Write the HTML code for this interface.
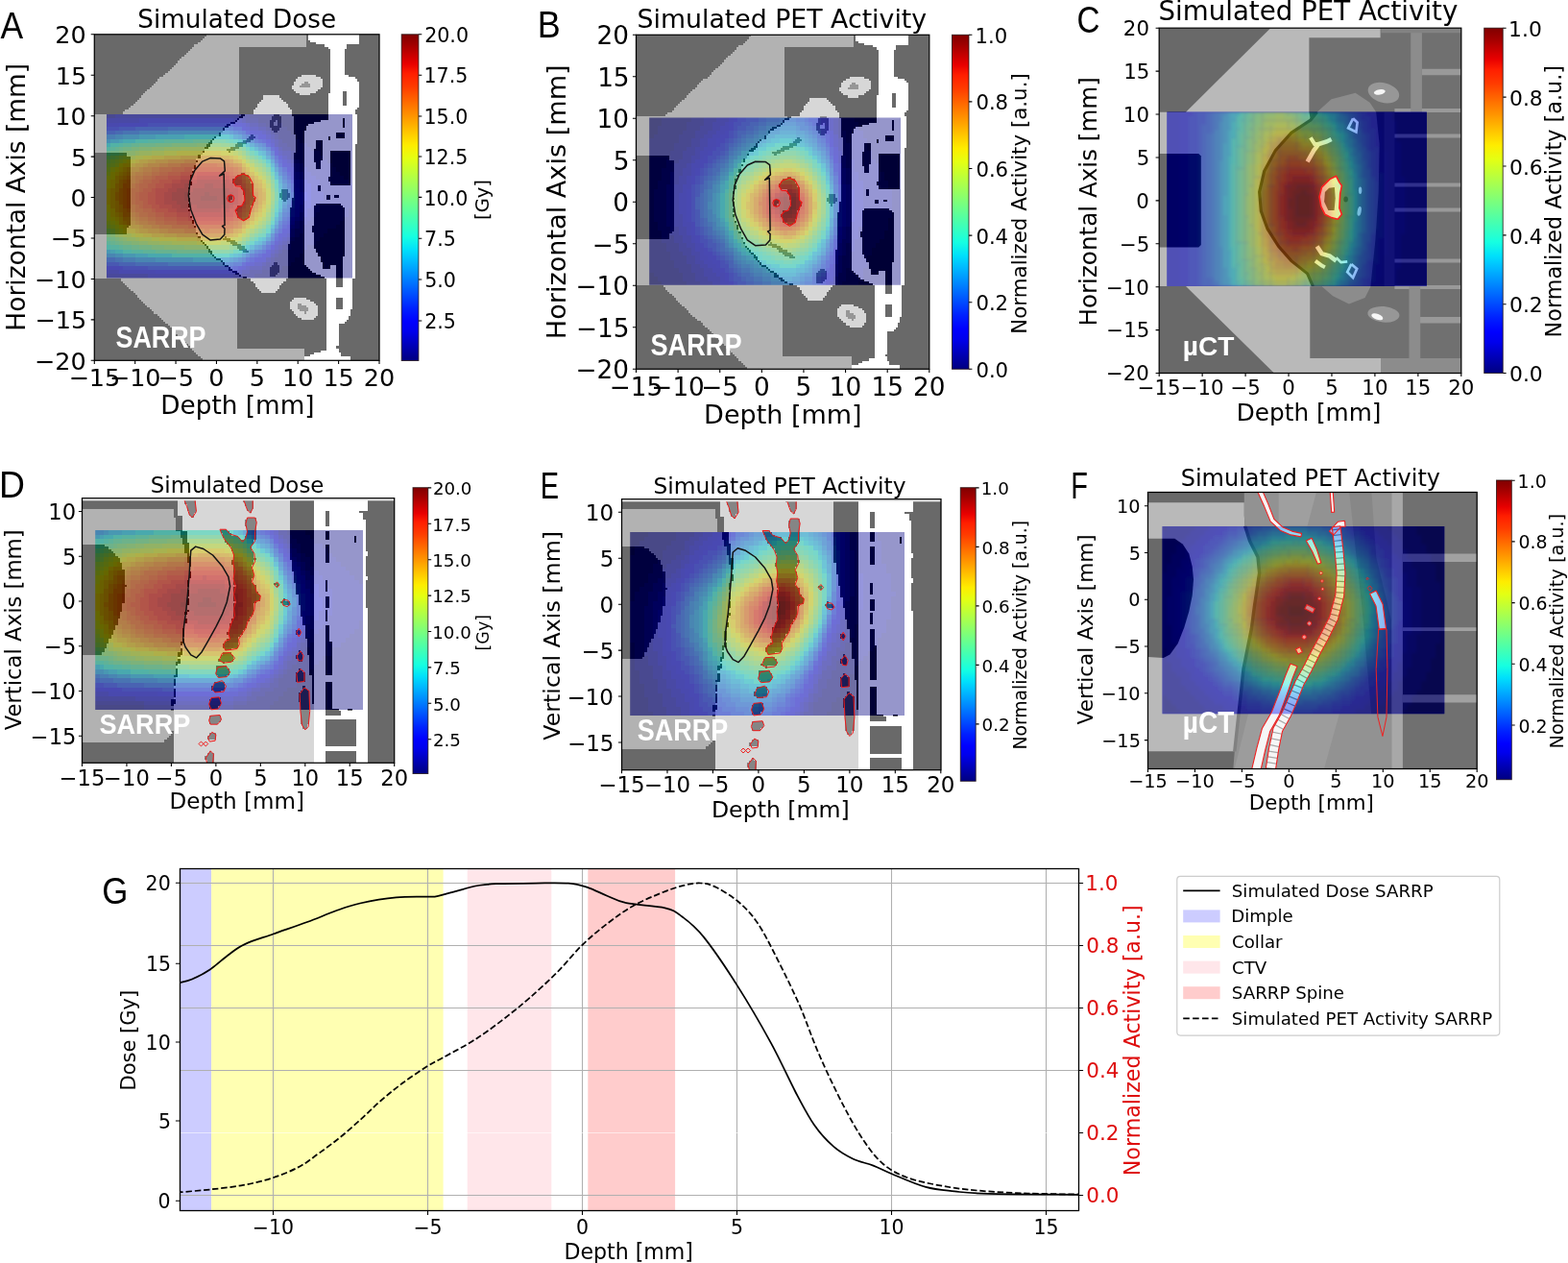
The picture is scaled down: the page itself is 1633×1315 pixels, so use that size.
<!DOCTYPE html>
<html lang="en"><head><meta charset="utf-8"><title>Simulated Dose and PET Activity</title>
<style>
html,body{margin:0;padding:0;background:#fff}
body{width:1633px;height:1315px;overflow:hidden}
svg{display:block}
.dv{font-family:"DejaVu Sans","Liberation Sans",sans-serif}
.lb{font-family:"Liberation Sans","DejaVu Sans",sans-serif}
.tg{font-family:"Liberation Sans","DejaVu Sans",sans-serif;font-weight:bold}
</style></head><body>
<svg width="1633" height="1315" viewBox="0 0 1633 1315">
<defs><filter id="bl" x="-5%" y="-5%" width="110%" height="110%"><feGaussianBlur stdDeviation="1.6"/></filter><linearGradient id="jet" x1="0" y1="1" x2="0" y2="0"><stop offset="0" stop-color="#000080"/><stop offset="0.03" stop-color="#0000a4"/><stop offset="0.06" stop-color="#0000c8"/><stop offset="0.09" stop-color="#0000ed"/><stop offset="0.12" stop-color="#0000ff"/><stop offset="0.16" stop-color="#0020ff"/><stop offset="0.19" stop-color="#0040ff"/><stop offset="0.22" stop-color="#0060ff"/><stop offset="0.25" stop-color="#0080ff"/><stop offset="0.28" stop-color="#00a0ff"/><stop offset="0.31" stop-color="#00c0ff"/><stop offset="0.34" stop-color="#00e0fb"/><stop offset="0.38" stop-color="#16ffe1"/><stop offset="0.41" stop-color="#30ffc7"/><stop offset="0.44" stop-color="#49ffad"/><stop offset="0.47" stop-color="#63ff94"/><stop offset="0.5" stop-color="#7dff7a"/><stop offset="0.53" stop-color="#97ff60"/><stop offset="0.56" stop-color="#b1ff46"/><stop offset="0.59" stop-color="#caff2c"/><stop offset="0.62" stop-color="#e4ff13"/><stop offset="0.66" stop-color="#feed00"/><stop offset="0.69" stop-color="#ffd000"/><stop offset="0.72" stop-color="#ffb200"/><stop offset="0.75" stop-color="#ff9400"/><stop offset="0.78" stop-color="#ff7700"/><stop offset="0.81" stop-color="#ff5900"/><stop offset="0.84" stop-color="#ff3b00"/><stop offset="0.88" stop-color="#ff1e00"/><stop offset="0.91" stop-color="#e80000"/><stop offset="0.94" stop-color="#c40000"/><stop offset="0.97" stop-color="#9f0000"/><stop offset="1" stop-color="#800000"/></linearGradient></defs>
<rect width="1633" height="1315" fill="#fff"/>
<g id="panelA">
<clipPath id="axA"><rect x="98.3" y="35.8" width="296.7" height="339.5"/></clipPath>
<clipPath id="htA"><rect x="111" y="119" width="256" height="170.6"/></clipPath>
<g clip-path="url(#axA)">
<g clip-path="url(#htA)">
<g shape-rendering="crispEdges">
<g transform="translate(111.02,118.98) scale(4.2668,4.2650)">
<path fill="#000080" d="m41 0h19v1h-19zm1 1h18v1h-18zm1 1h17v1h-17zm1 1h16v1h-16zm1 1h15v1h-15zm1 1h14v1h-14zm1 1h13v1h-13zm2 1h11v1h-11zm1 1h10v1h-10zm2 1h8v1h-8zm1 1h7v1h-7zm1 1h6v1h-6zm1 1h5v1h-5zm1 1h4v1h-4zm1 1h3v1h-3zm1 1h2v1h-2zm1 1h1v1h-1zm0 7h1v1h-1zm0 1h1v1h-1zm-1 1h2v1h-2zm-1 1h3v1h-3zm-1 1h4v1h-4zm-2 1h6v1h-6zm-1 1h7v1h-7zm-1 1h8v1h-8zm-1 1h9v1h-9zm-2 1h11v1h-11zm-1 1h12v1h-12zm-1 1h13v1h-13zm-1 1h14v1h-14zm-1 1h15v1h-15zm-2 1h17v1h-17zm-1 1h18v1h-18zm-1 1h19v1h-19z"/>
<path fill="#000096" d="m35 0h6v1h-6zm2 1h5v1h-5zm2 1h4v1h-4zm1 1h4v1h-4zm1 1h4v1h-4zm1 1h4v1h-4zm1 1h4v1h-4zm1 1h5v1h-5zm1 1h5v1h-5zm1 1h6v1h-6zm0 1h7v1h-7zm1 1h7v1h-7zm1 1h7v1h-7zm1 1h7v1h-7zm1 1h7v1h-7zm1 1h7v1h-7zm1 1h7v1h-7zm0 1h8v1h-8zm0 1h8v1h-8zm1 1h7v1h-7zm0 1h7v1h-7zm-1 1h8v1h-8zm0 1h8v1h-8zm0 1h7v1h-7zm-1 1h8v1h-8zm-1 1h8v1h-8zm-1 1h8v1h-8zm-1 1h8v1h-8zm0 1h6v1h-6zm-1 1h6v1h-6zm-1 1h6v1h-6zm-1 1h6v1h-6zm0 1h4v1h-4zm-2 1h5v1h-5zm-1 1h5v1h-5zm-1 1h5v1h-5zm0 1h4v1h-4zm-1 1h3v1h-3zm-2 1h4v1h-4zm-2 1h5v1h-5z"/>
<path fill="#0000ad" d="m0 0h2v1h-2zm32 0h3v1h-3zm2 1h3v1h-3zm3 1h2v1h-2zm2 1h1v1h-1zm1 1h1v1h-1zm1 1h1v1h-1zm1 1h1v1h-1zm0 1h2v1h-2zm1 1h2v1h-2zm2 1h1v1h-1zm0 1h1v1h-1zm1 1h1v1h-1zm1 1h1v1h-1zm0 1h2v1h-2zm1 1h2v1h-2zm0 1h3v1h-3zm1 1h3v1h-3zm1 1h2v1h-2zm0 1h2v1h-2zm0 1h3v1h-3zm0 1h3v1h-3zm0 1h2v1h-2zm0 1h2v1h-2zm-1 1h3v1h-3zm0 1h2v1h-2zm-1 1h2v1h-2zm-1 1h2v1h-2zm0 1h1v1h-1zm-1 1h2v1h-2zm0 1h1v1h-1zm-1 1h1v1h-1zm-1 1h1v1h-1zm-1 1h2v1h-2zm-1 1h1v1h-1zm-1 1h1v1h-1zm-1 1h1v1h-1zm-1 1h2v1h-2zm-1 1h2v1h-2zm-3 1h3v1h-3zm-2 1h3v1h-3z"/>
<path fill="#0000c8" d="m2 0h30v1h-30zm31 1h1v1h-1zm2 1h2v1h-2zm2 1h2v1h-2zm2 1h1v1h-1zm1 1h1v1h-1zm1 1h1v1h-1zm0 1h1v1h-1zm1 1h1v1h-1zm1 1h2v1h-2zm1 1h1v1h-1zm1 1h1v1h-1zm1 1h1v1h-1zm0 1h1v1h-1zm1 1h1v1h-1zm0 1h1v1h-1zm1 1h1v1h-1zm0 1h2v1h-2zm0 1h2v1h-2zm1 1h1v1h-1zm0 1h1v1h-1zm-1 1h2v1h-2zm0 1h2v1h-2zm0 1h1v1h-1zm-1 1h2v1h-2zm0 1h1v1h-1zm-1 1h1v1h-1zm0 1h1v1h-1zm-1 1h1v1h-1zm0 1h1v1h-1zm-1 1h1v1h-1zm-1 1h1v1h-1zm-1 1h1v1h-1zm-1 1h1v1h-1zm-1 1h1v1h-1zm-1 1h1v1h-1zm-1 1h1v1h-1zm-3 1h3v1h-3zm-2 1h2v1h-2zm-33 1h10v1h-10zm31 0h2v1h-2z"/>
<path fill="#0000df" d="m0 1h8v1h-8zm31 0h2v1h-2zm3 1h1v1h-1zm1 1h2v1h-2zm3 1h1v1h-1zm1 1h1v1h-1zm1 1h1v1h-1zm2 3h1v1h-1zm1 1h1v1h-1zm1 1h1v1h-1zm1 1h1v1h-1zm1 2h1v1h-1zm0 1h1v1h-1zm1 1h1v1h-1zm0 1h1v1h-1zm0 1h1v1h-1zm1 1h1v1h-1zm0 1h1v1h-1zm-1 2h1v1h-1zm0 1h1v1h-1zm-1 2h1v1h-1zm-1 2h1v1h-1zm-1 2h1v1h-1zm-1 1h1v1h-1zm-1 1h1v1h-1zm-1 1h1v1h-1zm-1 1h1v1h-1zm-4 3h2v1h-2zm-2 1h1v1h-1zm-34 1h3v1h-3zm32 0h1v1h-1zm-22 1h21v1h-21z"/>
<path fill="#0000f6" d="m8 1h23v1h-23zm-8 1h3v1h-3zm33 0h1v1h-1zm1 1h1v1h-1zm2 1h2v1h-2zm4 3h1v1h-1zm1 1h1v1h-1zm2 3h1v1h-1zm1 1h1v1h-1zm1 1h1v1h-1zm0 1h1v1h-1zm1 2h1v1h-1zm0 1h1v1h-1zm1 2h1v1h-1zm0 1h1v1h-1zm0 1h1v1h-1zm-1 2h1v1h-1zm0 1h1v1h-1zm-1 2h1v1h-1zm-1 2h1v1h-1zm-1 1h1v1h-1zm-1 1h1v1h-1zm-1 1h1v1h-1zm-2 3h1v1h-1zm-2 1h2v1h-2zm-2 1h1v1h-1zm-2 1h1v1h-1zm-30 1h9v1h-9zm27 0h2v1h-2z"/>
<path fill="#0000ff" d="m3 2h7v1h-7zm28 0h2v1h-2zm2 1h1v1h-1zm2 1h1v1h-1zm2 1h2v1h-2zm2 1h1v1h-1zm2 3h1v1h-1zm1 1h1v1h-1zm1 2h1v1h-1zm1 1h1v1h-1zm1 2h1v1h-1zm1 3h1v1h-1zm0 1h1v1h-1zm0 1h1v1h-1zm0 1h1v1h-1zm0 1h1v1h-1zm-1 3h1v1h-1zm-1 2h1v1h-1zm-1 1h1v1h-1zm-1 1h1v1h-1zm-2 3h1v1h-1zm-1 1h1v1h-1zm-1 1h1v1h-1zm-2 1h1v1h-1zm-2 1h1v1h-1zm-34 1h4v1h-4zm32 0h1v1h-1zm-20 1h18v1h-18z"/>
<path fill="#0014ff" d="m10 2h21v1h-21zm-10 1h3v1h-3zm34 1h1v1h-1zm2 1h1v1h-1zm2 1h1v1h-1zm1 1h1v1h-1zm1 1h1v1h-1zm2 3h1v1h-1zm2 3h1v1h-1zm1 2h1v1h-1zm0 7h1v1h-1zm0 1h1v1h-1zm-1 2h1v1h-1zm-1 1h1v1h-1zm-2 3h1v1h-1zm-4 4h1v1h-1zm-2 1h1v1h-1zm-2 1h1v1h-1zm-29 1h6v1h-6zm27 0h1v1h-1z"/>
<path fill="#0028ff" d="m3 3h4v1h-4zm28 0h2v1h-2zm4 2h1v1h-1zm2 1h1v1h-1zm4 4h1v1h-1zm1 2h1v1h-1zm1 1h1v1h-1zm1 2h1v1h-1zm1 2h1v1h-1zm0 1h1v1h-1zm0 3h1v1h-1zm0 1h1v1h-1zm-1 3h1v1h-1zm-1 1h1v1h-1zm-1 2h1v1h-1zm-1 1h1v1h-1zm-1 2h1v1h-1zm-1 1h1v1h-1zm-1 1h1v1h-1zm-2 1h1v1h-1zm-2 1h1v1h-1zm-34 1h3v1h-3zm10 1h21v1h-21z"/>
<path fill="#0040ff" d="m7 3h8v1h-8zm23 0h1v1h-1zm-30 1h2v1h-2zm33 0h1v1h-1zm3 2h1v1h-1zm4 3h1v1h-1zm1 2h1v1h-1zm2 3h1v1h-1zm1 2h1v1h-1zm1 3h1v1h-1zm0 1h1v1h-1zm-1 4h1v1h-1zm-1 1h1v1h-1zm-1 2h1v1h-1zm-5 6h1v1h-1zm-2 1h1v1h-1zm-32 2h4v1h-4zm28 0h2v1h-2z"/>
<path fill="#0054ff" d="m15 3h15v1h-15zm-13 1h2v1h-2zm30 0h1v1h-1zm2 1h1v1h-1zm4 2h1v1h-1zm1 1h1v1h-1zm3 5h1v1h-1zm1 2h1v1h-1zm1 2h1v1h-1zm0 5h1v1h-1zm0 1h1v1h-1zm-1 1h1v1h-1zm-1 2h1v1h-1zm-1 2h1v1h-1zm-1 2h1v1h-1zm-1 1h1v1h-1zm-1 1h1v1h-1zm-2 1h1v1h-1zm-36 2h2v1h-2zm33 0h1v1h-1zm-26 1h8v1h-8zm23 0h1v1h-1z"/>
<path fill="#0068ff" d="m4 4h4v1h-4zm27 0h1v1h-1zm2 1h1v1h-1zm2 1h1v1h-1zm2 1h1v1h-1zm3 3h1v1h-1zm1 2h1v1h-1zm1 2h1v1h-1zm1 2h1v1h-1zm1 2h1v1h-1zm0 1h1v1h-1zm0 1h1v1h-1zm0 1h1v1h-1zm-1 2h1v1h-1zm-3 6h1v1h-1zm-6 5h1v1h-1zm-32 1h2v1h-2zm30 0h1v1h-1zm-17 1h15v1h-15z"/>
<path fill="#0080ff" d="m8 4h7v1h-7zm22 0h1v1h-1zm-30 1h2v1h-2zm34 1h1v1h-1zm2 1h1v1h-1zm2 1h1v1h-1zm1 1h1v1h-1zm4 8h1v1h-1zm0 5h1v1h-1zm-1 3h1v1h-1zm-1 2h1v1h-1zm-4 5h1v1h-1zm-2 1h1v1h-1zm-31 2h3v1h-3zm27 0h1v1h-1z"/>
<path fill="#0094ff" d="m15 4h15v1h-15zm-13 1h2v1h-2zm30 0h1v1h-1zm5 3h1v1h-1zm3 3h1v1h-1zm1 2h1v1h-1zm1 2h1v1h-1zm1 3h1v1h-1zm0 1h1v1h-1zm0 1h1v1h-1zm0 1h1v1h-1zm-1 3h1v1h-1zm-3 6h1v1h-1zm-1 1h1v1h-1zm-2 1h1v1h-1zm-36 2h2v1h-2zm33 0h1v1h-1zm-26 1h5v1h-5zm23 0h1v1h-1z"/>
<path fill="#00a8ff" d="m4 5h4v1h-4zm27 0h1v1h-1zm-31 1h1v1h-1zm35 1h1v1h-1zm4 3h1v1h-1zm3 6h1v1h-1zm-1 10h1v1h-1zm-1 2h1v1h-1zm-6 5h1v1h-1zm-32 1h2v1h-2zm10 1h9v1h-9zm16 0h2v1h-2z"/>
<path fill="#00c0ff" d="m8 5h4v1h-4zm-7 1h2v1h-2zm32 0h1v1h-1zm3 2h1v1h-1zm2 1h1v1h-1zm2 3h1v1h-1zm1 2h1v1h-1zm1 3h1v1h-1zm0 6h1v1h-1zm-1 2h1v1h-1zm-2 4h1v1h-1zm-2 2h1v1h-1zm-2 1h1v1h-1zm-35 1h1v1h-1zm4 1h3v1h-3zm28 0h1v1h-1zm-11 1h7v1h-7z"/>
<path fill="#00d4ff" d="m12 5h7v1h-7zm18 0h1v1h-1zm-27 1h1v1h-1zm31 1h1v1h-1zm3 2h1v1h-1zm4 6h1v1h-1zm1 3h1v1h-1zm0 3h1v1h-1zm0 1h1v1h-1zm-2 5h1v1h-1zm-2 3h1v1h-1zm-2 1h1v1h-1zm-35 2h1v1h-1zm32 0h1v1h-1zm-26 1h3v1h-3zm24 0h1v1h-1z"/>
<path fill="#02e8f4" d="m19 5h11v1h-11zm-15 1h3v1h-3zm28 0h1v1h-1zm-32 1h1v1h-1zm35 1h1v1h-1zm3 2h1v1h-1zm1 1h1v1h-1zm1 2h1v1h-1zm2 6h1v1h-1zm0 1h1v1h-1zm-1 4h1v1h-1zm-4 6h1v1h-1zm-3 2h1v1h-1zm-32 1h2v1h-2zm8 1h6v1h-6zm20 0h1v1h-1z"/>
<path fill="#16ffe1" d="m7 6h3v1h-3zm24 0h1v1h-1zm-30 1h2v1h-2zm32 0h1v1h-1zm3 2h1v1h-1zm5 7h1v1h-1zm0 7h1v1h-1zm-1 3h1v1h-1zm-1 2h1v1h-1zm-4 3h1v1h-1zm-35 1h1v1h-1zm4 1h2v1h-2zm28 0h1v1h-1zm-16 1h14v1h-14z"/>
<path fill="#26ffd1" d="m10 6h4v1h-4zm20 0h1v1h-1zm-27 1h1v1h-1zm-3 1h1v1h-1zm34 0h1v1h-1zm3 2h1v1h-1zm2 2h1v1h-1zm1 2h1v1h-1zm1 3h1v1h-1zm0 5h1v1h-1zm-3 7h1v1h-1zm-2 1h1v1h-1zm-35 2h2v1h-2zm32 0h1v1h-1zm-27 1h3v1h-3zm25 0h1v1h-1z"/>
<path fill="#36ffc1" d="m14 6h7v1h-7zm15 0h1v1h-1zm-25 1h2v1h-2zm28 0h1v1h-1zm-31 1h1v1h-1zm34 1h1v1h-1zm3 2h1v1h-1zm3 7h1v1h-1zm0 3h1v1h-1zm-1 4h1v1h-1zm-1 2h1v1h-1zm-2 2h1v1h-1zm-37 2h1v1h-1zm34 0h1v1h-1zm-31 1h1v1h-1zm6 1h3v1h-3z"/>
<path fill="#49ffad" d="m21 6h8v1h-8zm-15 1h2v1h-2zm-4 1h1v1h-1zm34 2h1v1h-1zm4 5h1v1h-1zm1 4h1v1h-1zm0 1h1v1h-1zm-3 8h1v1h-1zm-3 2h1v1h-1zm-34 1h1v1h-1zm3 1h2v1h-2zm8 1h5v1h-5zm18 0h1v1h-1z"/>
<path fill="#5aff9d" d="m8 7h4v1h-4zm23 0h1v1h-1zm-28 1h1v1h-1zm30 0h1v1h-1zm-33 1h1v1h-1zm34 0h1v1h-1zm3 2h1v1h-1zm2 2h1v1h-1zm1 11h1v1h-1zm-4 5h1v1h-1zm-36 1h1v1h-1zm2 1h1v1h-1zm4 1h2v1h-2zm26 0h1v1h-1zm-15 1h13v1h-13z"/>
<path fill="#6aff8d" d="m12 7h4v1h-4zm18 0h1v1h-1zm-26 1h2v1h-2zm-3 1h2v1h-2zm34 1h1v1h-1zm3 2h1v1h-1zm2 4h1v1h-1zm0 7h1v1h-1zm-1 3h1v1h-1zm-2 2h1v1h-1zm-36 2h1v1h-1zm2 1h1v1h-1zm30 0h1v1h-1zm-25 1h3v1h-3zm23 0h1v1h-1z"/>
<path fill="#7dff7a" d="m16 7h6v1h-6zm12 0h2v1h-2zm-22 1h2v1h-2zm26 0h1v1h-1zm-29 1h1v1h-1zm-3 1h1v1h-1zm36 1h1v1h-1zm3 3h1v1h-1zm1 3h1v1h-1zm0 5h1v1h-1zm-2 5h1v1h-1zm-38 2h1v1h-1zm35 0h1v1h-1zm-33 1h1v1h-1zm32 0h1v1h-1zm-30 1h2v1h-2zm7 1h3v1h-3zm19 0h1v1h-1z"/>
<path fill="#8dff6a" d="m22 7h6v1h-6zm-14 1h3v1h-3zm23 0h1v1h-1zm-27 1h1v1h-1zm29 0h1v1h-1zm-32 1h1v1h-1zm33 0h1v1h-1zm3 2h1v1h-1zm1 1h1v1h-1zm2 5h1v1h-1zm0 3h1v1h-1zm-1 4h1v1h-1zm-3 3h1v1h-1zm-35 1h1v1h-1zm2 1h1v1h-1zm3 1h2v1h-2zm26 0h1v1h-1zm-18 1h5v1h-5z"/>
<path fill="#9dff5a" d="m11 8h3v1h-3zm-6 1h2v1h-2zm-3 1h1v1h-1zm-2 1h1v1h-1zm35 0h1v1h-1zm1 1h1v1h-1zm3 3h1v1h-1zm1 4h1v1h-1zm0 1h1v1h-1zm-1 4h1v1h-1zm-1 2h1v1h-1zm-1 1h1v1h-1zm-37 1h1v1h-1zm4 2h1v1h-1zm29 0h1v1h-1zm-25 1h2v1h-2zm11 1h11v1h-11z"/>
<path fill="#b1ff46" d="m14 8h4v1h-4zm16 0h1v1h-1zm-23 1h1v1h-1zm25 0h1v1h-1zm-29 1h1v1h-1zm-2 1h1v1h-1zm-1 1h1v1h-1zm37 1h1v1h-1zm1 1h1v1h-1zm1 2h1v1h-1zm-38 12h1v1h-1zm34 0h1v1h-1zm-33 1h1v1h-1zm32 0h1v1h-1zm-29 1h2v1h-2zm5 1h3v1h-3zm21 0h1v1h-1z"/>
<path fill="#c1ff36" d="m18 8h12v1h-12zm-10 1h3v1h-3zm-4 1h2v1h-2zm29 0h1v1h-1zm-31 1h1v1h-1zm32 0h1v1h-1zm-33 1h1v1h-1zm-1 1h1v1h-1zm39 10h1v1h-1zm-1 2h1v1h-1zm-1 1h1v1h-1zm-37 1h1v1h-1zm36 0h1v1h-1zm-33 2h1v1h-1zm4 1h1v1h-1zm6 1h3v1h-3zm17 0h1v1h-1z"/>
<path fill="#d1ff26" d="m11 9h3v1h-3zm20 0h1v1h-1zm-25 1h1v1h-1zm-3 1h1v1h-1zm-1 1h1v1h-1zm33 0h1v1h-1zm1 1h1v1h-1zm-36 1h1v1h-1zm37 0h1v1h-1zm1 1h1v1h-1zm1 2h1v1h-1zm0 5h1v1h-1zm-39 4h1v1h-1zm1 1h1v1h-1zm1 1h1v1h-1zm32 0h1v1h-1zm-30 1h2v1h-2zm29 0h1v1h-1zm-25 1h3v1h-3zm24 0h1v1h-1zm-16 1h6v1h-6zm12 0h2v1h-2z"/>
<path fill="#e4ff13" d="m14 9h3v1h-3zm16 0h1v1h-1zm-23 1h2v1h-2zm25 0h1v1h-1zm-28 1h1v1h-1zm-3 2h1v1h-1zm-1 2h1v1h-1zm39 3h1v1h-1zm0 1h1v1h-1zm0 1h1v1h-1zm0 1h1v1h-1zm-39 3h1v1h-1zm38 0h1v1h-1zm-38 1h1v1h-1zm37 0h1v1h-1zm-36 1h1v1h-1zm35 0h1v1h-1zm-34 1h1v1h-1zm33 0h1v1h-1zm-32 1h1v1h-1zm3 1h1v1h-1zm5 1h2v1h-2zm20 0h1v1h-1zm-9 1h6v1h-6z"/>
<path fill="#f4f802" d="m17 9h6v1h-6zm11 0h2v1h-2zm-19 1h2v1h-2zm-4 1h2v1h-2zm28 0h1v1h-1zm-30 1h1v1h-1zm31 0h1v1h-1zm-32 1h1v1h-1zm33 0h1v1h-1zm-34 1h1v1h-1zm35 0h1v1h-1zm-35 1h1v1h-1zm36 0h1v1h-1zm-37 1h1v1h-1zm38 0h1v1h-1zm-38 1h1v1h-1zm0 5h1v1h-1zm0 1h1v1h-1zm38 0h1v1h-1zm-37 2h1v1h-1zm1 1h1v1h-1zm1 1h1v1h-1zm1 1h1v1h-1zm3 1h2v1h-2zm25 0h1v1h-1zm-19 1h4v1h-4zm17 0h1v1h-1z"/>
<path fill="#ffe600" d="m23 9h5v1h-5zm-12 1h3v1h-3zm20 0h1v1h-1zm-24 1h1v1h-1zm-3 1h2v1h-2zm-1 1h1v1h-1zm-1 1h1v1h-1zm-1 2h1v1h-1zm0 1h1v1h-1zm37 0h1v1h-1zm-38 1h1v1h-1zm0 1h1v1h-1zm0 1h1v1h-1zm0 1h1v1h-1zm38 1h1v1h-1zm-37 1h1v1h-1zm0 1h1v1h-1zm36 0h1v1h-1zm-35 1h1v1h-1zm34 0h1v1h-1zm-1 1h1v1h-1zm-31 1h1v1h-1zm30 0h1v1h-1zm-29 1h2v1h-2zm28 0h1v1h-1zm-24 1h2v1h-2zm8 1h5v1h-5zm11 0h2v1h-2z"/>
<path fill="#ffd000" d="m14 10h4v1h-4zm16 0h1v1h-1zm-22 1h2v1h-2zm24 0h1v1h-1zm-26 1h1v1h-1zm27 0h1v1h-1zm-29 1h1v1h-1zm30 0h1v1h-1zm-31 1h1v1h-1zm32 0h1v1h-1zm-33 1h1v1h-1zm34 0h1v1h-1zm-34 1h1v1h-1zm35 0h1v1h-1zm-36 2h1v1h-1zm37 0h1v1h-1zm-37 1h1v1h-1zm0 1h1v1h-1zm0 1h1v1h-1zm37 0h1v1h-1zm-37 1h1v1h-1zm36 1h1v1h-1zm-35 1h1v1h-1zm34 0h1v1h-1zm-33 1h1v1h-1zm0 1h1v1h-1zm2 1h1v1h-1zm2 1h1v1h-1zm4 1h3v1h-3zm20 0h1v1h-1zm-9 1h6v1h-6z"/>
<path fill="#ffbd00" d="m18 10h5v1h-5zm10 0h2v1h-2zm-18 1h2v1h-2zm21 0h1v1h-1zm-24 1h2v1h-2zm-2 1h1v1h-1zm-1 1h1v1h-1zm-1 1h1v1h-1zm33 1h1v1h-1zm-34 1h1v1h-1zm35 0h1v1h-1zm-35 1h1v1h-1zm36 1h1v1h-1zm0 1h1v1h-1zm-36 1h1v1h-1zm0 1h1v1h-1zm35 0h1v1h-1zm-35 1h1v1h-1zm1 1h1v1h-1zm32 1h1v1h-1zm-31 1h1v1h-1zm30 0h1v1h-1zm-28 1h2v1h-2zm27 0h1v1h-1zm-25 1h2v1h-2zm24 0h1v1h-1zm-18 1h3v1h-3zm16 0h1v1h-1z"/>
<path fill="#ffab00" d="m23 10h5v1h-5zm-11 1h3v1h-3zm-3 1h1v1h-1zm-3 1h2v1h-2zm27 0h1v1h-1zm-28 1h1v1h-1zm29 0h1v1h-1zm-30 1h1v1h-1zm31 0h1v1h-1zm-32 1h1v1h-1zm0 1h1v1h-1zm33 0h1v1h-1zm1 1h1v1h-1zm-35 1h1v1h-1zm35 0h1v1h-1zm-35 1h1v1h-1zm35 0h1v1h-1zm0 1h1v1h-1zm-34 1h1v1h-1zm0 1h1v1h-1zm33 0h1v1h-1zm-1 1h1v1h-1zm-31 1h2v1h-2zm1 1h2v1h-2zm3 1h1v1h-1zm2 1h3v1h-3zm21 0h1v1h-1zm-14 1h5v1h-5zm11 0h2v1h-2z"/>
<path fill="#ff9400" d="m15 11h4v1h-4zm15 0h1v1h-1zm-20 1h3v1h-3zm22 0h1v1h-1zm-24 1h1v1h-1zm-2 1h1v1h-1zm-1 1h1v1h-1zm-1 1h1v1h-1zm31 0h1v1h-1zm-32 2h1v1h-1zm33 0h1v1h-1zm-33 1h1v1h-1zm0 1h1v1h-1zm0 1h1v1h-1zm33 1h1v1h-1zm-32 1h1v1h-1zm0 1h2v1h-2zm2 1h1v1h-1zm28 0h1v1h-1zm-27 1h1v1h-1zm26 0h1v1h-1zm-24 1h2v1h-2zm4 1h2v1h-2zm9 1h6v1h-6z"/>
<path fill="#ff8200" d="m19 11h11v1h-11zm-6 1h2v1h-2zm18 0h1v1h-1zm-22 1h2v1h-2zm-2 1h2v1h-2zm-1 1h1v1h-1zm28 0h1v1h-1zm-29 1h2v1h-2zm-1 1h2v1h-2zm0 1h1v1h-1zm0 1h1v1h-1zm32 0h1v1h-1zm-32 1h1v1h-1zm32 0h1v1h-1zm-32 1h1v1h-1zm32 0h1v1h-1zm-32 1h1v1h-1zm1 1h1v1h-1zm30 0h1v1h-1zm-29 1h1v1h-1zm1 1h1v1h-1zm1 1h2v1h-2zm3 1h2v1h-2zm21 0h1v1h-1zm-17 1h4v1h-4zm15 0h1v1h-1z"/>
<path fill="#ff6f00" d="m15 12h3v1h-3zm15 0h1v1h-1zm-19 1h2v1h-2zm21 0h1v1h-1zm-23 1h2v1h-2zm24 0h1v1h-1zm-26 1h2v1h-2zm0 1h1v1h-1zm27 0h1v1h-1zm-28 1h1v1h-1zm29 0h1v1h-1zm-30 1h1v1h-1zm30 0h1v1h-1zm-30 1h1v1h-1zm0 1h1v1h-1zm0 1h1v1h-1zm30 0h1v1h-1zm-30 1h2v1h-2zm30 0h1v1h-1zm-29 1h1v1h-1zm1 1h1v1h-1zm27 0h1v1h-1zm-26 1h2v1h-2zm25 0h1v1h-1zm-23 1h2v1h-2zm22 0h1v1h-1zm-19 1h3v1h-3zm18 0h1v1h-1zm-12 1h5v1h-5zm6 0h5v1h-5z"/>
<path fill="#ff5900" d="m18 12h5v1h-5zm9 0h3v1h-3zm-14 1h3v1h-3zm18 0h1v1h-1zm-20 1h2v1h-2zm21 0h1v1h-1zm-23 1h2v1h-2zm24 0h1v1h-1zm-25 1h1v1h-1zm-1 1h1v1h-1zm27 0h1v1h-1zm-28 1h2v1h-2zm0 1h1v1h-1zm29 0h1v1h-1zm-29 1h1v1h-1zm29 0h1v1h-1zm-29 1h1v1h-1zm1 1h1v1h-1zm27 0h1v1h-1zm-27 1h2v1h-2zm27 0h1v1h-1zm-26 1h2v1h-2zm25 0h1v1h-1zm-23 1h2v1h-2zm2 1h2v1h-2zm19 0h1v1h-1zm-15 1h4v1h-4zm13 0h2v1h-2zm-5 1h1v1h-1z"/>
<path fill="#ff4700" d="m23 12h4v1h-4zm-7 1h3v1h-3zm13 0h2v1h-2zm-16 1h2v1h-2zm18 0h1v1h-1zm-20 1h1v1h-1zm-2 1h2v1h-2zm24 0h1v1h-1zm-25 1h2v1h-2zm0 1h1v1h-1zm26 0h1v1h-1zm-27 1h1v1h-1zm27 0h1v1h-1zm-27 1h1v1h-1zm27 0h1v1h-1zm-27 1h2v1h-2zm27 0h1v1h-1zm-26 1h1v1h-1zm1 1h2v1h-2zm24 0h1v1h-1zm-23 1h2v1h-2zm2 1h2v1h-2zm20 0h1v1h-1zm-18 1h3v1h-3zm16 0h1v1h-1zm-10 1h9v1h-9z"/>
<path fill="#ff3400" d="m19 13h10v1h-10zm-4 1h3v1h-3zm15 0h1v1h-1zm-18 1h3v1h-3zm20 0h1v1h-1zm-21 1h2v1h-2zm-1 1h2v1h-2zm23 0h1v1h-1zm-24 1h2v1h-2zm-1 1h2v1h-2zm0 1h2v1h-2zm1 1h1v1h-1zm0 1h2v1h-2zm24 0h1v1h-1zm-22 1h1v1h-1zm1 1h2v1h-2zm20 0h1v1h-1zm-18 1h3v1h-3zm17 0h1v1h-1zm-14 1h4v1h-4zm12 0h1v1h-1z"/>
<path fill="#ff1e00" d="m18 14h4v1h-4zm10 0h2v1h-2zm-13 1h3v1h-3zm15 0h2v1h-2zm-17 1h3v1h-3zm18 0h2v1h-2zm-19 1h2v1h-2zm20 0h1v1h-1zm-21 1h1v1h-1zm22 0h1v1h-1zm-23 1h2v1h-2zm23 0h1v1h-1zm-23 1h2v1h-2zm23 0h1v1h-1zm-23 1h2v1h-2zm23 0h1v1h-1zm-22 1h2v1h-2zm1 1h3v1h-3zm20 0h1v1h-1zm-18 1h3v1h-3zm17 0h1v1h-1zm-14 1h3v1h-3zm12 0h2v1h-2zm-8 1h8v1h-8z"/>
<path fill="#f60b00" d="m22 14h6v1h-6zm-4 1h4v1h-4zm10 0h2v1h-2zm-12 1h2v1h-2zm14 0h1v1h-1zm-16 1h2v1h-2zm17 0h1v1h-1zm-19 1h3v1h-3zm20 0h1v1h-1zm-20 1h2v1h-2zm20 0h1v1h-1zm-20 1h2v1h-2zm20 0h1v1h-1zm-20 1h2v1h-2zm20 0h1v1h-1zm-19 1h3v1h-3zm18 0h2v1h-2zm-16 1h2v1h-2zm15 0h2v1h-2zm-13 1h3v1h-3zm12 0h2v1h-2zm-9 1h9v1h-9z"/>
<path fill="#df0000" d="m22 15h6v1h-6zm-4 1h4v1h-4zm10 0h2v1h-2zm-12 1h3v1h-3zm13 0h2v1h-2zm-14 1h2v1h-2zm15 0h2v1h-2zm-16 1h2v1h-2zm17 0h1v1h-1zm-17 1h2v1h-2zm17 0h1v1h-1zm-17 1h3v1h-3zm17 0h1v1h-1zm-15 1h2v1h-2zm14 0h1v1h-1zm-13 1h4v1h-4zm11 0h2v1h-2zm-8 1h9v1h-9z"/>
<path fill="#c40000" d="m22 16h6v1h-6zm-3 1h5v1h-5zm7 0h3v1h-3zm-9 1h4v1h-4zm12 0h1v1h-1zm-13 1h3v1h-3zm13 0h2v1h-2zm-13 1h3v1h-3zm14 0h1v1h-1zm-13 1h3v1h-3zm12 0h2v1h-2zm-11 1h4v1h-4zm10 0h2v1h-2zm-7 1h7v1h-7z"/>
<path fill="#ad0000" d="m24 17h2v1h-2zm-3 1h8v1h-8zm-2 1h5v1h-5zm6 0h4v1h-4zm-6 1h4v1h-4zm8 0h3v1h-3zm-7 1h9v1h-9zm2 1h6v1h-6z"/>
<path fill="#960000" d="m24 19h1v1h-1zm-1 1h4v1h-4z"/>
</g>
</g></g>
<g opacity="0.59">
<rect x="98.3" y="35.8" width="296.7" height="339.5" fill="#000"/>
<g transform="translate(98.3,35.8) scale(2.1193,2.1219)" shape-rendering="crispEdges">
<path fill="#4d4d4d" d="m103 23h2v1h-2zm-1 1h4v1h-4zm-1 1h5v1h-5zm-13 14h3v1h-3zm-1 1h5v2h-5zm-1 2h3v1h-3zm4 0h2v3h-2zm-4 1h2v2h-2zm0 2h6v1h-6zm1 1h4v1h-4zm1 1h2v1h-2zm-11 2h1v1h-1zm-1 1h3v1h-3zm-1 1h3v1h-3zm-2 1h4v1h-4zm-3 1h5v1h-5zm-1 1h4v1h-4zm-2 1h4v1h-4zm-2 1h4v1h-4zm1 1h1v1h-1zm6 11h2v1h-2zm-2 1h6v1h-6zm-1 1h7v1h-7zm-1 1h9v2h-9zm1 2h9v1h-9zm3 1h6v2h-6zm1 2h5v3h-5zm19 0h3v2h-3zm-1 2h5v2h-5zm-25 1h2v2h-2zm8 0h4v1h-4zm0 1h5v2h-5zm18 0h3v1h-3zm-26 1h1v1h-1zm27 0h1v1h-1zm-20 1h5v2h-5zm-3 2h7v2h-7zm-1 2h8v1h-8zm1 1h7v1h-7zm0 1h6v2h-6zm2 2h3v1h-3zm-8 9h1v1h-1zm-1 1h4v1h-4zm2 1h4v1h-4zm2 1h3v1h-3zm1 1h4v1h-4zm2 1h4v1h-4zm1 1h4v1h-4zm2 1h3v1h-3zm15 6h2v1h-2zm-1 1h4v1h-4zm-1 1h5v3h-5zm0 3h4v1h-4zm0 1h3v1h-3zm14 14h2v1h-2zm0 1h4v1h-4zm0 1h5v1h-5zm1 1h4v1h-4zm2 1h1v1h-1z"/>
<path fill="#7d7d7d" d="m55 0h49v1h-49zm-1 1h50v1h-50zm-1 1h51v1h-51zm-1 1h52v1h-52zm-1 1h53v1h-53zm-2 1h55v1h-55zm-1 1h23v1h-23zm-1 1h24v1h-24zm-1 1h25v1h-25zm-1 1h26v1h-26zm-1 1h27v1h-27zm-1 1h28v1h-28zm-1 1h29v1h-29zm-1 1h30v1h-30zm-1 1h31v1h-31zm-1 1h32v1h-32zm-1 1h33v1h-33zm-1 1h34v1h-34zm-1 1h35v1h-35zm-1 1h36v1h-36zm-1 1h37v1h-37zm-2 1h39v1h-39zm-1 1h40v1h-40zm-1 1h41v1h-41zm-1 1h42v1h-42zm-1 1h43v1h-43zm-1 1h44v1h-44zm-1 1h45v1h-45zm-1 1h46v1h-46zm-1 1h47v1h-47zm-1 1h48v1h-48zm-1 1h49v1h-49zm-1 1h50v1h-50zm-1 1h51v1h-51zm-1 1h52v1h-52zm-1 1h53v1h-53zm-1 1h54v1h-54zm-2 1h56v1h-56zm-1 1h57v1h-57zm-14 1h72v1h-72zm0 1h71v1h-71zm0 1h70v1h-70zm0 1h69v1h-69zm0 1h67v1h-67zm0 1h65v1h-65zm0 1h64v1h-64zm0 1h63v2h-63zm0 2h61v2h-61zm0 2h59v1h-59zm0 1h58v1h-58zm0 1h57v1h-57zm0 1h56v1h-56zm0 1h55v1h-55zm0 1h54v2h-54zm0 2h53v1h-53zm16 1h37v1h-37zm0 1h35v1h-35zm2 1h33v1h-33zm0 1h32v3h-32zm0 3h31v2h-31zm0 2h30v3h-30zm0 3h29v5h-29zm0 5h28v13h-28zm0 13h29v3h-29zm0 3h30v3h-30zm0 3h31v1h-31zm-1 1h32v1h-32zm-1 1h34v3h-34zm-16 3h51v2h-51zm0 2h52v2h-52zm0 2h53v1h-53zm0 1h54v1h-54zm0 1h55v1h-55zm0 1h56v2h-56zm0 2h57v1h-57zm0 1h58v1h-58zm0 1h59v1h-59zm0 1h60v1h-60zm0 1h62v1h-62zm0 1h63v1h-63zm0 1h64v1h-64zm0 1h66v2h-66zm0 2h68v1h-68zm0 1h69v1h-69zm0 1h71v1h-71zm0 1h73v1h-73zm13 1h57v1h-57zm1 1h56v1h-56zm1 1h55v1h-55zm1 1h54v1h-54zm1 1h53v1h-53zm1 1h52v1h-52zm1 1h51v1h-51zm1 1h50v1h-50zm1 1h49v1h-49zm1 1h48v1h-48zm1 1h47v1h-47zm1 1h46v1h-46zm1 1h45v1h-45zm1 1h44v1h-44zm1 1h43v1h-43zm1 1h42v1h-42zm1 1h41v1h-41zm2 1h39v1h-39zm1 1h38v1h-38zm1 1h37v1h-37zm1 1h36v1h-36zm1 1h35v1h-35zm1 1h34v1h-34zm1 1h33v1h-33zm1 1h32v1h-32zm1 1h31v1h-31zm1 1h30v1h-30zm1 1h29v1h-29zm1 1h28v1h-28zm1 1h27v1h-27zm1 1h26v1h-26zm1 1h25v1h-25zm1 1h24v1h-24zm1 1h23v1h-23zm1 1h55v1h-55zm1 1h54v1h-54zm1 1h53v1h-53zm1 1h52v1h-52zm1 1h51v1h-51zm1 1h50v1h-50z"/>
<path fill="#bbbbbb" d="m102 20h7v1h-7zm-2 1h11v1h-11zm-1 1h13v1h-13zm-1 1h5v1h-5zm7 0h7v1h-7zm-7 1h4v1h-4zm8 0h6v2h-6zm-9 1h4v1h-4zm0 1h14v1h-14zm1 1h12v1h-12zm1 1h10v1h-10zm2 1h5v1h-5zm-18 1h8v1h-8zm0 1h9v1h-9zm-1 1h11v1h-11zm-1 1h13v1h-13zm-1 1h15v2h-15zm-1 2h17v1h-17zm-1 1h19v2h-19zm-4 2h14v1h-14zm17 0h6v1h-6zm-18 1h14v1h-14zm19 0h6v6h-6zm-21 1h16v1h-16zm-1 1h16v1h-16zm19 0h1v1h-1zm-20 1h17v1h-17zm19 0h2v2h-2zm-21 1h19v1h-19zm-1 1h20v1h-20zm-2 1h23v1h-23zm27 0h7v1h-7zm-28 1h25v1h-25zm27 0h8v1h-8zm-28 1h36v1h-36zm0 1h15v1h-15zm16 0h21v1h-21zm-18 1h16v1h-16zm19 0h20v1h-20zm-20 1h16v1h-16zm19 0h21v1h-21zm-20 1h15v1h-15zm19 0h22v1h-22zm-19 1h12v1h-12zm17 0h24v1h-24zm-18 1h12v1h-12zm16 0h26v1h-26zm-17 1h11v1h-11zm15 0h28v1h-28zm-17 1h11v1h-11zm15 0h30v1h-30zm-15 1h12v1h-12zm13 0h32v1h-32zm-14 1h45v1h-45zm-1 1h46v2h-46zm-2 2h48v1h-48zm1 1h47v1h-47zm-1 1h48v3h-48zm-2 3h50v1h-50zm1 1h49v1h-49zm-1 1h24v1h-24zm26 0h24v1h-24zm-26 1h22v1h-22zm28 0h22v2h-22zm-28 1h21v1h-21zm-1 1h21v1h-21zm30 0h21v2h-21zm-29 1h20v1h-20zm0 1h21v1h-21zm30 0h20v3h-20zm-32 1h26v1h-26zm1 1h25v1h-25zm-1 1h27v2h-27zm32 0h14v2h-14zm17 0h3v2h-3zm-48 2h26v1h-26zm31 0h13v2h-13zm18 0h2v2h-2zm-50 1h20v1h-20zm22 0h6v2h-6zm-21 1h19v2h-19zm32 0h13v1h-13zm16 0h2v1h-2zm-28 1h7v1h-7zm12 0h14v1h-14zm15 0h3v1h-3zm-48 1h27v1h-27zm32 0h19v2h-19zm-31 1h26v1h-26zm0 1h23v1h-23zm30 0h20v1h-20zm-31 1h24v1h-24zm31 0h19v3h-19zm-30 1h22v1h-22zm0 1h23v2h-23zm29 1h20v2h-20zm-28 1h22v1h-22zm0 1h24v1h-24zm27 0h21v1h-21zm-26 1h47v3h-47zm1 3h46v3h-46zm1 3h45v2h-45zm1 2h12v1h-12zm13 0h31v1h-31zm-13 1h11v1h-11zm15 0h29v1h-29zm-14 1h12v1h-12zm16 0h27v1h-27zm-15 1h13v1h-13zm16 0h26v1h-26zm-15 1h13v1h-13zm17 0h23v1h-23zm-16 1h14v1h-14zm18 0h21v1h-21zm-17 1h14v1h-14zm18 0h20v1h-20zm-17 1h15v1h-15zm18 0h19v1h-19zm-18 1h37v1h-37zm1 1h36v1h-36zm1 1h35v1h-35zm2 1h33v1h-33zm1 1h32v1h-32zm1 1h24v1h-24zm26 0h5v1h-5zm-24 1h21v1h-21zm25 0h4v4h-4zm-24 1h19v1h-19zm1 1h18v1h-18zm2 1h16v1h-16zm1 1h15v1h-15zm19 0h5v1h-5zm-18 1h14v1h-14zm17 0h6v1h-6zm-14 1h20v1h-20zm2 1h17v1h-17zm1 1h15v1h-15zm1 1h13v1h-13zm0 1h12v1h-12zm1 1h11v1h-11zm1 1h9v1h-9zm1 1h7v1h-7zm16 3h6v1h-6zm-1 1h9v1h-9zm-1 1h12v1h-12zm0 1h4v3h-4zm6 0h7v1h-7zm2 1h6v1h-6zm1 1h5v2h-5zm-8 1h4v1h-4zm1 1h5v1h-5zm6 0h6v1h-6zm-5 1h11v1h-11zm1 1h9v1h-9zm2 1h6v1h-6z"/>
<path fill="#ffffff" d="m105 0h25v3h-25zm1 3h24v1h-24zm3 1h21v1h-21zm4 1h11v1h-11zm2 1h9v1h-9zm1 1h7v13h-7zm0 13h9v1h-9zm0 1h12v1h-12zm0 1h13v1h-13zm0 1h14v5h-14zm0 5h6v1h-6zm8 0h6v7h-6zm-9 1h7v6h-7zm0 6h15v1h-15zm0 1h14v1h-14zm0 1h13v2h-13zm0 2h14v2h-14zm0 2h7v1h-7zm8 0h6v5h-6zm-12 1h11v1h-11zm-3 1h14v1h-14zm-3 1h17v1h-17zm-1 1h18v1h-18zm0 1h25v1h-25zm-1 1h26v1h-26zm0 1h16v2h-16zm20 0h6v3h-6zm-20 2h12v2h-12zm13 0h3v1h-3zm0 1h13v1h-13zm-13 1h6v4h-6zm9 0h17v2h-17zm0 2h16v3h-16zm-9 2h5v7h-5zm9 1h4v5h-4zm14 0h2v17h-2zm-15 5h5v4h-5zm-8 1h6v3h-6zm0 3h13v4h-13zm0 4h12v2h-12zm0 2h13v2h-13zm0 2h7v3h-7zm8 0h17v3h-17zm-8 3h25v2h-25zm0 2h11v2h-11zm13 0h2v1h-2zm4 0h8v1h-8zm-4 1h12v1h-12zm-13 1h25v2h-25zm0 2h6v1h-6zm18 0h7v1h-7zm-18 1h5v10h-5zm19 0h6v1h-6zm1 1h5v24h-5zm-20 9h4v3h-4zm0 3h5v8h-5zm0 8h6v2h-6zm0 2h7v2h-7zm0 2h8v3h-8zm19 0h6v11h-6zm-19 3h9v1h-9zm1 1h8v1h-8zm12 0h3v2h-3zm-11 1h7v1h-7zm1 1h13v1h-13zm1 1h12v1h-12zm2 1h10v1h-10zm2 1h8v1h-8zm2 1h6v1h-6zm1 1h5v4h-5zm8 0h5v4h-5zm-8 4h13v5h-13zm0 5h5v6h-5zm8 0h5v6h-5zm-8 6h12v3h-12zm0 3h11v2h-11zm0 2h10v1h-10zm0 1h9v1h-9zm0 1h6v11h-6zm0 11h5v1h-5zm0 1h6v1h-6zm-3 1h9v1h-9zm-3 1h13v1h-13zm-2 1h15v1h-15zm-3 1h23v2h-23z"/>
</g>
</g>
<path fill="none" stroke="#f01010" stroke-width="1.1" stroke-linejoin="round" d="M253.7 181.1L259.4 184.1L262.9 190.6L263.6 203.6L266.2 206L264.2 210.1L261.3 218.2L259.4 226.3L253.7 229.9L248.1 226.3L245.1 219L248.1 215.3L252.1 214.1L254.9 208.4L254.2 199.5L250.5 194.1L245.6 193.8L242.9 189.3L246.4 183.7Z"/>
<path fill="none" stroke="#f01010" stroke-width="1.1" stroke-linejoin="round" d="M240.3 202.8L242.9 203.9L243.8 206.5L242.9 209.4L240.3 210.4L237.7 209.4L236.7 206.5L237.7 203.9Z"/>
<path fill="none" stroke="#141414" stroke-width="1.5" stroke-linejoin="round" d="M218.9 164.6L229.4 164.9L233.5 167.8L234.3 177.9L228.6 183.1L233.2 181.1L234 234.4L231.5 235.4L234 238L233.8 244.2L229.4 249.1L218.9 249.9L210.8 244.2L204.3 232.8L198.7 218.2L196.3 203.6L197.9 188.9L202.7 177.6L210.8 168.1Z"/>
</g>
<text class="tg" transform="scale(0.8357,1)" x="144.19" y="361.8" font-size="32.14" fill="#fff">SARRP</text>
<rect x="98.3" y="35.8" width="296.7" height="339.5" fill="none" stroke="#000" stroke-width="1.25"/>
<path d="M98.3 375.3v3.6M140.69 375.3v3.6M183.07 375.3v3.6M225.46 375.3v3.6M267.84 375.3v3.6M310.23 375.3v3.6M352.61 375.3v3.6M395 375.3v3.6M98.3 35.8h-3.6M98.3 78.24h-3.6M98.3 120.68h-3.6M98.3 163.11h-3.6M98.3 205.55h-3.6M98.3 247.99h-3.6M98.3 290.43h-3.6M98.3 332.86h-3.6M98.3 375.3h-3.6M435.9 35.8h3.4M435.9 78.2h3.4M435.9 121h3.4M435.9 163h3.4M435.9 205.4h3.4M435.9 248.2h3.4M435.9 291h3.4M435.9 334h3.4" stroke="#000" stroke-width="1.1" fill="none"/>
<text class="dv" x="71.39" y="401.8" font-size="25.5">−15</text>
<text class="dv" x="113.78" y="401.8" font-size="25.5">−10</text>
<text class="dv" x="164.28" y="401.8" font-size="25.5">−5</text>
<text class="dv" x="217.34" y="401.8" font-size="25.5">0</text>
<text class="dv" x="259.73" y="401.8" font-size="25.5">5</text>
<text class="dv" x="294" y="401.8" font-size="25.5">10</text>
<text class="dv" x="336.39" y="401.8" font-size="25.5">15</text>
<text class="dv" x="378.78" y="401.8" font-size="25.5">20</text>
<text class="dv" x="57.27" y="45.24" font-size="25.5">20</text>
<text class="dv" x="57.78" y="87.67" font-size="25.5">15</text>
<text class="dv" x="57.27" y="130.11" font-size="25.5">10</text>
<text class="dv" x="73.97" y="172.55" font-size="25.5">5</text>
<text class="dv" x="73.47" y="214.99" font-size="25.5">0</text>
<text class="dv" x="52.55" y="257.42" font-size="25.5">−5</text>
<text class="dv" x="35.85" y="299.86" font-size="25.5">−10</text>
<text class="dv" x="36.36" y="342.3" font-size="25.5">−15</text>
<text class="dv" x="35.85" y="384.74" font-size="25.5">−20</text>
<text class="dv" x="143.3" y="28.7" font-size="26.22">Simulated Dose</text>
<text class="dv" x="167.37" y="431" font-size="26.3">Depth [mm]</text>
<text class="dv" transform="translate(25.8,344.64) rotate(-90)" font-size="26.45">Horizontal Axis [mm]</text>
<rect x="418.2" y="35.8" width="17.7" height="339.7" fill="url(#jet)" stroke="#1a0a0a" stroke-opacity=".75" stroke-width="1"/>
<text class="dv" x="442.15" y="44.02" font-size="20.6">20.0</text>
<text class="dv" x="441.43" y="86.42" font-size="20.6">17.5</text>
<text class="dv" x="441.43" y="129.22" font-size="20.6">15.0</text>
<text class="dv" x="441.43" y="171.22" font-size="20.6">12.5</text>
<text class="dv" x="441.43" y="213.62" font-size="20.6">10.0</text>
<text class="dv" x="442.05" y="256.42" font-size="20.6">7.5</text>
<text class="dv" x="442.15" y="299.22" font-size="20.6">5.0</text>
<text class="dv" x="442.15" y="342.22" font-size="20.6">2.5</text>
<text class="dv" transform="translate(509,228.91) rotate(-90)" font-size="19.5">[Gy]</text>
<text class="lb" transform="scale(0.9233,1)" x="0.67" y="40" font-size="38.4">A</text>
</g>
<g id="panelB">
<clipPath id="axB"><rect x="662.5" y="36.3" width="305.3" height="348"/></clipPath>
<clipPath id="htB"><rect x="676.2" y="122.4" width="261.9" height="174.4"/></clipPath>
<g clip-path="url(#axB)">
<g clip-path="url(#htB)">
<g shape-rendering="crispEdges">
<g transform="translate(676.19,122.43) scale(4.3658,4.3609)">
<path fill="#000080" d="m0 0h3v1h-3zm49 0h11v1h-11zm-49 1h3v1h-3zm50 0h10v1h-10zm-50 1h2v1h-2zm50 0h10v1h-10zm-50 1h2v1h-2zm51 0h9v1h-9zm-51 1h1v1h-1zm51 0h9v1h-9zm1 1h8v1h-8zm0 1h8v1h-8zm0 1h8v1h-8zm1 1h7v1h-7zm0 1h7v1h-7zm1 1h6v1h-6zm1 1h5v1h-5zm0 1h5v1h-5zm1 1h4v1h-4zm0 1h4v1h-4zm1 1h3v1h-3zm0 1h3v1h-3zm1 1h2v1h-2zm0 1h2v1h-2zm0 1h2v1h-2zm0 1h2v1h-2zm0 1h2v1h-2zm0 1h2v1h-2zm0 1h2v1h-2zm-1 1h3v1h-3zm0 1h3v1h-3zm0 1h3v1h-3zm-1 1h4v1h-4zm0 1h4v1h-4zm-1 1h5v1h-5zm-1 1h6v1h-6zm-1 1h7v1h-7zm0 1h7v1h-7zm-1 1h8v1h-8zm0 1h8v1h-8zm0 1h8v1h-8zm-1 1h9v1h-9zm-51 1h1v1h-1zm51 0h9v1h-9zm-51 1h2v1h-2zm51 0h9v1h-9zm-51 1h3v1h-3zm50 0h10v1h-10z"/>
<path fill="#000096" d="m3 0h7v1h-7zm43 0h3v1h-3zm-43 1h6v1h-6zm43 0h4v1h-4zm-44 1h7v1h-7zm44 0h4v1h-4zm-44 1h6v1h-6zm45 0h4v1h-4zm-46 1h6v1h-6zm46 0h4v1h-4zm-47 1h7v1h-7zm47 0h5v1h-5zm-47 1h6v1h-6zm48 0h4v1h-4zm-48 1h6v1h-6zm48 0h4v1h-4zm-48 1h5v1h-5zm48 0h5v1h-5zm-48 1h5v1h-5zm48 0h5v1h-5zm-48 1h4v1h-4zm49 0h5v1h-5zm-49 1h4v1h-4zm49 0h6v1h-6zm-49 1h3v1h-3zm49 0h6v1h-6zm-49 1h3v1h-3zm50 0h6v1h-6zm-50 1h3v1h-3zm50 0h6v1h-6zm-50 1h2v1h-2zm51 0h6v1h-6zm-51 1h2v1h-2zm51 0h6v1h-6zm-51 1h1v1h-1zm51 0h7v1h-7zm-51 1h1v1h-1zm51 0h7v1h-7zm-51 1h1v1h-1zm51 0h7v1h-7zm-51 1h1v1h-1zm51 0h7v1h-7zm-51 1h1v1h-1zm51 0h7v1h-7zm-51 1h1v1h-1zm51 0h7v1h-7zm-51 1h1v1h-1zm51 0h7v1h-7zm-51 1h1v1h-1zm51 0h6v1h-6zm-51 1h2v1h-2zm51 0h6v1h-6zm-51 1h2v1h-2zm50 0h7v1h-7zm-50 1h3v1h-3zm50 0h6v1h-6zm-50 1h3v1h-3zm50 0h6v1h-6zm-50 1h3v1h-3zm49 0h6v1h-6zm-49 1h4v1h-4zm49 0h5v1h-5zm-49 1h4v1h-4zm49 0h4v1h-4zm-49 1h5v1h-5zm48 0h5v1h-5zm-48 1h5v1h-5zm48 0h4v1h-4zm-48 1h6v1h-6zm48 0h4v1h-4zm-48 1h6v1h-6zm48 0h4v1h-4zm-48 1h7v1h-7zm47 0h4v1h-4zm-46 1h7v1h-7zm46 0h4v1h-4zm-45 1h6v1h-6zm45 0h4v1h-4zm-44 1h6v1h-6zm43 0h4v1h-4z"/>
<path fill="#0000ad" d="m10 0h3v1h-3zm35 0h1v1h-1zm-36 1h4v1h-4zm36 0h1v1h-1zm-36 1h3v1h-3zm36 0h1v1h-1zm-37 1h3v1h-3zm37 0h2v1h-2zm-38 1h4v1h-4zm38 0h2v1h-2zm-38 1h3v1h-3zm39 0h1v1h-1zm-40 1h4v1h-4zm40 0h2v1h-2zm-40 1h3v1h-3zm40 0h2v1h-2zm-41 1h3v1h-3zm41 0h2v1h-2zm-41 1h3v1h-3zm42 0h1v1h-1zm-43 1h3v1h-3zm43 0h2v1h-2zm-43 1h2v1h-2zm43 0h2v1h-2zm-44 1h3v1h-3zm45 0h1v1h-1zm-45 1h2v1h-2zm45 0h2v1h-2zm-45 1h2v1h-2zm45 0h2v1h-2zm-46 1h3v1h-3zm46 0h3v1h-3zm-46 1h2v1h-2zm46 0h3v1h-3zm-47 1h3v1h-3zm48 0h2v1h-2zm-48 1h3v1h-3zm48 0h2v1h-2zm-48 1h3v1h-3zm48 0h2v1h-2zm-48 1h3v1h-3zm48 0h2v1h-2zm-48 1h3v1h-3zm48 0h2v1h-2zm-48 1h3v1h-3zm48 0h2v1h-2zm-48 1h3v1h-3zm48 0h2v1h-2zm-48 1h3v1h-3zm48 0h2v1h-2zm-47 1h2v1h-2zm46 0h3v1h-3zm-46 1h3v1h-3zm46 0h2v1h-2zm-45 1h2v1h-2zm45 0h2v1h-2zm-45 1h3v1h-3zm45 0h2v1h-2zm-45 1h3v1h-3zm45 0h1v1h-1zm-44 1h3v1h-3zm43 0h2v1h-2zm-43 1h3v1h-3zm43 0h2v1h-2zm-42 1h3v1h-3zm42 0h1v1h-1zm-42 1h4v1h-4zm41 0h2v1h-2zm-40 1h3v1h-3zm40 0h2v1h-2zm-40 1h4v1h-4zm40 0h2v1h-2zm-39 1h3v1h-3zm39 0h1v1h-1zm-38 1h3v1h-3zm37 0h2v1h-2zm-37 1h3v1h-3zm37 0h2v1h-2zm-36 1h3v1h-3zm36 0h1v1h-1z"/>
<path fill="#0000c8" d="m13 0h3v1h-3zm31 0h1v1h-1zm-31 1h2v1h-2zm31 0h1v1h-1zm-32 1h3v1h-3zm32 0h1v1h-1zm-33 1h3v1h-3zm33 0h1v1h-1zm-33 1h2v1h-2zm-1 1h2v1h-2zm35 0h1v1h-1zm-35 1h2v1h-2zm35 0h1v1h-1zm-36 1h2v1h-2zm36 0h1v1h-1zm-37 1h3v1h-3zm0 1h2v1h-2zm38 0h1v1h-1zm-39 1h3v1h-3zm39 0h1v1h-1zm-40 1h3v1h-3zm40 0h1v1h-1zm-40 1h2v1h-2zm41 0h1v1h-1zm-42 1h3v1h-3zm42 0h1v1h-1zm-42 1h2v1h-2zm42 0h1v1h-1zm-42 1h2v1h-2zm42 0h1v1h-1zm-43 1h2v1h-2zm0 1h2v1h-2zm44 0h1v1h-1zm-44 1h2v1h-2zm44 0h1v1h-1zm-44 1h2v1h-2zm44 0h1v1h-1zm-44 1h2v1h-2zm44 0h1v1h-1zm-44 1h2v1h-2zm44 0h1v1h-1zm-44 1h2v1h-2zm44 0h1v1h-1zm-44 1h2v1h-2zm44 0h1v1h-1zm-44 1h2v1h-2zm44 0h1v1h-1zm-44 1h2v1h-2zm1 1h2v1h-2zm42 0h1v1h-1zm-42 1h2v1h-2zm42 0h1v1h-1zm-41 1h2v1h-2zm41 0h1v1h-1zm-41 1h2v1h-2zm40 0h2v1h-2zm-39 1h2v1h-2zm39 0h1v1h-1zm-39 1h3v1h-3zm39 0h1v1h-1zm-38 1h2v1h-2zm38 0h1v1h-1zm-37 1h2v1h-2zm36 0h1v1h-1zm-36 1h2v1h-2zm36 0h1v1h-1zm-35 1h2v1h-2zm35 0h1v1h-1zm-35 1h3v1h-3zm35 0h1v1h-1zm-34 1h2v1h-2zm0 1h3v1h-3zm33 0h1v1h-1zm-32 1h3v1h-3zm32 0h1v1h-1z"/>
<path fill="#0000df" d="m16 0h3v1h-3zm27 0h1v1h-1zm-28 1h3v1h-3zm28 0h1v1h-1zm-28 1h2v1h-2zm28 0h1v1h-1zm-29 1h2v1h-2zm-1 1h2v1h-2zm31 0h1v1h-1zm-32 1h2v1h-2zm32 0h1v1h-1zm-32 1h2v1h-2zm32 0h1v1h-1zm-33 1h2v1h-2zm0 1h1v1h-1zm34 0h1v1h-1zm-35 1h2v1h-2zm35 0h1v1h-1zm-35 1h1v1h-1zm35 0h1v1h-1zm-36 1h1v1h-1zm-1 1h2v1h-2zm38 0h1v1h-1zm-38 1h2v1h-2zm38 0h1v1h-1zm-39 1h2v1h-2zm39 0h1v1h-1zm-39 1h2v1h-2zm39 0h1v1h-1zm-40 1h2v1h-2zm41 0h1v1h-1zm-41 1h2v1h-2zm41 0h1v1h-1zm-41 1h1v1h-1zm41 0h1v1h-1zm-41 1h1v1h-1zm41 0h1v1h-1zm-41 1h1v1h-1zm41 0h1v1h-1zm-41 1h1v1h-1zm41 0h1v1h-1zm-41 1h1v1h-1zm41 0h1v1h-1zm-41 1h2v1h-2zm41 0h1v1h-1zm-41 1h2v1h-2zm41 0h1v1h-1zm-41 1h2v1h-2zm41 0h1v1h-1zm-40 1h2v1h-2zm39 0h1v1h-1zm-39 1h2v1h-2zm39 0h1v1h-1zm-38 1h2v1h-2zm38 0h1v1h-1zm-38 1h2v1h-2zm1 1h2v1h-2zm36 0h1v1h-1zm-35 1h1v1h-1zm35 0h1v1h-1zm-35 1h2v1h-2zm35 0h1v1h-1zm-34 1h1v1h-1zm0 1h2v1h-2zm1 1h2v1h-2zm32 0h1v1h-1zm-31 1h2v1h-2zm31 0h1v1h-1zm-31 1h3v1h-3zm31 0h1v1h-1zm-30 1h3v1h-3zm1 1h2v1h-2zm28 0h1v1h-1z"/>
<path fill="#0000f6" d="m19 0h1v1h-1zm23 0h1v1h-1zm-24 1h1v1h-1zm24 0h1v1h-1zm-25 1h2v1h-2zm-1 1h2v1h-2zm27 0h1v1h-1zm-28 1h2v1h-2zm28 0h1v1h-1zm-29 1h2v1h-2zm0 1h2v1h-2zm-1 1h2v1h-2zm31 0h1v1h-1zm-32 1h2v1h-2zm32 0h1v1h-1zm-32 1h1v1h-1zm-1 1h1v1h-1zm-1 1h2v1h-2zm35 0h1v1h-1zm-35 1h1v1h-1zm35 0h1v1h-1zm-35 1h1v1h-1zm35 0h1v1h-1zm-36 1h1v1h-1zm0 1h1v1h-1zm-1 1h2v1h-2zm38 0h1v1h-1zm-38 1h1v1h-1zm38 0h1v1h-1zm-39 1h2v1h-2zm39 0h1v1h-1zm-39 1h2v1h-2zm39 0h1v1h-1zm-39 1h2v1h-2zm39 0h1v1h-1zm-39 1h2v1h-2zm39 0h1v1h-1zm-39 1h2v1h-2zm39 0h1v1h-1zm-38 1h1v1h-1zm38 0h1v1h-1zm-38 1h1v1h-1zm38 0h1v1h-1zm-38 1h2v1h-2zm38 0h1v1h-1zm-37 1h1v1h-1zm0 1h1v1h-1zm1 1h1v1h-1zm35 0h1v1h-1zm-35 1h1v1h-1zm35 0h1v1h-1zm-34 1h1v1h-1zm0 1h2v1h-2zm1 1h1v1h-1zm0 1h2v1h-2zm32 0h1v1h-1zm-31 1h2v1h-2zm31 0h1v1h-1zm-30 1h2v1h-2zm1 1h2v1h-2zm28 0h1v1h-1zm-27 1h2v1h-2zm27 0h1v1h-1zm-26 1h1v1h-1zm26 0h1v1h-1zm-26 1h2v1h-2zm25 0h1v1h-1z"/>
<path fill="#0000ff" d="m20 0h1v1h-1zm21 0h1v1h-1zm-22 1h1v1h-1zm22 0h1v1h-1zm-22 1h1v1h-1zm23 0h1v1h-1zm-24 1h1v1h-1zm24 0h1v1h-1zm-25 1h2v1h-2zm-1 1h2v1h-2zm27 0h1v1h-1zm-27 1h1v1h-1zm27 0h1v1h-1zm-28 1h1v1h-1zm-1 1h1v1h-1zm-1 1h1v1h-1zm31 0h1v1h-1zm-32 1h2v1h-2zm32 0h1v1h-1zm-32 1h1v1h-1zm-1 1h1v1h-1zm0 1h1v1h-1zm-1 1h1v1h-1zm35 0h1v1h-1zm-35 1h1v1h-1zm35 0h1v1h-1zm-36 2h1v1h-1zm0 1h1v1h-1zm0 1h1v1h-1zm0 1h1v1h-1zm0 1h1v1h-1zm0 1h1v1h-1zm0 1h1v1h-1zm0 1h1v1h-1zm1 1h1v1h-1zm0 1h1v1h-1zm35 0h1v1h-1zm-35 1h1v1h-1zm35 0h1v1h-1zm-34 1h1v1h-1zm0 1h1v1h-1zm1 1h1v1h-1zm1 1h1v1h-1zm31 0h1v1h-1zm-31 1h2v1h-2zm31 0h1v1h-1zm-30 1h2v1h-2zm1 1h2v1h-2zm1 1h1v1h-1zm27 0h1v1h-1zm-26 1h1v1h-1zm1 1h1v1h-1zm24 0h1v1h-1zm-24 1h1v1h-1zm24 0h1v1h-1zm-23 1h1v1h-1z"/>
<path fill="#0014ff" d="m21 0h2v1h-2zm19 0h1v1h-1zm-20 1h2v1h-2zm20 0h1v1h-1zm-20 1h1v1h-1zm21 0h1v1h-1zm-22 1h1v1h-1zm22 0h1v1h-1zm-22 1h1v1h-1zm23 0h1v1h-1zm-24 1h1v1h-1zm24 0h1v1h-1zm-25 1h1v1h-1zm-1 1h2v1h-2zm27 0h1v1h-1zm-28 1h2v1h-2zm28 0h1v1h-1zm-29 1h2v1h-2zm0 1h1v1h-1zm-1 1h1v1h-1zm31 0h1v1h-1zm-32 1h1v1h-1zm32 0h1v1h-1zm-32 1h1v1h-1zm-1 1h1v1h-1zm0 1h1v1h-1zm-1 1h1v1h-1zm35 0h1v1h-1zm-35 1h1v1h-1zm35 0h1v1h-1zm-35 1h1v1h-1zm35 0h1v1h-1zm-35 1h1v1h-1zm35 0h1v1h-1zm-35 1h1v1h-1zm35 0h1v1h-1zm-35 1h1v1h-1zm35 0h1v1h-1zm-35 1h1v1h-1zm35 0h1v1h-1zm-35 1h1v1h-1zm35 0h1v1h-1zm-35 1h1v1h-1zm35 0h1v1h-1zm0 1h1v1h-1zm-34 1h1v1h-1zm0 1h1v1h-1zm1 1h1v1h-1zm0 1h2v1h-2zm32 0h1v1h-1zm-31 1h1v1h-1zm31 0h1v1h-1zm-30 1h1v1h-1zm1 1h1v1h-1zm1 1h1v1h-1zm27 0h1v1h-1zm-26 1h1v1h-1zm26 0h1v1h-1zm-26 1h2v1h-2zm1 1h1v1h-1zm24 0h1v1h-1zm-23 1h1v1h-1zm0 1h1v1h-1zm22 0h1v1h-1zm-21 1h1v1h-1zm21 0h1v1h-1z"/>
<path fill="#0028ff" d="m23 0h3v1h-3zm15 0h2v1h-2zm-16 1h2v1h-2zm17 0h1v1h-1zm-18 1h2v1h-2zm19 0h1v1h-1zm-20 1h1v1h-1zm0 1h1v1h-1zm21 0h1v1h-1zm-22 1h1v1h-1zm-1 1h1v1h-1zm24 0h1v1h-1zm-24 1h1v1h-1zm-1 1h1v1h-1zm-1 1h1v1h-1zm27 0h1v1h-1zm-28 1h1v1h-1zm-1 1h1v1h-1zm-1 1h1v1h-1zm0 1h1v1h-1zm31 0h1v1h-1zm-32 1h1v1h-1zm0 1h1v1h-1zm-1 1h1v1h-1zm0 1h1v1h-1zm0 1h1v1h-1zm0 4h1v1h-1zm0 1h1v1h-1zm0 1h1v1h-1zm0 1h1v1h-1zm1 1h1v1h-1zm0 1h1v1h-1zm1 1h1v1h-1zm31 0h1v1h-1zm-30 1h1v1h-1zm0 1h2v1h-2zm1 1h1v1h-1zm1 1h1v1h-1zm27 0h1v1h-1zm-26 1h1v1h-1zm1 1h1v1h-1zm24 0h1v1h-1zm0 1h1v1h-1zm-23 1h1v1h-1zm1 1h1v1h-1zm21 0h1v1h-1zm-21 1h2v1h-2zm20 0h1v1h-1zm-19 1h2v1h-2zm19 0h1v1h-1z"/>
<path fill="#0040ff" d="m26 0h2v1h-2zm11 0h1v1h-1zm-13 1h2v1h-2zm14 0h1v1h-1zm-15 1h2v1h-2zm16 0h1v1h-1zm-18 1h2v1h-2zm19 0h1v1h-1zm-19 1h1v1h-1zm19 0h1v1h-1zm-20 1h1v1h-1zm21 0h1v1h-1zm-22 1h1v1h-1zm23 1h1v1h-1zm-24 1h1v1h-1zm-1 1h1v1h-1zm-1 1h1v1h-1zm27 0h1v1h-1zm-28 1h1v1h-1zm-1 1h1v1h-1zm0 1h1v1h-1zm-1 1h1v1h-1zm31 0h1v1h-1zm0 1h1v1h-1zm-32 1h1v1h-1zm0 1h1v1h-1zm-1 2h1v1h-1zm0 1h1v1h-1zm0 1h1v1h-1zm1 3h1v1h-1zm0 1h1v1h-1zm1 1h1v1h-1zm31 0h1v1h-1zm-31 1h1v1h-1zm31 0h1v1h-1zm-30 1h1v1h-1zm1 1h1v1h-1zm1 1h1v1h-1zm27 0h1v1h-1zm-27 1h1v1h-1zm27 0h1v1h-1zm-26 1h1v1h-1zm1 1h1v1h-1zm24 0h1v1h-1zm-23 1h1v1h-1zm0 1h1v1h-1zm22 0h1v1h-1zm-21 1h1v1h-1zm21 0h1v1h-1zm-20 1h1v1h-1zm19 0h1v1h-1zm-18 1h1v1h-1zm17 0h1v1h-1zm-16 1h2v1h-2zm16 0h1v1h-1z"/>
<path fill="#0054ff" d="m28 0h3v1h-3zm7 0h2v1h-2zm-9 1h2v1h-2zm11 0h1v1h-1zm-12 1h1v1h-1zm13 0h1v1h-1zm-15 1h2v1h-2zm16 0h1v1h-1zm-17 1h1v1h-1zm-1 1h1v1h-1zm19 0h1v1h-1zm-20 1h1v1h-1zm21 0h1v1h-1zm-22 1h1v1h-1zm23 1h1v1h-1zm-24 1h1v1h-1zm-1 1h1v1h-1zm-1 1h1v1h-1zm27 0h1v1h-1zm-28 1h2v1h-2zm0 1h1v1h-1zm-1 1h1v1h-1zm-1 1h1v1h-1zm0 1h1v1h-1zm31 0h1v1h-1zm0 1h1v1h-1zm-32 1h1v1h-1zm0 1h1v1h-1zm0 1h1v1h-1zm0 1h1v1h-1zm0 1h1v1h-1zm0 1h1v1h-1zm1 1h1v1h-1zm31 0h1v1h-1zm-31 1h1v1h-1zm31 0h1v1h-1zm-30 1h1v1h-1zm0 1h1v1h-1zm1 1h1v1h-1zm1 1h1v1h-1zm27 0h1v1h-1zm-26 1h1v1h-1zm0 1h1v1h-1zm1 1h1v1h-1zm24 0h1v1h-1zm-23 1h1v1h-1zm22 1h1v1h-1zm-21 1h1v1h-1zm1 1h1v1h-1zm19 0h1v1h-1zm-18 1h2v1h-2zm17 0h1v1h-1zm-16 1h2v1h-2zm2 1h2v1h-2zm12 0h2v1h-2z"/>
<path fill="#0068ff" d="m31 0h4v1h-4zm-3 1h3v1h-3zm7 0h2v1h-2zm-9 1h2v1h-2zm10 0h2v1h-2zm-11 1h1v1h-1zm13 0h1v1h-1zm-15 1h2v1h-2zm16 0h1v1h-1zm-17 1h1v1h-1zm-1 1h1v1h-1zm19 0h1v1h-1zm-20 1h1v1h-1zm21 0h1v1h-1zm-22 1h1v1h-1zm23 1h1v1h-1zm-24 1h1v1h-1zm-1 1h1v1h-1zm26 1h1v1h-1zm-27 1h1v1h-1zm27 0h1v1h-1zm-28 1h1v1h-1zm-1 1h1v1h-1zm0 1h1v1h-1zm-1 1h1v1h-1zm0 1h1v1h-1zm31 0h1v1h-1zm-31 1h1v1h-1zm31 0h1v1h-1zm-31 1h1v1h-1zm31 0h1v1h-1zm-31 1h1v1h-1zm31 0h1v1h-1zm-31 1h1v1h-1zm31 0h1v1h-1zm-31 1h1v1h-1zm31 0h1v1h-1zm-30 2h1v1h-1zm1 2h1v1h-1zm1 1h1v1h-1zm27 0h1v1h-1zm-26 1h1v1h-1zm1 2h1v1h-1zm24 0h1v1h-1zm-23 1h1v1h-1zm22 1h1v1h-1zm-21 1h1v1h-1zm1 1h1v1h-1zm19 0h1v1h-1zm-18 1h2v1h-2zm17 0h1v1h-1zm-15 1h1v1h-1zm1 1h2v1h-2zm12 0h2v1h-2zm-10 1h2v1h-2zm9 0h1v1h-1z"/>
<path fill="#0080ff" d="m31 1h4v1h-4zm-3 1h3v1h-3zm7 0h1v1h-1zm-9 1h2v1h-2zm11 0h1v1h-1zm-12 1h1v1h-1zm13 0h1v1h-1zm-15 1h2v1h-2zm16 0h1v1h-1zm-17 1h1v1h-1zm-1 1h1v1h-1zm19 0h1v1h-1zm-20 1h1v1h-1zm21 0h1v1h-1zm-22 1h1v1h-1zm23 1h1v1h-1zm-24 1h1v1h-1zm-1 1h1v1h-1zm-1 2h1v1h-1zm27 0h1v1h-1zm-28 1h1v1h-1zm-1 2h1v1h-1zm0 1h1v1h-1zm0 1h1v1h-1zm0 3h1v1h-1zm0 1h1v1h-1zm0 1h1v1h-1zm1 1h1v1h-1zm0 1h1v1h-1zm1 1h1v1h-1zm27 0h1v1h-1zm-26 1h1v1h-1zm1 2h1v1h-1zm24 0h1v1h-1zm-23 1h1v1h-1zm1 2h1v1h-1zm1 1h1v1h-1zm19 0h1v1h-1zm-18 1h2v1h-2zm17 0h1v1h-1zm-15 1h1v1h-1zm1 1h2v1h-2zm12 0h2v1h-2zm-10 1h2v1h-2zm9 0h1v1h-1zm-7 1h3v1h-3zm4 0h3v1h-3z"/>
<path fill="#0094ff" d="m31 2h4v1h-4zm-3 1h3v1h-3zm7 0h2v1h-2zm-9 1h2v1h-2zm11 0h1v1h-1zm-12 1h1v1h-1zm13 0h1v1h-1zm-15 1h1v1h-1zm16 0h1v1h-1zm-17 1h1v1h-1zm-1 1h1v1h-1zm-1 1h1v1h-1zm21 0h1v1h-1zm-22 1h1v1h-1zm23 1h1v1h-1zm-24 1h1v1h-1zm-1 1h1v1h-1zm-1 2h1v1h-1zm27 0h1v1h-1zm-28 1h1v1h-1zm0 1h1v1h-1zm-1 3h1v1h-1zm0 1h1v1h-1zm1 2h1v1h-1zm0 1h1v1h-1zm1 2h1v1h-1zm27 0h1v1h-1zm-26 1h1v1h-1zm1 2h1v1h-1zm24 0h1v1h-1zm-22 3h1v1h-1zm21 0h1v1h-1zm-20 1h1v1h-1zm19 0h1v1h-1zm-18 1h1v1h-1zm2 1h1v1h-1zm1 1h2v1h-2zm13 0h1v1h-1zm-11 1h2v1h-2zm9 0h1v1h-1zm-7 1h3v1h-3zm5 0h2v1h-2zm-2 1h1v1h-1z"/>
<path fill="#00a8ff" d="m31 3h4v1h-4zm-3 1h2v1h-2zm7 0h2v1h-2zm-9 1h2v1h-2zm11 0h1v1h-1zm-13 1h2v1h-2zm14 0h1v1h-1zm-15 1h1v1h-1zm16 0h1v1h-1zm1 1h1v1h-1zm1 2h1v1h-1zm-22 1h1v1h-1zm23 1h1v1h-1zm-24 1h1v1h-1zm-1 1h1v1h-1zm-1 2h1v1h-1zm27 0h1v1h-1zm-27 1h1v1h-1zm-1 1h1v1h-1zm0 1h1v1h-1zm0 1h1v1h-1zm0 1h1v1h-1zm0 1h1v1h-1zm1 2h1v1h-1zm27 0h1v1h-1zm-27 1h1v1h-1zm27 0h1v1h-1zm-26 1h1v1h-1zm1 2h1v1h-1zm1 2h1v1h-1zm1 1h1v1h-1zm21 0h1v1h-1zm-20 1h1v1h-1zm1 1h1v1h-1zm1 1h2v1h-2zm16 0h1v1h-1zm-14 1h1v1h-1zm13 0h1v1h-1zm-11 1h1v1h-1zm10 0h1v1h-1zm-8 1h2v1h-2zm6 0h1v1h-1zm-3 1h2v1h-2z"/>
<path fill="#00c0ff" d="m30 4h5v1h-5zm-2 1h1v1h-1zm8 0h1v1h-1zm-10 1h1v1h-1zm11 0h1v1h-1zm-13 1h1v1h-1zm-2 1h1v1h-1zm17 0h1v1h-1zm-18 1h1v1h-1zm19 0h1v1h-1zm-20 1h1v1h-1zm-1 2h1v1h-1zm23 1h1v1h-1zm-24 1h1v1h-1zm-1 1h1v1h-1zm26 2h1v1h-1zm-27 1h1v1h-1zm27 0h1v1h-1zm-27 1h1v1h-1zm27 0h1v1h-1zm-27 1h1v1h-1zm0 1h1v1h-1zm27 0h1v1h-1zm-27 1h1v1h-1zm27 0h1v1h-1zm-27 1h1v1h-1zm27 0h1v1h-1zm-26 2h1v1h-1zm1 2h1v1h-1zm24 1h1v1h-1zm-23 1h1v1h-1zm22 1h1v1h-1zm-1 2h1v1h-1zm-17 1h1v1h-1zm16 0h1v1h-1zm-14 1h1v1h-1zm13 0h1v1h-1zm-12 1h2v1h-2zm11 0h1v1h-1zm-9 1h2v1h-2zm7 0h2v1h-2zm-4 1h4v1h-4z"/>
<path fill="#00d4ff" d="m29 5h2v1h-2zm5 0h2v1h-2zm-7 1h1v1h-1zm9 0h1v1h-1zm-11 1h1v1h-1zm13 0h1v1h-1zm-15 1h2v1h-2zm-1 1h1v1h-1zm-1 1h1v1h-1zm19 0h1v1h-1zm-20 1h1v1h-1zm21 0h1v1h-1zm1 3h1v1h-1zm-25 2h1v1h-1zm0 1h1v1h-1zm26 3h1v1h-1zm-26 4h1v1h-1zm1 2h1v1h-1zm24 1h1v1h-1zm-23 1h1v1h-1zm22 1h1v1h-1zm-21 1h1v1h-1zm1 1h1v1h-1zm19 0h1v1h-1zm-18 1h1v1h-1zm17 0h1v1h-1zm-15 1h1v1h-1zm2 1h1v1h-1zm11 0h1v1h-1zm-9 1h1v1h-1zm8 0h1v1h-1zm-6 1h5v1h-5z"/>
<path fill="#02e8f4" d="m31 5h3v1h-3zm-3 1h2v1h-2zm7 0h1v1h-1zm-9 1h2v1h-2zm11 0h1v1h-1zm-12 1h1v1h-1zm13 0h1v1h-1zm-15 1h1v1h-1zm16 0h1v1h-1zm2 3h1v1h-1zm-22 1h1v1h-1zm-1 2h1v1h-1zm24 0h1v1h-1zm-24 1h1v1h-1zm-1 2h1v1h-1zm0 1h1v1h-1zm0 1h1v1h-1zm0 1h1v1h-1zm0 1h1v1h-1zm0 1h1v1h-1zm1 2h1v1h-1zm24 1h1v1h-1zm-23 1h1v1h-1zm1 2h1v1h-1zm1 1h1v1h-1zm19 0h1v1h-1zm-18 1h1v1h-1zm1 1h2v1h-2zm2 1h1v1h-1zm13 0h1v1h-1zm-11 1h1v1h-1zm2 1h2v1h-2zm6 0h1v1h-1z"/>
<path fill="#16ffe1" d="m30 6h5v1h-5zm-2 1h1v1h-1zm8 0h1v1h-1zm-10 1h1v1h-1zm-2 1h1v1h-1zm-2 1h1v1h-1zm-1 1h1v1h-1zm19 0h1v1h-1zm-20 1h1v1h-1zm21 1h1v1h-1zm-22 1h1v1h-1zm23 2h1v1h-1zm-24 1h1v1h-1zm0 7h1v1h-1zm24 1h1v1h-1zm-1 3h1v1h-1zm-18 3h1v1h-1zm16 0h1v1h-1zm-14 1h1v1h-1zm13 0h1v1h-1zm-12 1h1v1h-1zm11 0h1v1h-1zm-9 1h2v1h-2zm8 0h1v1h-1zm-5 1h4v1h-4z"/>
<path fill="#26ffd1" d="m29 7h2v1h-2zm6 0h1v1h-1zm-8 1h1v1h-1zm10 0h1v1h-1zm-12 1h1v1h-1zm13 0h1v1h-1zm-15 1h1v1h-1zm16 0h1v1h-1zm-17 1h1v1h-1zm-1 1h1v1h-1zm-1 1h1v1h-1zm-1 2h1v1h-1zm23 2h1v1h-1zm-24 1h1v1h-1zm0 1h1v1h-1zm0 1h1v1h-1zm0 1h1v1h-1zm0 1h1v1h-1zm0 1h1v1h-1zm24 1h1v1h-1zm-23 2h1v1h-1zm22 1h1v1h-1zm-21 1h1v1h-1zm1 1h1v1h-1zm19 0h1v1h-1zm-18 1h1v1h-1zm2 1h1v1h-1zm2 1h1v1h-1zm1 1h2v1h-2zm9 0h1v1h-1zm-6 1h2v1h-2zm4 0h2v1h-2z"/>
<path fill="#36ffc1" d="m31 7h4v1h-4zm-3 1h1v1h-1zm8 0h1v1h-1zm-10 1h1v1h-1zm11 0h1v1h-1zm-13 1h1v1h-1zm-1 1h1v1h-1zm16 0h1v1h-1zm1 1h1v1h-1zm1 2h1v1h-1zm-22 2h1v1h-1zm23 2h1v1h-1zm0 1h1v1h-1zm0 1h1v1h-1zm0 1h1v1h-1zm0 1h1v1h-1zm0 1h1v1h-1zm-23 2h1v1h-1zm1 2h1v1h-1zm2 2h1v1h-1zm1 1h1v1h-1zm16 0h1v1h-1zm-14 1h1v1h-1zm13 0h1v1h-1zm-11 1h1v1h-1zm10 0h1v1h-1zm-8 1h1v1h-1zm6 0h1v1h-1zm-3 1h2v1h-2z"/>
<path fill="#49ffad" d="m29 8h2v1h-2zm6 0h1v1h-1zm-8 1h1v1h-1zm-2 1h1v1h-1zm13 0h1v1h-1zm-16 2h1v1h-1zm-1 1h1v1h-1zm19 0h1v1h-1zm-20 1h1v1h-1zm21 1h1v1h-1zm-22 2h1v1h-1zm0 7h1v1h-1zm22 2h1v1h-1zm-20 2h1v1h-1zm19 0h1v1h-1zm-16 2h1v1h-1zm2 1h1v1h-1zm2 1h1v1h-1zm8 0h1v1h-1zm-6 1h2v1h-2zm4 0h1v1h-1z"/>
<path fill="#5aff9d" d="m31 8h4v1h-4zm-3 1h1v1h-1zm8 0h1v1h-1zm-10 1h1v1h-1zm11 0h1v1h-1zm-13 1h1v1h-1zm-1 1h1v1h-1zm16 0h1v1h-1zm-19 3h1v1h-1zm21 1h1v1h-1zm-22 2h1v1h-1zm0 1h1v1h-1zm0 1h1v1h-1zm0 1h1v1h-1zm0 1h1v1h-1zm0 1h1v1h-1zm22 2h1v1h-1zm-21 1h1v1h-1zm1 1h1v1h-1zm19 0h1v1h-1zm-18 1h1v1h-1zm1 1h1v1h-1zm16 0h1v1h-1zm-14 1h1v1h-1zm13 0h1v1h-1zm-11 1h1v1h-1zm10 0h1v1h-1zm-8 1h1v1h-1zm6 0h1v1h-1zm-3 1h2v1h-2z"/>
<path fill="#6aff8d" d="m29 9h2v1h-2zm6 0h1v1h-1zm-8 1h1v1h-1zm-2 1h1v1h-1zm13 0h1v1h-1zm-14 1h1v1h-1zm-2 1h1v1h-1zm-1 1h1v1h-1zm19 0h1v1h-1zm-20 2h1v1h-1zm21 1h1v1h-1zm0 7h1v1h-1zm-21 1h1v1h-1zm19 3h1v1h-1zm-15 1h1v1h-1zm2 1h1v1h-1zm2 1h1v1h-1zm8 0h1v1h-1zm-6 1h2v1h-2zm4 0h1v1h-1z"/>
<path fill="#7dff7a" d="m31 9h4v1h-4zm-3 1h1v1h-1zm8 0h1v1h-1zm-10 1h1v1h-1zm-3 2h1v1h-1zm16 0h1v1h-1zm-18 2h1v1h-1zm19 0h1v1h-1zm-20 2h1v1h-1zm21 1h1v1h-1zm0 5h1v1h-1zm-21 1h1v1h-1zm1 2h1v1h-1zm19 0h1v1h-1zm-18 1h1v1h-1zm1 1h1v1h-1zm2 1h1v1h-1zm13 0h1v1h-1zm-11 1h1v1h-1zm10 0h1v1h-1zm-8 1h1v1h-1zm6 0h1v1h-1zm-3 1h2v1h-2z"/>
<path fill="#8dff6a" d="m29 10h1v1h-1zm6 0h1v1h-1zm-8 1h1v1h-1zm10 0h1v1h-1zm-12 1h1v1h-1zm13 0h1v1h-1zm-14 1h1v1h-1zm-2 1h1v1h-1zm-2 4h1v1h-1zm21 1h1v1h-1zm0 1h1v1h-1zm0 1h1v1h-1zm0 1h1v1h-1zm-21 1h1v1h-1zm1 2h1v1h-1zm19 0h1v1h-1zm-17 2h1v1h-1zm16 0h1v1h-1zm-15 1h1v1h-1zm12 2h1v1h-1zm-6 1h1v1h-1zm4 0h1v1h-1z"/>
<path fill="#9dff5a" d="m30 10h2v1h-2zm4 0h1v1h-1zm-6 1h1v1h-1zm8 0h1v1h-1zm-10 1h1v1h-1zm-3 2h1v1h-1zm16 0h1v1h-1zm-17 1h1v1h-1zm-1 1h1v1h-1zm19 0h1v1h-1zm-20 3h1v1h-1zm0 1h1v1h-1zm0 1h1v1h-1zm0 1h1v1h-1zm1 2h1v1h-1zm1 2h1v1h-1zm3 2h1v1h-1zm13 0h1v1h-1zm-12 1h1v1h-1zm11 0h1v1h-1zm-9 1h1v1h-1zm3 1h3v1h-3z"/>
<path fill="#b1ff46" d="m32 10h2v1h-2zm-3 1h1v1h-1zm-2 1h1v1h-1zm10 0h1v1h-1zm-12 1h1v1h-1zm13 0h1v1h-1zm-14 1h1v1h-1zm-3 3h1v1h-1zm19 0h1v1h-1zm-19 6h1v1h-1zm19 1h1v1h-1zm-18 1h1v1h-1zm1 1h1v1h-1zm16 0h1v1h-1zm-15 1h1v1h-1zm3 2h1v1h-1zm2 1h2v1h-2zm6 0h1v1h-1z"/>
<path fill="#c1ff36" d="m30 11h1v1h-1zm5 0h1v1h-1zm-9 2h1v1h-1zm-3 2h1v1h-1zm16 0h1v1h-1zm-17 1h1v1h-1zm-1 2h1v1h-1zm19 0h1v1h-1zm-19 1h1v1h-1zm19 0h1v1h-1zm-19 1h1v1h-1zm0 1h1v1h-1zm0 1h1v1h-1zm19 0h1v1h-1zm0 1h1v1h-1zm-15 4h1v1h-1zm13 0h1v1h-1zm-12 1h1v1h-1zm11 0h1v1h-1zm-9 1h1v1h-1zm8 0h1v1h-1zm-5 1h1v1h-1zm2 0h2v1h-2z"/>
<path fill="#d1ff26" d="m31 11h4v1h-4zm-3 1h1v1h-1zm8 0h1v1h-1zm1 1h1v1h-1zm-12 1h1v1h-1zm13 0h1v1h-1zm-14 1h1v1h-1zm-1 1h1v1h-1zm16 0h1v1h-1zm-17 1h1v1h-1zm18 3h1v1h-1zm0 1h1v1h-1zm-18 3h1v1h-1zm1 1h1v1h-1zm16 0h1v1h-1zm-15 1h1v1h-1zm3 2h1v1h-1zm2 1h1v1h-1zm6 0h1v1h-1zm-3 1h1v1h-1z"/>
<path fill="#e4ff13" d="m29 12h1v1h-1zm6 0h1v1h-1zm-8 1h1v1h-1zm-5 5h1v1h-1zm0 4h1v1h-1zm0 1h1v1h-1zm1 1h1v1h-1zm16 0h1v1h-1zm-14 2h1v1h-1zm13 0h1v1h-1zm-12 1h1v1h-1zm2 1h1v1h-1zm8 0h1v1h-1zm-6 1h1v1h-1zm4 0h1v1h-1z"/>
<path fill="#f4f802" d="m30 12h2v1h-2zm4 0h1v1h-1zm-6 1h1v1h-1zm8 0h1v1h-1zm-10 1h1v1h-1zm11 0h1v1h-1zm-12 1h1v1h-1zm13 0h1v1h-1zm-14 1h1v1h-1zm-1 1h1v1h-1zm16 0h1v1h-1zm-17 2h1v1h-1zm0 1h1v1h-1zm0 1h1v1h-1zm17 2h1v1h-1zm-15 2h1v1h-1zm3 2h1v1h-1zm10 0h1v1h-1zm-8 1h1v1h-1zm2 1h3v1h-3z"/>
<path fill="#ffe600" d="m32 12h2v1h-2zm-3 1h1v1h-1zm-2 1h1v1h-1zm-3 3h1v1h-1zm-1 1h1v1h-1zm16 0h1v1h-1zm-16 1h1v1h-1zm16 0h1v1h-1zm-16 3h1v1h-1zm16 0h1v1h-1zm-16 1h1v1h-1zm1 1h1v1h-1zm1 1h1v1h-1zm13 0h1v1h-1zm-12 1h1v1h-1zm4 2h1v1h-1zm5 0h1v1h-1z"/>
<path fill="#ffd000" d="m30 13h1v1h-1zm5 0h1v1h-1zm-7 1h1v1h-1zm8 0h1v1h-1zm-10 1h1v1h-1zm11 0h1v1h-1zm-12 1h1v1h-1zm13 0h1v1h-1zm-15 4h1v1h-1zm16 0h1v1h-1zm-16 1h1v1h-1zm16 0h1v1h-1zm-15 2h1v1h-1zm13 3h1v1h-1zm-9 1h1v1h-1zm8 0h1v1h-1zm-5 1h1v1h-1zm3 0h1v1h-1z"/>
<path fill="#ffbd00" d="m31 13h1v1h-1zm3 0h1v1h-1zm-7 2h1v1h-1zm-2 2h1v1h-1zm13 0h1v1h-1zm-14 1h1v1h-1zm0 1h1v1h-1zm0 1h1v1h-1zm0 1h1v1h-1zm0 1h1v1h-1zm1 2h1v1h-1zm13 0h1v1h-1zm-12 1h1v1h-1zm1 1h1v1h-1zm2 1h1v1h-1zm6 0h1v1h-1zm-3 1h2v1h-2z"/>
<path fill="#ffab00" d="m32 13h2v1h-2zm-3 1h1v1h-1zm6 0h1v1h-1zm-9 2h1v1h-1zm11 0h1v1h-1zm-12 2h1v1h-1zm13 0h1v1h-1zm-13 5h1v1h-1zm13 0h1v1h-1zm-1 2h1v1h-1zm-9 1h1v1h-1zm8 0h1v1h-1zm-6 1h1v1h-1z"/>
<path fill="#ff9400" d="m30 14h1v1h-1zm-2 1h1v1h-1zm8 0h1v1h-1zm-9 1h1v1h-1zm-1 1h1v1h-1zm-1 2h1v1h-1zm13 0h1v1h-1zm-13 1h1v1h-1zm13 0h1v1h-1zm-13 1h1v1h-1zm13 0h1v1h-1zm-13 1h1v1h-1zm13 0h1v1h-1zm-12 2h1v1h-1zm1 1h1v1h-1zm2 1h1v1h-1zm2 1h1v1h-1zm2 0h2v1h-2z"/>
<path fill="#ff8200" d="m31 14h4v1h-4zm-2 1h1v1h-1zm8 2h1v1h-1zm-11 1h1v1h-1zm0 5h1v1h-1zm1 1h1v1h-1zm10 0h1v1h-1zm-9 1h1v1h-1zm8 0h1v1h-1zm-1 1h1v1h-1zm-3 1h1v1h-1z"/>
<path fill="#ff6f00" d="m30 15h1v1h-1zm5 0h1v1h-1zm-7 1h1v1h-1zm8 0h1v1h-1zm-9 1h1v1h-1zm10 1h1v1h-1zm-11 1h1v1h-1zm0 2h1v1h-1zm0 1h1v1h-1zm11 1h1v1h-1zm-7 3h1v1h-1zm4 0h1v1h-1z"/>
<path fill="#ff5900" d="m31 15h1v1h-1zm3 0h1v1h-1zm-5 1h1v1h-1zm7 1h1v1h-1zm-9 1h1v1h-1zm10 1h1v1h-1zm-11 1h1v1h-1zm11 0h1v1h-1zm0 1h1v1h-1zm0 1h1v1h-1zm-10 1h1v1h-1zm1 1h1v1h-1zm8 0h1v1h-1zm-7 1h1v1h-1zm6 0h1v1h-1zm-4 1h3v1h-3z"/>
<path fill="#ff4700" d="m32 15h2v1h-2zm3 1h1v1h-1zm-7 1h1v1h-1zm-1 2h1v1h-1zm0 1h1v1h-1zm0 1h1v1h-1zm0 1h1v1h-1zm9 1h1v1h-1zm-6 2h1v1h-1z"/>
<path fill="#ff3400" d="m30 16h1v1h-1zm4 0h1v1h-1zm-5 1h1v1h-1zm-1 1h1v1h-1zm8 0h1v1h-1zm0 4h1v1h-1zm-8 1h1v1h-1zm1 1h1v1h-1zm6 0h1v1h-1zm-4 1h1v1h-1zm2 0h2v1h-2z"/>
<path fill="#ff1e00" d="m31 16h3v1h-3zm-1 1h1v1h-1zm5 0h1v1h-1zm-6 1h1v1h-1zm-1 1h1v1h-1zm8 0h1v1h-1zm-8 1h1v1h-1zm8 0h1v1h-1zm-8 1h1v1h-1zm8 0h1v1h-1zm-8 1h1v1h-1zm1 1h1v1h-1zm1 1h1v1h-1zm2 1h1v1h-1z"/>
<path fill="#f60b00" d="m34 17h1v1h-1zm1 1h1v1h-1zm-6 1h1v1h-1zm0 3h1v1h-1zm1 1h1v1h-1zm5 0h1v1h-1zm-4 1h1v1h-1zm2 0h2v1h-2z"/>
<path fill="#df0000" d="m31 17h3v1h-3zm-1 1h1v1h-1zm5 1h1v1h-1zm-6 1h1v1h-1zm6 0h1v1h-1zm-6 1h1v1h-1zm6 0h1v1h-1zm-5 1h1v1h-1zm5 0h1v1h-1zm-1 1h1v1h-1zm-2 1h1v1h-1z"/>
<path fill="#c40000" d="m31 18h1v1h-1zm2 0h2v1h-2zm-3 1h1v1h-1zm0 1h1v1h-1zm0 1h1v1h-1zm4 1h1v1h-1zm-3 1h3v1h-3z"/>
<path fill="#ad0000" d="m32 18h1v1h-1zm-1 1h1v1h-1zm2 0h2v1h-2zm-2 1h1v1h-1zm3 0h1v1h-1zm-3 1h1v1h-1zm3 0h1v1h-1zm-3 1h3v1h-3z"/>
<path fill="#960000" d="m32 19h1v1h-1zm0 1h2v1h-2zm0 1h2v1h-2z"/>
</g>
</g></g>
<g opacity="0.59">
<rect x="662.5" y="36.3" width="305.3" height="348" fill="#000"/>
<g transform="translate(662.5,36.3) scale(2.1807,2.1750)" shape-rendering="crispEdges">
<path fill="#4d4d4d" d="m103 23h2v1h-2zm-1 1h4v1h-4zm-1 1h5v1h-5zm-13 14h3v1h-3zm-1 1h5v2h-5zm-1 2h3v1h-3zm4 0h2v3h-2zm-4 1h2v2h-2zm0 2h6v1h-6zm1 1h4v1h-4zm1 1h2v1h-2zm-11 2h1v1h-1zm-1 1h3v1h-3zm-1 1h3v1h-3zm-2 1h4v1h-4zm-3 1h5v1h-5zm-1 1h4v1h-4zm-2 1h4v1h-4zm-2 1h4v1h-4zm1 1h1v1h-1zm6 11h2v1h-2zm-2 1h6v1h-6zm-1 1h7v1h-7zm-1 1h9v2h-9zm1 2h9v1h-9zm3 1h6v2h-6zm1 2h5v3h-5zm19 0h3v2h-3zm-1 2h5v2h-5zm-25 1h2v2h-2zm8 0h4v1h-4zm0 1h5v2h-5zm18 0h3v1h-3zm-26 1h1v1h-1zm27 0h1v1h-1zm-20 1h5v2h-5zm-3 2h7v2h-7zm-1 2h8v1h-8zm1 1h7v1h-7zm0 1h6v2h-6zm2 2h3v1h-3zm-8 9h1v1h-1zm-1 1h4v1h-4zm2 1h4v1h-4zm2 1h3v1h-3zm1 1h4v1h-4zm2 1h4v1h-4zm1 1h4v1h-4zm2 1h3v1h-3zm15 6h2v1h-2zm-1 1h4v1h-4zm-1 1h5v3h-5zm0 3h4v1h-4zm0 1h3v1h-3zm14 14h2v1h-2zm0 1h4v1h-4zm0 1h5v1h-5zm1 1h4v1h-4zm2 1h1v1h-1z"/>
<path fill="#7d7d7d" d="m55 0h49v1h-49zm-1 1h50v1h-50zm-1 1h51v1h-51zm-1 1h52v1h-52zm-1 1h53v1h-53zm-2 1h55v1h-55zm-1 1h23v1h-23zm-1 1h24v1h-24zm-1 1h25v1h-25zm-1 1h26v1h-26zm-1 1h27v1h-27zm-1 1h28v1h-28zm-1 1h29v1h-29zm-1 1h30v1h-30zm-1 1h31v1h-31zm-1 1h32v1h-32zm-1 1h33v1h-33zm-1 1h34v1h-34zm-1 1h35v1h-35zm-1 1h36v1h-36zm-1 1h37v1h-37zm-2 1h39v1h-39zm-1 1h40v1h-40zm-1 1h41v1h-41zm-1 1h42v1h-42zm-1 1h43v1h-43zm-1 1h44v1h-44zm-1 1h45v1h-45zm-1 1h46v1h-46zm-1 1h47v1h-47zm-1 1h48v1h-48zm-1 1h49v1h-49zm-1 1h50v1h-50zm-1 1h51v1h-51zm-1 1h52v1h-52zm-1 1h53v1h-53zm-1 1h54v1h-54zm-2 1h56v1h-56zm-1 1h57v1h-57zm-14 1h72v1h-72zm0 1h71v1h-71zm0 1h70v1h-70zm0 1h69v1h-69zm0 1h67v1h-67zm0 1h65v1h-65zm0 1h64v1h-64zm0 1h63v2h-63zm0 2h61v2h-61zm0 2h59v1h-59zm0 1h58v1h-58zm0 1h57v1h-57zm0 1h56v1h-56zm0 1h55v1h-55zm0 1h54v2h-54zm0 2h53v1h-53zm16 1h37v1h-37zm0 1h35v1h-35zm2 1h33v1h-33zm0 1h32v3h-32zm0 3h31v2h-31zm0 2h30v3h-30zm0 3h29v5h-29zm0 5h28v13h-28zm0 13h29v3h-29zm0 3h30v3h-30zm0 3h31v1h-31zm-1 1h32v1h-32zm-1 1h34v3h-34zm-16 3h51v2h-51zm0 2h52v2h-52zm0 2h53v1h-53zm0 1h54v1h-54zm0 1h55v1h-55zm0 1h56v2h-56zm0 2h57v1h-57zm0 1h58v1h-58zm0 1h59v1h-59zm0 1h60v1h-60zm0 1h62v1h-62zm0 1h63v1h-63zm0 1h64v1h-64zm0 1h66v2h-66zm0 2h68v1h-68zm0 1h69v1h-69zm0 1h71v1h-71zm0 1h73v1h-73zm13 1h57v1h-57zm1 1h56v1h-56zm1 1h55v1h-55zm1 1h54v1h-54zm1 1h53v1h-53zm1 1h52v1h-52zm1 1h51v1h-51zm1 1h50v1h-50zm1 1h49v1h-49zm1 1h48v1h-48zm1 1h47v1h-47zm1 1h46v1h-46zm1 1h45v1h-45zm1 1h44v1h-44zm1 1h43v1h-43zm1 1h42v1h-42zm1 1h41v1h-41zm2 1h39v1h-39zm1 1h38v1h-38zm1 1h37v1h-37zm1 1h36v1h-36zm1 1h35v1h-35zm1 1h34v1h-34zm1 1h33v1h-33zm1 1h32v1h-32zm1 1h31v1h-31zm1 1h30v1h-30zm1 1h29v1h-29zm1 1h28v1h-28zm1 1h27v1h-27zm1 1h26v1h-26zm1 1h25v1h-25zm1 1h24v1h-24zm1 1h23v1h-23zm1 1h55v1h-55zm1 1h54v1h-54zm1 1h53v1h-53zm1 1h52v1h-52zm1 1h51v1h-51zm1 1h50v1h-50z"/>
<path fill="#bbbbbb" d="m102 20h7v1h-7zm-2 1h11v1h-11zm-1 1h13v1h-13zm-1 1h5v1h-5zm7 0h7v1h-7zm-7 1h4v1h-4zm8 0h6v2h-6zm-9 1h4v1h-4zm0 1h14v1h-14zm1 1h12v1h-12zm1 1h10v1h-10zm2 1h5v1h-5zm-18 1h8v1h-8zm0 1h9v1h-9zm-1 1h11v1h-11zm-1 1h13v1h-13zm-1 1h15v2h-15zm-1 2h17v1h-17zm-1 1h19v2h-19zm-4 2h14v1h-14zm17 0h6v1h-6zm-18 1h14v1h-14zm19 0h6v6h-6zm-21 1h16v1h-16zm-1 1h16v1h-16zm19 0h1v1h-1zm-20 1h17v1h-17zm19 0h2v2h-2zm-21 1h19v1h-19zm-1 1h20v1h-20zm-2 1h23v1h-23zm27 0h7v1h-7zm-28 1h25v1h-25zm27 0h8v1h-8zm-28 1h36v1h-36zm0 1h15v1h-15zm16 0h21v1h-21zm-18 1h16v1h-16zm19 0h20v1h-20zm-20 1h16v1h-16zm19 0h21v1h-21zm-20 1h15v1h-15zm19 0h22v1h-22zm-19 1h12v1h-12zm17 0h24v1h-24zm-18 1h12v1h-12zm16 0h26v1h-26zm-17 1h11v1h-11zm15 0h28v1h-28zm-17 1h11v1h-11zm15 0h30v1h-30zm-15 1h12v1h-12zm13 0h32v1h-32zm-14 1h45v1h-45zm-1 1h46v2h-46zm-2 2h48v1h-48zm1 1h47v1h-47zm-1 1h48v3h-48zm-2 3h50v1h-50zm1 1h49v1h-49zm-1 1h24v1h-24zm26 0h24v1h-24zm-26 1h22v1h-22zm28 0h22v2h-22zm-28 1h21v1h-21zm-1 1h21v1h-21zm30 0h21v2h-21zm-29 1h20v1h-20zm0 1h21v1h-21zm30 0h20v3h-20zm-32 1h26v1h-26zm1 1h25v1h-25zm-1 1h27v2h-27zm32 0h14v2h-14zm17 0h3v2h-3zm-48 2h26v1h-26zm31 0h13v2h-13zm18 0h2v2h-2zm-50 1h20v1h-20zm22 0h6v2h-6zm-21 1h19v2h-19zm32 0h13v1h-13zm16 0h2v1h-2zm-28 1h7v1h-7zm12 0h14v1h-14zm15 0h3v1h-3zm-48 1h27v1h-27zm32 0h19v2h-19zm-31 1h26v1h-26zm0 1h23v1h-23zm30 0h20v1h-20zm-31 1h24v1h-24zm31 0h19v3h-19zm-30 1h22v1h-22zm0 1h23v2h-23zm29 1h20v2h-20zm-28 1h22v1h-22zm0 1h24v1h-24zm27 0h21v1h-21zm-26 1h47v3h-47zm1 3h46v3h-46zm1 3h45v2h-45zm1 2h12v1h-12zm13 0h31v1h-31zm-13 1h11v1h-11zm15 0h29v1h-29zm-14 1h12v1h-12zm16 0h27v1h-27zm-15 1h13v1h-13zm16 0h26v1h-26zm-15 1h13v1h-13zm17 0h23v1h-23zm-16 1h14v1h-14zm18 0h21v1h-21zm-17 1h14v1h-14zm18 0h20v1h-20zm-17 1h15v1h-15zm18 0h19v1h-19zm-18 1h37v1h-37zm1 1h36v1h-36zm1 1h35v1h-35zm2 1h33v1h-33zm1 1h32v1h-32zm1 1h24v1h-24zm26 0h5v1h-5zm-24 1h21v1h-21zm25 0h4v4h-4zm-24 1h19v1h-19zm1 1h18v1h-18zm2 1h16v1h-16zm1 1h15v1h-15zm19 0h5v1h-5zm-18 1h14v1h-14zm17 0h6v1h-6zm-14 1h20v1h-20zm2 1h17v1h-17zm1 1h15v1h-15zm1 1h13v1h-13zm0 1h12v1h-12zm1 1h11v1h-11zm1 1h9v1h-9zm1 1h7v1h-7zm16 3h6v1h-6zm-1 1h9v1h-9zm-1 1h12v1h-12zm0 1h4v3h-4zm6 0h7v1h-7zm2 1h6v1h-6zm1 1h5v2h-5zm-8 1h4v1h-4zm1 1h5v1h-5zm6 0h6v1h-6zm-5 1h11v1h-11zm1 1h9v1h-9zm2 1h6v1h-6z"/>
<path fill="#ffffff" d="m105 0h25v3h-25zm1 3h24v1h-24zm3 1h21v1h-21zm4 1h11v1h-11zm2 1h9v1h-9zm1 1h7v13h-7zm0 13h9v1h-9zm0 1h12v1h-12zm0 1h13v1h-13zm0 1h14v5h-14zm0 5h6v1h-6zm8 0h6v7h-6zm-9 1h7v6h-7zm0 6h15v1h-15zm0 1h14v1h-14zm0 1h13v2h-13zm0 2h14v2h-14zm0 2h7v1h-7zm8 0h6v5h-6zm-12 1h11v1h-11zm-3 1h14v1h-14zm-3 1h17v1h-17zm-1 1h18v1h-18zm0 1h25v1h-25zm-1 1h26v1h-26zm0 1h16v2h-16zm20 0h6v3h-6zm-20 2h12v2h-12zm13 0h3v1h-3zm0 1h13v1h-13zm-13 1h6v4h-6zm9 0h17v2h-17zm0 2h16v3h-16zm-9 2h5v7h-5zm9 1h4v5h-4zm14 0h2v17h-2zm-15 5h5v4h-5zm-8 1h6v3h-6zm0 3h13v4h-13zm0 4h12v2h-12zm0 2h13v2h-13zm0 2h7v3h-7zm8 0h17v3h-17zm-8 3h25v2h-25zm0 2h11v2h-11zm13 0h2v1h-2zm4 0h8v1h-8zm-4 1h12v1h-12zm-13 1h25v2h-25zm0 2h6v1h-6zm18 0h7v1h-7zm-18 1h5v10h-5zm19 0h6v1h-6zm1 1h5v24h-5zm-20 9h4v3h-4zm0 3h5v8h-5zm0 8h6v2h-6zm0 2h7v2h-7zm0 2h8v3h-8zm19 0h6v11h-6zm-19 3h9v1h-9zm1 1h8v1h-8zm12 0h3v2h-3zm-11 1h7v1h-7zm1 1h13v1h-13zm1 1h12v1h-12zm2 1h10v1h-10zm2 1h8v1h-8zm2 1h6v1h-6zm1 1h5v4h-5zm8 0h5v4h-5zm-8 4h13v5h-13zm0 5h5v6h-5zm8 0h5v6h-5zm-8 6h12v3h-12zm0 3h11v2h-11zm0 2h10v1h-10zm0 1h9v1h-9zm0 1h6v11h-6zm0 11h5v1h-5zm0 1h6v1h-6zm-3 1h9v1h-9zm-3 1h13v1h-13zm-2 1h15v1h-15zm-3 1h23v2h-23z"/>
</g>
</g>
<path fill="none" stroke="#f01010" stroke-width="1.1" stroke-linejoin="round" d="M822.4 185.3L828.3 188.3L831.9 194.9L832.6 208.3L835.2 210.8L833.2 214.9L830.2 223.3L828.3 231.6L822.4 235.3L816.6 231.6L813.6 224.1L816.6 220.3L820.8 219.1L823.6 213.3L822.9 204.1L819.1 198.6L814.1 198.3L811.3 193.6L814.9 187.9Z"/>
<path fill="none" stroke="#f01010" stroke-width="1.1" stroke-linejoin="round" d="M808.6 207.4L811.3 208.6L812.3 211.3L811.3 214.3L808.6 215.3L805.9 214.3L804.9 211.3L805.9 208.6Z"/>
<path fill="none" stroke="#141414" stroke-width="1.5" stroke-linejoin="round" d="M786.6 168.3L797.4 168.6L801.6 171.6L802.4 181.9L796.6 187.3L801.3 185.3L802.1 239.9L799.6 240.9L802.1 243.6L801.9 249.9L797.4 254.9L786.6 255.7L778.3 249.9L771.6 238.2L765.8 223.3L763.3 208.3L765 193.3L770 181.6L778.3 172Z"/>
</g>
<text class="tg" transform="scale(0.8600,1)" x="787.78" y="370.3" font-size="31.57" fill="#fff">SARRP</text>
<rect x="662.5" y="36.3" width="305.3" height="348" fill="none" stroke="#000" stroke-width="1.25"/>
<path d="M662.5 384.3v3.6M706.11 384.3v3.6M749.73 384.3v3.6M793.34 384.3v3.6M836.96 384.3v3.6M880.57 384.3v3.6M924.19 384.3v3.6M967.8 384.3v3.6M662.5 36.3h-3.6M662.5 79.8h-3.6M662.5 123.3h-3.6M662.5 166.8h-3.6M662.5 210.3h-3.6M662.5 253.8h-3.6M662.5 297.3h-3.6M662.5 340.8h-3.6M662.5 384.3h-3.6M1009 36.3h3.4M1009 105.9h3.4M1009 175.5h3.4M1009 245.1h3.4M1009 314.7h3.4M1009 384.3h3.4" stroke="#000" stroke-width="1.1" fill="none"/>
<text class="dv" x="634.75" y="411.8" font-size="26.3">−15</text>
<text class="dv" x="678.36" y="411.8" font-size="26.3">−10</text>
<text class="dv" x="730.34" y="411.8" font-size="26.3">−5</text>
<text class="dv" x="784.98" y="411.8" font-size="26.3">0</text>
<text class="dv" x="828.59" y="411.8" font-size="26.3">5</text>
<text class="dv" x="863.84" y="411.8" font-size="26.3">10</text>
<text class="dv" x="907.45" y="411.8" font-size="26.3">15</text>
<text class="dv" x="951.07" y="411.8" font-size="26.3">20</text>
<text class="dv" x="621.61" y="46.03" font-size="26.3">20</text>
<text class="dv" x="622.13" y="89.53" font-size="26.3">15</text>
<text class="dv" x="621.61" y="133.03" font-size="26.3">10</text>
<text class="dv" x="638.83" y="176.53" font-size="26.3">5</text>
<text class="dv" x="638.31" y="220.03" font-size="26.3">0</text>
<text class="dv" x="616.74" y="263.53" font-size="26.3">−5</text>
<text class="dv" x="599.52" y="307.03" font-size="26.3">−10</text>
<text class="dv" x="600.04" y="350.53" font-size="26.3">−15</text>
<text class="dv" x="599.52" y="394.03" font-size="26.3">−20</text>
<text class="dv" x="663.56" y="29.2" font-size="26.76">Simulated PET Activity</text>
<text class="dv" x="733.1" y="441" font-size="27.01">Depth [mm]</text>
<text class="dv" transform="translate(589.2,353.21) rotate(-90)" font-size="27.12">Horizontal Axis [mm]</text>
<rect x="991.5" y="36.3" width="17.5" height="348" fill="url(#jet)" stroke="#1a0a0a" stroke-opacity=".75" stroke-width="1"/>
<text class="dv" x="1015.47" y="44.74" font-size="21.2">1.0</text>
<text class="dv" x="1016.42" y="114.34" font-size="21.2">0.8</text>
<text class="dv" x="1016.42" y="183.94" font-size="21.2">0.6</text>
<text class="dv" x="1016.42" y="253.54" font-size="21.2">0.4</text>
<text class="dv" x="1016.42" y="323.14" font-size="21.2">0.2</text>
<text class="dv" x="1016.42" y="392.74" font-size="21.2">0.0</text>
<text class="dv" transform="translate(1068.7,347.7) rotate(-90)" font-size="21.36">Normalized Activity [a.u.]</text>
<text class="lb" transform="scale(0.9346,1)" x="598.8" y="39.5" font-size="38.4">B</text>
</g>
<g id="panelC">
<clipPath id="axC"><rect x="1207.2" y="29.2" width="314.6" height="359.3"/></clipPath>
<clipPath id="htC"><rect x="1215.3" y="116.4" width="270.6" height="181.5"/></clipPath>
<g clip-path="url(#axC)">
<g clip-path="url(#htC)">
<rect x="1206.3" y="107.4" width="288.6" height="199.5" fill="#0000f1"/>
<g filter="url(#bl)">
<g transform="translate(1215.29,116.42) scale(4.5093,4.5384)">
<path fill="#0000df" d="m52 0h8v1h-8zm0 1h8v1h-8zm1 1h7v1h-7zm0 1h7v1h-7zm0 1h7v1h-7zm0 1h7v1h-7zm0 1h7v1h-7zm1 1h6v1h-6zm0 1h6v1h-6zm0 1h6v1h-6zm0 1h6v1h-6zm0 1h6v1h-6zm0 1h6v1h-6zm0 1h6v1h-6zm0 1h6v1h-6zm1 1h5v1h-5zm0 1h5v1h-5zm0 1h5v1h-5zm0 1h5v1h-5zm0 1h5v1h-5zm0 1h5v1h-5zm0 1h5v1h-5zm0 1h5v1h-5zm0 1h5v1h-5zm0 1h5v1h-5zm0 1h5v1h-5zm0 1h5v1h-5zm0 1h5v1h-5zm-1 1h6v1h-6zm0 1h6v1h-6zm0 1h6v1h-6zm0 1h6v1h-6zm0 1h6v1h-6zm0 1h6v1h-6zm0 1h6v1h-6zm0 1h6v1h-6zm-1 1h7v1h-7zm0 1h7v1h-7zm0 1h7v1h-7zm0 1h7v1h-7z"/>
<path fill="#0000f6" d="m0 0h3v1h-3zm48 0h4v1h-4zm-48 1h3v1h-3zm49 0h3v1h-3zm-49 1h3v1h-3zm49 0h4v1h-4zm-49 1h3v1h-3zm49 0h4v1h-4zm-49 1h3v1h-3zm50 0h3v1h-3zm-50 1h3v1h-3zm50 0h3v1h-3zm-50 1h3v1h-3zm50 0h3v1h-3zm-50 1h3v1h-3zm50 0h4v1h-4zm-50 1h3v1h-3zm50 0h4v1h-4zm-50 1h3v1h-3zm51 0h3v1h-3zm-51 1h3v1h-3zm51 0h3v1h-3zm-51 1h3v1h-3zm51 0h3v1h-3zm-51 1h3v1h-3zm51 0h3v1h-3zm-51 1h3v1h-3zm51 0h3v1h-3zm-51 1h3v1h-3zm51 0h3v1h-3zm-51 1h3v1h-3zm51 0h4v1h-4zm-51 1h3v1h-3zm51 0h4v1h-4zm-51 1h3v1h-3zm51 0h4v1h-4zm-51 1h3v1h-3zm51 0h4v1h-4zm-51 1h3v1h-3zm51 0h4v1h-4zm-51 1h3v1h-3zm51 0h4v1h-4zm-51 1h3v1h-3zm51 0h4v1h-4zm-51 1h3v1h-3zm51 0h4v1h-4zm-51 1h3v1h-3zm51 0h4v1h-4zm-51 1h3v1h-3zm51 0h4v1h-4zm-51 1h3v1h-3zm51 0h4v1h-4zm-51 1h3v1h-3zm51 0h4v1h-4zm-51 1h3v1h-3zm51 0h4v1h-4zm-51 1h3v1h-3zm51 0h3v1h-3zm-51 1h3v1h-3zm51 0h3v1h-3zm-51 1h3v1h-3zm51 0h3v1h-3zm-51 1h3v1h-3zm51 0h3v1h-3zm-51 1h3v1h-3zm51 0h3v1h-3zm-51 1h3v1h-3zm50 0h4v1h-4zm-50 1h3v1h-3zm50 0h4v1h-4zm-50 1h3v1h-3zm50 0h4v1h-4zm-50 1h3v1h-3zm50 0h3v1h-3zm-50 1h3v1h-3zm50 0h3v1h-3zm-50 1h3v1h-3zm49 0h4v1h-4zm-49 1h3v1h-3zm49 0h4v1h-4z"/>
<path fill="#0000ff" d="m3 0h3v1h-3zm43 0h2v1h-2zm-43 1h2v1h-2zm44 0h2v1h-2zm-44 1h2v1h-2zm44 0h2v1h-2zm-44 1h2v1h-2zm44 0h2v1h-2zm-44 1h2v1h-2zm45 0h2v1h-2zm-45 1h2v1h-2zm45 0h2v1h-2zm-45 1h2v1h-2zm45 0h2v1h-2zm-45 1h2v1h-2zm45 0h2v1h-2zm-45 1h2v1h-2zm46 0h1v1h-1zm-46 1h2v1h-2zm46 0h2v1h-2zm-46 1h2v1h-2zm46 0h2v1h-2zm-46 1h2v1h-2zm46 0h2v1h-2zm-46 1h2v1h-2zm46 0h2v1h-2zm-46 1h2v1h-2zm46 0h2v1h-2zm-46 1h2v1h-2zm47 0h1v1h-1zm-47 1h2v1h-2zm47 0h1v1h-1zm-47 1h2v1h-2zm47 0h1v1h-1zm-47 1h2v1h-2zm47 0h1v1h-1zm-47 1h2v1h-2zm47 0h1v1h-1zm-47 1h2v1h-2zm47 0h1v1h-1zm-47 1h2v1h-2zm47 0h1v1h-1zm-47 1h2v1h-2zm47 0h1v1h-1zm-47 1h2v1h-2zm47 0h1v1h-1zm-47 1h2v1h-2zm47 0h1v1h-1zm-47 1h2v1h-2zm47 0h1v1h-1zm-47 1h2v1h-2zm47 0h1v1h-1zm-47 1h2v1h-2zm47 0h1v1h-1zm-47 1h2v1h-2zm47 0h1v1h-1zm-47 1h2v1h-2zm47 0h1v1h-1zm-47 1h2v1h-2zm46 0h2v1h-2zm-46 1h2v1h-2zm46 0h2v1h-2zm-46 1h2v1h-2zm46 0h2v1h-2zm-46 1h2v1h-2zm46 0h2v1h-2zm-46 1h2v1h-2zm46 0h1v1h-1zm-46 1h2v1h-2zm46 0h1v1h-1zm-46 1h2v1h-2zm45 0h2v1h-2zm-45 1h2v1h-2zm45 0h2v1h-2zm-45 1h2v1h-2zm45 0h2v1h-2zm-45 1h2v1h-2zm45 0h1v1h-1zm-45 1h2v1h-2zm44 0h2v1h-2z"/>
<path fill="#0014ff" d="m6 0h1v1h-1zm39 0h1v1h-1zm-40 1h2v1h-2zm40 0h2v1h-2zm-40 1h2v1h-2zm41 0h1v1h-1zm-41 1h2v1h-2zm41 0h1v1h-1zm-41 1h2v1h-2zm41 0h2v1h-2zm-41 1h2v1h-2zm42 0h1v1h-1zm-42 1h2v1h-2zm42 0h1v1h-1zm-42 1h2v1h-2zm42 0h1v1h-1zm-42 1h2v1h-2zm42 0h2v1h-2zm-42 1h2v1h-2zm43 0h1v1h-1zm-43 1h2v1h-2zm43 0h1v1h-1zm-43 1h2v1h-2zm43 0h1v1h-1zm-43 1h2v1h-2zm43 0h1v1h-1zm-43 1h2v1h-2zm43 0h1v1h-1zm-43 1h2v1h-2zm43 0h2v1h-2zm-43 1h2v1h-2zm43 0h2v1h-2zm-43 1h2v1h-2zm44 0h1v1h-1zm-44 1h2v1h-2zm44 0h1v1h-1zm-44 1h2v1h-2zm44 0h1v1h-1zm-44 1h2v1h-2zm44 0h1v1h-1zm-44 1h2v1h-2zm44 0h1v1h-1zm-44 1h2v1h-2zm44 0h1v1h-1zm-44 1h2v1h-2zm44 0h1v1h-1zm-44 1h2v1h-2zm44 0h1v1h-1zm-44 1h2v1h-2zm44 0h1v1h-1zm-44 1h2v1h-2zm44 0h1v1h-1zm-44 1h2v1h-2zm44 0h1v1h-1zm-44 1h2v1h-2zm43 0h2v1h-2zm-43 1h2v1h-2zm43 0h2v1h-2zm-43 1h2v1h-2zm43 0h1v1h-1zm-43 1h2v1h-2zm43 0h1v1h-1zm-43 1h2v1h-2zm43 0h1v1h-1zm-43 1h2v1h-2zm43 0h1v1h-1zm-43 1h2v1h-2zm43 0h1v1h-1zm-43 1h2v1h-2zm42 0h2v1h-2zm-42 1h2v1h-2zm42 0h1v1h-1zm-42 1h2v1h-2zm42 0h1v1h-1zm-42 1h2v1h-2zm42 0h1v1h-1zm-42 1h2v1h-2zm41 0h2v1h-2zm-41 1h2v1h-2zm41 0h1v1h-1z"/>
<path fill="#0028ff" d="m7 0h2v1h-2zm37 0h1v1h-1zm-37 1h2v1h-2zm37 0h1v1h-1zm-37 1h2v1h-2zm38 0h1v1h-1zm-38 1h1v1h-1zm38 0h1v1h-1zm-38 1h1v1h-1zm38 0h1v1h-1zm-38 1h1v1h-1zm39 0h1v1h-1zm-39 1h1v1h-1zm39 0h1v1h-1zm-39 1h1v1h-1zm39 0h1v1h-1zm-39 1h1v1h-1zm39 0h1v1h-1zm-39 1h1v1h-1zm40 0h1v1h-1zm-40 1h1v1h-1zm40 0h1v1h-1zm-40 1h1v1h-1zm40 0h1v1h-1zm-40 1h1v1h-1zm40 0h1v1h-1zm-40 1h1v1h-1zm40 0h1v1h-1zm-40 1h1v1h-1zm40 0h1v1h-1zm-40 1h1v1h-1zm0 1h1v1h-1zm41 0h1v1h-1zm-41 1h1v1h-1zm41 0h1v1h-1zm-41 1h1v1h-1zm41 0h1v1h-1zm-41 1h1v1h-1zm41 0h1v1h-1zm-41 1h1v1h-1zm41 0h1v1h-1zm-41 1h1v1h-1zm41 0h1v1h-1zm-41 1h1v1h-1zm41 0h1v1h-1zm-41 1h1v1h-1zm41 0h1v1h-1zm-41 1h1v1h-1zm41 0h1v1h-1zm-41 1h1v1h-1zm41 0h1v1h-1zm-41 1h1v1h-1zm41 0h1v1h-1zm-41 1h1v1h-1zm0 1h1v1h-1zm40 0h1v1h-1zm-40 1h1v1h-1zm40 0h1v1h-1zm-40 1h1v1h-1zm40 0h1v1h-1zm-40 1h1v1h-1zm40 0h1v1h-1zm-40 1h1v1h-1zm40 0h1v1h-1zm-40 1h1v1h-1zm40 0h1v1h-1zm-40 1h1v1h-1zm39 0h1v1h-1zm-39 1h1v1h-1zm39 0h1v1h-1zm-39 1h1v1h-1zm39 0h1v1h-1zm-39 1h1v1h-1zm39 0h1v1h-1zm-39 1h1v1h-1zm38 0h1v1h-1zm-38 1h1v1h-1zm38 0h1v1h-1z"/>
<path fill="#0040ff" d="m9 0h1v1h-1zm34 0h1v1h-1zm-34 1h1v1h-1zm34 0h1v1h-1zm-34 1h1v1h-1zm35 0h1v1h-1zm-36 1h2v1h-2zm36 0h1v1h-1zm-36 1h2v1h-2zm0 1h1v1h-1zm37 0h1v1h-1zm-37 1h1v1h-1zm37 0h1v1h-1zm-37 1h1v1h-1zm37 0h1v1h-1zm-37 1h1v1h-1zm0 1h1v1h-1zm38 0h1v1h-1zm-38 1h1v1h-1zm38 0h1v1h-1zm-38 1h1v1h-1zm38 0h1v1h-1zm-38 1h1v1h-1zm38 0h1v1h-1zm-38 1h1v1h-1zm0 1h1v1h-1zm0 1h1v1h-1zm39 0h1v1h-1zm-39 1h1v1h-1zm39 0h1v1h-1zm-39 1h1v1h-1zm39 0h1v1h-1zm-39 1h1v1h-1zm39 0h1v1h-1zm-39 1h1v1h-1zm39 0h1v1h-1zm-39 1h1v1h-1zm39 0h1v1h-1zm-39 1h1v1h-1zm39 0h1v1h-1zm-39 1h1v1h-1zm39 0h1v1h-1zm-39 1h1v1h-1zm39 0h1v1h-1zm-39 1h1v1h-1zm39 0h1v1h-1zm-39 1h1v1h-1zm39 0h1v1h-1zm-39 1h1v1h-1zm39 0h1v1h-1zm-39 1h1v1h-1zm39 0h1v1h-1zm-39 1h1v1h-1zm0 1h1v1h-1zm0 1h1v1h-1zm38 0h1v1h-1zm-38 1h1v1h-1zm38 0h1v1h-1zm-38 1h1v1h-1zm38 0h1v1h-1zm-38 1h1v1h-1zm38 0h1v1h-1zm-38 1h1v1h-1zm0 1h1v1h-1zm37 0h1v1h-1zm-37 1h1v1h-1zm37 0h1v1h-1zm-37 1h1v1h-1zm37 0h1v1h-1zm-37 1h2v1h-2zm36 0h1v1h-1zm-36 1h2v1h-2zm36 0h1v1h-1z"/>
<path fill="#0054ff" d="m10 0h1v1h-1zm32 0h1v1h-1zm-32 1h1v1h-1zm32 0h1v1h-1zm-32 1h1v1h-1zm33 0h1v1h-1zm-33 1h1v1h-1zm33 0h1v1h-1zm-33 1h1v1h-1zm34 0h1v1h-1zm-35 1h1v1h-1zm35 0h1v1h-1zm-35 1h1v1h-1zm35 0h1v1h-1zm-35 1h1v1h-1zm0 1h1v1h-1zm36 0h1v1h-1zm-36 1h1v1h-1zm36 0h1v1h-1zm-36 1h1v1h-1zm36 0h1v1h-1zm-36 1h1v1h-1zm0 1h1v1h-1zm0 1h1v1h-1zm37 0h1v1h-1zm-37 1h1v1h-1zm37 0h1v1h-1zm-37 1h1v1h-1zm37 0h1v1h-1zm-37 1h1v1h-1zm37 0h1v1h-1zm-37 1h1v1h-1zm37 0h1v1h-1zm-37 1h1v1h-1zm37 0h1v1h-1zm-37 1h1v1h-1zm37 0h1v1h-1zm-37 1h1v1h-1zm37 0h1v1h-1zm-37 1h1v1h-1zm37 0h1v1h-1zm-37 1h1v1h-1zm37 0h1v1h-1zm-37 1h1v1h-1zm37 0h1v1h-1zm-37 1h1v1h-1zm37 0h1v1h-1zm-37 1h1v1h-1zm37 0h1v1h-1zm-37 1h1v1h-1zm37 0h1v1h-1zm-37 1h1v1h-1zm37 0h1v1h-1zm-37 1h1v1h-1zm37 0h1v1h-1zm-37 1h1v1h-1zm37 0h1v1h-1zm-37 1h1v1h-1zm0 1h1v1h-1zm0 1h1v1h-1zm36 0h1v1h-1zm-36 1h1v1h-1zm36 0h1v1h-1zm-36 1h1v1h-1zm36 0h1v1h-1zm-36 1h1v1h-1zm0 1h1v1h-1zm35 0h1v1h-1zm-35 1h1v1h-1zm35 0h1v1h-1zm-34 1h1v1h-1zm0 1h1v1h-1zm33 0h1v1h-1z"/>
<path fill="#0068ff" d="m11 0h1v1h-1zm30 0h1v1h-1zm-30 1h1v1h-1zm0 1h1v1h-1zm31 0h1v1h-1zm-31 1h1v1h-1zm32 1h1v1h-1zm-33 1h1v1h-1zm33 0h1v1h-1zm-33 1h1v1h-1zm0 1h1v1h-1zm34 0h1v1h-1zm-34 1h1v1h-1zm34 0h1v1h-1zm-34 1h1v1h-1zm0 1h1v1h-1zm0 1h1v1h-1zm35 0h1v1h-1zm-35 1h1v1h-1zm35 0h1v1h-1zm-35 1h1v1h-1zm35 0h1v1h-1zm-35 1h1v1h-1zm35 0h1v1h-1zm-35 1h1v1h-1zm0 1h1v1h-1zm0 1h1v1h-1zm0 1h1v1h-1zm0 1h1v1h-1zm0 1h1v1h-1zm0 1h1v1h-1zm0 1h1v1h-1zm0 1h1v1h-1zm0 1h1v1h-1zm0 1h1v1h-1zm0 1h1v1h-1zm0 1h1v1h-1zm0 1h1v1h-1zm35 0h1v1h-1zm-35 1h1v1h-1zm35 0h1v1h-1zm-35 1h1v1h-1zm35 0h1v1h-1zm-35 1h1v1h-1zm35 0h1v1h-1zm-35 1h1v1h-1zm0 1h1v1h-1zm34 0h1v1h-1zm-34 1h1v1h-1zm34 0h1v1h-1zm-34 1h1v1h-1zm34 0h1v1h-1zm-34 1h1v1h-1zm0 1h1v1h-1zm33 0h1v1h-1zm0 1h1v1h-1zm-32 1h1v1h-1zm31 0h1v1h-1z"/>
<path fill="#0080ff" d="m12 0h1v1h-1zm28 0h1v1h-1zm-28 1h1v1h-1zm29 0h1v1h-1zm0 1h1v1h-1zm1 1h1v1h-1zm-31 1h1v1h-1zm31 0h1v1h-1zm-31 1h1v1h-1zm0 1h1v1h-1zm32 0h1v1h-1zm-32 1h1v1h-1zm32 0h1v1h-1zm-32 1h1v1h-1zm0 1h1v1h-1zm33 0h1v1h-1zm-33 1h1v1h-1zm33 0h1v1h-1zm-33 1h1v1h-1zm33 0h1v1h-1zm-33 1h1v1h-1zm0 1h1v1h-1zm0 1h1v1h-1zm0 1h1v1h-1zm34 0h1v1h-1zm-34 1h1v1h-1zm34 0h1v1h-1zm-34 1h1v1h-1zm34 0h1v1h-1zm-34 1h1v1h-1zm34 0h1v1h-1zm-34 1h1v1h-1zm34 0h1v1h-1zm-34 1h1v1h-1zm34 0h1v1h-1zm-34 1h1v1h-1zm34 0h1v1h-1zm-34 1h1v1h-1zm34 0h1v1h-1zm-34 1h1v1h-1zm34 0h1v1h-1zm-34 1h1v1h-1zm34 0h1v1h-1zm-34 1h1v1h-1zm34 0h1v1h-1zm-34 1h1v1h-1zm34 0h1v1h-1zm-34 1h1v1h-1zm34 0h1v1h-1zm-34 1h1v1h-1zm0 1h1v1h-1zm0 1h1v1h-1zm0 1h1v1h-1zm33 0h1v1h-1zm-33 1h1v1h-1zm33 0h1v1h-1zm-33 1h1v1h-1zm0 1h1v1h-1zm0 1h1v1h-1zm32 0h1v1h-1zm-32 1h1v1h-1zm32 0h1v1h-1zm-32 1h1v1h-1zm0 1h1v1h-1zm31 0h1v1h-1z"/>
<path fill="#0094ff" d="m13 0h1v1h-1zm27 1h1v1h-1zm-28 1h1v1h-1zm0 1h1v1h-1zm29 0h1v1h-1zm-29 1h1v1h-1zm0 1h1v1h-1zm30 0h1v1h-1zm-30 1h1v1h-1zm0 1h1v1h-1zm0 1h1v1h-1zm31 0h1v1h-1zm-31 1h1v1h-1zm31 0h1v1h-1zm-31 1h1v1h-1zm32 2h1v1h-1zm0 1h1v1h-1zm0 1h1v1h-1zm0 14h1v1h-1zm0 1h1v1h-1zm0 1h1v1h-1zm-32 1h1v1h-1zm0 1h1v1h-1zm0 1h1v1h-1zm31 0h1v1h-1zm-31 1h1v1h-1zm31 0h1v1h-1zm-31 1h1v1h-1zm0 1h1v1h-1zm30 0h1v1h-1zm-30 1h1v1h-1zm30 0h1v1h-1zm-30 1h1v1h-1zm0 1h1v1h-1zm29 0h1v1h-1z"/>
<path fill="#00a8ff" d="m39 0h1v1h-1zm-26 1h1v1h-1zm26 0h1v1h-1zm-26 1h1v1h-1zm27 0h1v1h-1zm-27 1h1v1h-1zm0 1h1v1h-1zm28 0h1v1h-1zm-28 1h1v1h-1zm0 1h1v1h-1zm29 0h1v1h-1zm0 1h1v1h-1zm1 3h1v1h-1zm-31 1h1v1h-1zm31 0h1v1h-1zm-31 1h1v1h-1zm0 1h1v1h-1zm0 1h1v1h-1zm0 1h1v1h-1zm32 0h1v1h-1zm-32 1h1v1h-1zm32 0h1v1h-1zm-32 1h1v1h-1zm32 0h1v1h-1zm-32 1h1v1h-1zm32 0h1v1h-1zm-32 1h1v1h-1zm32 0h1v1h-1zm-32 1h1v1h-1zm32 0h1v1h-1zm-32 1h1v1h-1zm32 0h1v1h-1zm-32 1h1v1h-1zm32 0h1v1h-1zm-32 1h1v1h-1zm32 0h1v1h-1zm-32 1h1v1h-1zm32 0h1v1h-1zm-32 1h1v1h-1zm32 0h1v1h-1zm-32 1h1v1h-1zm32 0h1v1h-1zm-32 1h1v1h-1zm32 0h1v1h-1zm-32 1h1v1h-1zm0 1h1v1h-1zm0 1h1v1h-1zm31 1h1v1h-1zm0 1h1v1h-1zm-1 3h1v1h-1zm-29 1h1v1h-1zm0 1h1v1h-1zm28 0h1v1h-1zm-28 1h1v1h-1zm28 0h1v1h-1zm-28 1h1v1h-1zm27 0h1v1h-1z"/>
<path fill="#00c0ff" d="m14 0h1v1h-1zm24 0h1v1h-1zm-24 1h1v1h-1zm0 1h1v1h-1zm25 0h1v1h-1zm-25 1h1v1h-1zm26 0h1v1h-1zm1 2h1v1h-1zm0 1h1v1h-1zm-28 1h1v1h-1zm0 1h1v1h-1zm29 0h1v1h-1zm-29 1h1v1h-1zm29 0h1v1h-1zm-29 1h1v1h-1zm0 1h1v1h-1zm0 1h1v1h-1zm30 0h1v1h-1zm-30 1h1v1h-1zm30 0h1v1h-1zm-30 1h1v1h-1zm0 1h1v1h-1zm0 1h1v1h-1zm0 1h1v1h-1zm0 1h1v1h-1zm0 6h1v1h-1zm0 1h1v1h-1zm0 1h1v1h-1zm0 1h1v1h-1zm0 1h1v1h-1zm0 1h1v1h-1zm30 0h1v1h-1zm-30 1h1v1h-1zm30 0h1v1h-1zm-30 1h1v1h-1zm0 1h1v1h-1zm0 1h1v1h-1zm29 0h1v1h-1zm-29 1h1v1h-1zm29 0h1v1h-1zm-29 1h1v1h-1zm28 1h1v1h-1zm-27 2h1v1h-1zm26 0h1v1h-1zm-26 1h1v1h-1z"/>
<path fill="#00d4ff" d="m15 0h1v1h-1zm22 0h1v1h-1zm-22 1h1v1h-1zm23 0h1v1h-1zm1 2h1v1h-1zm-25 1h1v1h-1zm26 0h1v1h-1zm-26 1h1v1h-1zm0 1h1v1h-1zm0 1h1v1h-1zm27 0h1v1h-1zm-27 1h1v1h-1zm0 1h1v1h-1zm28 1h1v1h-1zm1 4h1v1h-1zm0 1h1v1h-1zm0 1h1v1h-1zm0 1h1v1h-1zm-30 2h1v1h-1zm0 1h1v1h-1zm0 1h1v1h-1zm0 1h1v1h-1zm0 1h1v1h-1zm30 2h1v1h-1zm0 1h1v1h-1zm0 1h1v1h-1zm0 1h1v1h-1zm-1 3h1v1h-1zm-28 1h1v1h-1zm28 0h1v1h-1zm-28 1h1v1h-1zm0 1h1v1h-1zm0 1h1v1h-1zm27 0h1v1h-1zm-27 1h1v1h-1zm0 1h1v1h-1zm26 0h1v1h-1zm-1 2h1v1h-1z"/>
<path fill="#02e8f4" d="m16 0h1v1h-1zm20 0h1v1h-1zm1 1h1v1h-1zm-22 1h1v1h-1zm23 0h1v1h-1zm-23 1h1v1h-1zm0 1h1v1h-1zm24 0h1v1h-1zm-24 1h1v1h-1zm25 0h1v1h-1zm0 1h1v1h-1zm1 2h1v1h-1zm-27 2h1v1h-1zm0 1h1v1h-1zm28 0h1v1h-1zm-28 1h1v1h-1zm28 0h1v1h-1zm-28 1h1v1h-1zm0 1h1v1h-1zm0 1h1v1h-1zm0 1h1v1h-1zm0 1h1v1h-1zm0 1h1v1h-1zm29 0h1v1h-1zm-29 1h1v1h-1zm29 0h1v1h-1zm-29 1h1v1h-1zm29 0h1v1h-1zm-29 1h1v1h-1zm29 0h1v1h-1zm-29 1h1v1h-1zm29 0h1v1h-1zm-29 1h1v1h-1zm29 0h1v1h-1zm-29 1h1v1h-1zm29 0h1v1h-1zm-29 1h1v1h-1zm0 1h1v1h-1zm0 1h1v1h-1zm0 1h1v1h-1zm0 1h1v1h-1zm0 1h1v1h-1zm28 0h1v1h-1zm-28 1h1v1h-1zm27 2h1v1h-1zm0 1h1v1h-1zm-26 2h1v1h-1zm25 0h1v1h-1zm-25 1h1v1h-1zm0 1h1v1h-1zm24 0h1v1h-1zm-24 1h1v1h-1z"/>
<path fill="#16ffe1" d="m35 0h1v1h-1zm-19 1h1v1h-1zm0 1h1v1h-1zm21 0h1v1h-1zm-21 1h1v1h-1zm22 0h1v1h-1zm1 2h1v1h-1zm-24 1h1v1h-1zm0 1h1v1h-1zm25 0h1v1h-1zm-25 1h1v1h-1zm0 1h1v1h-1zm26 0h1v1h-1zm-26 1h1v1h-1zm26 0h1v1h-1zm-26 1h1v1h-1zm27 2h1v1h-1zm0 1h1v1h-1zm0 13h1v1h-1zm0 1h1v1h-1zm0 1h1v1h-1zm-27 2h1v1h-1zm0 1h1v1h-1zm26 0h1v1h-1zm-26 1h1v1h-1zm0 1h1v1h-1zm0 1h1v1h-1zm25 0h1v1h-1zm-1 2h1v1h-1zm-23 2h1v1h-1zm22 0h1v1h-1z"/>
<path fill="#26ffd1" d="m17 0h1v1h-1zm17 0h1v1h-1zm-17 1h1v1h-1zm19 0h1v1h-1zm-20 3h1v1h-1zm22 0h1v1h-1zm-22 1h1v1h-1zm0 1h1v1h-1zm23 0h1v1h-1zm-23 1h1v1h-1zm24 1h1v1h-1zm1 3h1v1h-1zm-26 1h1v1h-1zm0 1h1v1h-1zm0 1h1v1h-1zm0 1h1v1h-1zm27 0h1v1h-1zm-27 1h1v1h-1zm27 0h1v1h-1zm-27 1h1v1h-1zm27 0h1v1h-1zm-27 1h1v1h-1zm27 0h1v1h-1zm-27 1h1v1h-1zm0 1h1v1h-1zm0 1h1v1h-1zm0 1h1v1h-1zm0 1h1v1h-1zm0 1h1v1h-1zm27 0h1v1h-1zm-27 1h1v1h-1zm27 0h1v1h-1zm-27 1h1v1h-1zm27 0h1v1h-1zm-27 1h1v1h-1zm0 1h1v1h-1zm0 1h1v1h-1zm0 1h1v1h-1zm26 1h1v1h-1zm-1 3h1v1h-1zm-24 1h1v1h-1zm0 1h1v1h-1zm23 0h1v1h-1zm-23 1h1v1h-1zm0 1h1v1h-1zm22 0h1v1h-1zm-1 1h1v1h-1z"/>
<path fill="#36ffc1" d="m18 0h1v1h-1zm14 0h2v1h-2zm3 1h1v1h-1zm-18 1h1v1h-1zm19 0h1v1h-1zm-19 1h1v1h-1zm20 0h1v1h-1zm-20 1h1v1h-1zm21 1h1v1h-1zm-22 3h1v1h-1zm0 1h1v1h-1zm24 0h1v1h-1zm-24 1h1v1h-1zm0 1h1v1h-1zm0 1h1v1h-1zm25 0h1v1h-1zm0 1h1v1h-1zm1 6h1v1h-1zm0 1h1v1h-1zm0 1h1v1h-1zm0 1h1v1h-1zm0 1h1v1h-1zm-1 6h1v1h-1zm-25 1h1v1h-1zm25 0h1v1h-1zm-25 1h1v1h-1zm0 1h1v1h-1zm0 1h1v1h-1zm24 0h1v1h-1zm-24 1h1v1h-1zm23 1h1v1h-1zm-1 2h1v1h-1zm-21 1h1v1h-1zm0 1h1v1h-1z"/>
<path fill="#49ffad" d="m31 0h1v1h-1zm-13 1h1v1h-1zm15 0h2v1h-2zm-15 1h1v1h-1zm17 0h1v1h-1zm1 1h1v1h-1zm1 1h1v1h-1zm-20 1h1v1h-1zm0 1h1v1h-1zm0 1h1v1h-1zm22 0h1v1h-1zm1 3h1v1h-1zm-24 3h1v1h-1zm0 1h1v1h-1zm25 0h1v1h-1zm-25 1h1v1h-1zm25 0h1v1h-1zm-25 1h1v1h-1zm0 1h1v1h-1zm0 1h1v1h-1zm0 1h1v1h-1zm0 1h1v1h-1zm0 1h1v1h-1zm0 1h1v1h-1zm0 1h1v1h-1zm0 1h1v1h-1zm0 1h1v1h-1zm0 1h1v1h-1zm0 1h1v1h-1zm25 0h1v1h-1zm-25 1h1v1h-1zm25 0h1v1h-1zm-25 1h1v1h-1zm24 2h1v1h-1zm0 1h1v1h-1zm-23 2h1v1h-1zm22 0h1v1h-1zm-22 1h1v1h-1zm0 1h1v1h-1zm21 0h1v1h-1zm-21 1h1v1h-1zm20 1h1v1h-1zm-19 1h1v1h-1zm18 0h1v1h-1z"/>
<path fill="#5aff9d" d="m19 0h1v1h-1zm0 1h1v1h-1zm12 0h2v1h-2zm3 1h1v1h-1zm-16 1h1v1h-1zm0 1h1v1h-1zm0 1h1v1h-1zm19 0h1v1h-1zm1 1h1v1h-1zm-21 2h1v1h-1zm22 0h1v1h-1zm-22 1h1v1h-1zm0 1h1v1h-1zm0 1h1v1h-1zm23 0h1v1h-1zm-23 1h1v1h-1zm23 0h1v1h-1zm1 4h1v1h-1zm0 1h1v1h-1zm0 1h1v1h-1zm0 6h1v1h-1zm0 1h1v1h-1zm0 1h1v1h-1zm-24 4h1v1h-1zm23 0h1v1h-1zm-23 1h1v1h-1zm0 1h1v1h-1zm0 1h1v1h-1zm22 0h1v1h-1zm-1 2h1v1h-1zm-20 2h1v1h-1zm19 0h1v1h-1zm-19 1h1v1h-1zm18 0h1v1h-1zm-1 1h1v1h-1z"/>
<path fill="#6aff8d" d="m20 0h1v1h-1zm10 0h1v1h-1zm-11 2h1v1h-1zm13 0h2v1h-2zm-13 1h1v1h-1zm16 0h1v1h-1zm1 1h1v1h-1zm-18 2h1v1h-1zm0 1h1v1h-1zm20 0h1v1h-1zm-20 1h1v1h-1zm21 1h1v1h-1zm-22 4h1v1h-1zm23 0h1v1h-1zm-23 1h1v1h-1zm0 1h1v1h-1zm0 1h1v1h-1zm0 1h1v1h-1zm0 1h1v1h-1zm0 1h1v1h-1zm24 0h1v1h-1zm-24 1h1v1h-1zm24 0h1v1h-1zm-24 1h1v1h-1zm24 0h1v1h-1zm-24 1h1v1h-1zm24 0h1v1h-1zm-24 1h1v1h-1zm24 0h1v1h-1zm-24 1h1v1h-1zm0 1h1v1h-1zm0 1h1v1h-1zm0 1h1v1h-1zm0 1h1v1h-1zm0 1h1v1h-1zm23 0h1v1h-1zm-1 3h1v1h-1zm-21 2h1v1h-1zm0 1h1v1h-1zm0 1h1v1h-1zm19 0h1v1h-1zm-18 3h1v1h-1zm15 0h1v1h-1z"/>
<path fill="#7dff7a" d="m21 0h1v1h-1zm8 0h1v1h-1zm-9 1h1v1h-1zm10 0h1v1h-1zm-10 1h1v1h-1zm11 0h1v1h-1zm2 1h2v1h-2zm-14 1h1v1h-1zm16 0h1v1h-1zm-16 1h1v1h-1zm17 0h1v1h-1zm1 1h1v1h-1zm1 2h1v1h-1zm-20 1h1v1h-1zm0 1h1v1h-1zm21 0h1v1h-1zm-21 1h1v1h-1zm21 0h1v1h-1zm1 3h1v1h-1zm0 1h1v1h-1zm0 12h1v1h-1zm0 1h1v1h-1zm-22 2h1v1h-1zm0 1h1v1h-1zm21 0h1v1h-1zm-21 1h1v1h-1zm0 1h1v1h-1zm20 1h1v1h-1zm-19 2h1v1h-1zm0 1h1v1h-1zm17 0h1v1h-1zm-17 1h1v1h-1zm16 0h1v1h-1zm-3 1h2v1h-2z"/>
<path fill="#8dff6a" d="m22 0h1v1h-1zm6 0h1v1h-1zm-7 1h1v1h-1zm0 1h1v1h-1zm-1 1h1v1h-1zm11 0h2v1h-2zm-11 1h1v1h-1zm14 0h1v1h-1zm-15 2h1v1h-1zm17 0h1v1h-1zm-17 1h1v1h-1zm18 0h1v1h-1zm-18 1h1v1h-1zm19 1h1v1h-1zm-20 3h1v1h-1zm21 0h1v1h-1zm-21 1h1v1h-1zm0 1h1v1h-1zm0 1h1v1h-1zm0 1h1v1h-1zm22 0h1v1h-1zm-22 1h1v1h-1zm22 0h1v1h-1zm-22 1h1v1h-1zm0 6h1v1h-1zm0 1h1v1h-1zm22 0h1v1h-1zm-22 1h1v1h-1zm22 0h1v1h-1zm-22 1h1v1h-1zm0 1h1v1h-1zm0 1h1v1h-1zm21 1h1v1h-1zm-1 3h1v1h-1zm-19 1h1v1h-1zm0 1h1v1h-1zm18 0h1v1h-1zm-1 1h1v1h-1zm-1 1h1v1h-1zm-15 1h1v1h-1zm14 0h1v1h-1zm-14 1h1v1h-1zm11 0h1v1h-1z"/>
<path fill="#9dff5a" d="m23 0h2v1h-2zm4 0h1v1h-1zm-5 1h1v1h-1zm7 0h1v1h-1zm1 1h1v1h-1zm-9 1h1v1h-1zm12 1h1v1h-1zm-13 1h1v1h-1zm15 0h1v1h-1zm-15 1h1v1h-1zm17 2h1v1h-1zm-18 1h1v1h-1zm0 1h1v1h-1zm19 0h1v1h-1zm-19 1h1v1h-1zm20 2h1v1h-1zm1 5h1v1h-1zm-22 1h1v1h-1zm22 0h1v1h-1zm-22 1h1v1h-1zm22 0h1v1h-1zm-22 1h1v1h-1zm22 0h1v1h-1zm-22 1h1v1h-1zm22 0h1v1h-1zm-22 1h1v1h-1zm22 0h1v1h-1zm0 1h1v1h-1zm-1 5h1v1h-1zm-20 2h1v1h-1zm0 1h1v1h-1zm19 0h1v1h-1zm-19 1h1v1h-1zm18 1h1v1h-1zm-17 2h1v1h-1zm0 1h1v1h-1zm14 0h1v1h-1zm-2 1h2v1h-2zm-11 1h1v1h-1z"/>
<path fill="#b1ff46" d="m25 0h2v1h-2zm-2 1h2v1h-2zm4 0h2v1h-2zm-5 1h1v1h-1zm7 0h1v1h-1zm-7 1h1v1h-1zm8 0h1v1h-1zm-9 1h1v1h-1zm10 0h2v1h-2zm-10 1h1v1h-1zm13 0h1v1h-1zm1 1h1v1h-1zm-15 1h1v1h-1zm16 0h1v1h-1zm-16 1h1v1h-1zm17 1h1v1h-1zm1 2h1v1h-1zm-19 1h1v1h-1zm0 1h1v1h-1zm0 1h1v1h-1zm20 0h1v1h-1zm-20 1h1v1h-1zm0 1h1v1h-1zm0 10h1v1h-1zm0 1h1v1h-1zm20 0h1v1h-1zm-20 1h1v1h-1zm20 0h1v1h-1zm-20 1h1v1h-1zm0 1h1v1h-1zm19 1h1v1h-1zm-18 2h1v1h-1zm17 0h1v1h-1zm-17 1h1v1h-1zm0 1h1v1h-1zm16 0h1v1h-1zm-1 1h1v1h-1zm-14 1h1v1h-1zm12 0h1v1h-1zm-12 1h1v1h-1zm10 0h1v1h-1zm-9 1h1v1h-1zm8 0h1v1h-1z"/>
<path fill="#c1ff36" d="m25 1h2v1h-2zm-2 1h2v1h-2zm5 0h1v1h-1zm-5 1h1v1h-1zm-1 1h1v1h-1zm10 1h2v1h-2zm-11 1h1v1h-1zm0 1h1v1h-1zm15 1h1v1h-1zm-16 1h1v1h-1zm0 1h1v1h-1zm0 1h1v1h-1zm18 1h1v1h-1zm1 3h1v1h-1zm0 1h1v1h-1zm-20 1h1v1h-1zm0 1h1v1h-1zm0 1h1v1h-1zm0 1h1v1h-1zm0 1h1v1h-1zm0 1h1v1h-1zm0 1h1v1h-1zm0 1h1v1h-1zm0 1h1v1h-1zm20 1h1v1h-1zm-1 4h1v1h-1zm-18 1h1v1h-1zm0 1h1v1h-1zm17 0h1v1h-1zm-1 2h1v1h-1zm-15 1h1v1h-1zm14 0h1v1h-1zm-14 1h1v1h-1zm13 0h1v1h-1zm-3 1h2v1h-2zm-9 1h1v1h-1zm8 0h1v1h-1zm-7 1h1v1h-1zm6 0h1v1h-1z"/>
<path fill="#d1ff26" d="m25 2h3v1h-3zm-1 1h1v1h-1zm4 0h2v1h-2zm-5 1h1v1h-1zm7 0h1v1h-1zm-8 1h1v1h-1zm9 0h1v1h-1zm-9 1h1v1h-1zm12 0h1v1h-1zm1 1h1v1h-1zm-14 1h1v1h-1zm16 2h1v1h-1zm-17 2h1v1h-1zm0 1h1v1h-1zm18 0h1v1h-1zm-18 1h1v1h-1zm19 3h1v1h-1zm0 1h1v1h-1zm0 1h1v1h-1zm0 1h1v1h-1zm0 1h1v1h-1zm0 1h1v1h-1zm0 1h1v1h-1zm0 1h1v1h-1zm0 1h1v1h-1zm-19 2h1v1h-1zm0 1h1v1h-1zm0 1h1v1h-1zm18 0h1v1h-1zm-18 1h1v1h-1zm1 3h1v1h-1zm15 0h1v1h-1zm-15 1h1v1h-1zm1 2h1v1h-1zm11 0h1v1h-1zm-11 1h1v1h-1zm1 1h1v1h-1zm1 1h1v1h-1zm4 0h1v1h-1z"/>
<path fill="#e4ff13" d="m25 3h3v1h-3zm-1 1h1v1h-1zm5 0h1v1h-1zm-6 1h1v1h-1zm7 0h1v1h-1zm2 1h2v1h-2zm-10 1h1v1h-1zm12 0h1v1h-1zm1 1h1v1h-1zm-14 1h1v1h-1zm15 0h1v1h-1zm-15 1h1v1h-1zm0 1h1v1h-1zm16 0h1v1h-1zm1 3h1v1h-1zm-18 1h1v1h-1zm0 1h1v1h-1zm0 1h1v1h-1zm0 1h1v1h-1zm0 1h1v1h-1zm0 1h1v1h-1zm0 1h1v1h-1zm0 1h1v1h-1zm0 1h1v1h-1zm0 1h1v1h-1zm0 1h1v1h-1zm0 1h1v1h-1zm18 2h1v1h-1zm-17 3h1v1h-1zm16 0h1v1h-1zm-16 1h1v1h-1zm14 2h1v1h-1zm-13 1h1v1h-1zm12 0h1v1h-1zm-3 1h2v1h-2zm-8 1h1v1h-1zm7 0h1v1h-1zm-6 1h1v1h-1zm4 0h2v1h-2zm-3 1h3v1h-3z"/>
<path fill="#f4f802" d="m25 4h4v1h-4zm-1 1h1v1h-1zm-1 1h1v1h-1zm8 0h1v1h-1zm2 1h1v1h-1zm-11 1h1v1h-1zm0 1h1v1h-1zm14 1h1v1h-1zm-15 2h1v1h-1zm16 0h1v1h-1zm-16 1h1v1h-1zm0 1h1v1h-1zm17 1h1v1h-1zm0 1h1v1h-1zm0 10h1v1h-1zm0 1h1v1h-1zm-17 1h1v1h-1zm0 1h1v1h-1zm0 1h1v1h-1zm16 0h1v1h-1zm-1 2h1v1h-1zm-14 1h1v1h-1zm13 0h1v1h-1zm-13 1h1v1h-1zm12 0h1v1h-1zm-11 1h1v1h-1zm9 0h2v1h-2zm-9 1h1v1h-1zm1 1h1v1h-1zm5 0h1v1h-1zm-4 1h3v1h-3z"/>
<path fill="#ffe600" d="m25 5h2v1h-2zm3 0h2v1h-2zm-4 1h1v1h-1zm6 0h1v1h-1zm-7 1h1v1h-1zm8 0h2v1h-2zm-8 1h1v1h-1zm11 0h1v1h-1zm1 1h1v1h-1zm-13 1h1v1h-1zm0 1h1v1h-1zm14 0h1v1h-1zm1 2h1v1h-1zm-16 2h1v1h-1zm0 1h1v1h-1zm0 1h1v1h-1zm17 0h1v1h-1zm-17 1h1v1h-1zm17 0h1v1h-1zm-17 1h1v1h-1zm0 4h1v1h-1zm0 1h1v1h-1zm17 0h1v1h-1zm-17 1h1v1h-1zm17 0h1v1h-1zm-17 1h1v1h-1zm0 1h1v1h-1zm16 2h1v1h-1zm-15 2h1v1h-1zm14 0h1v1h-1zm-14 1h1v1h-1zm1 2h1v1h-1zm10 0h1v1h-1zm-2 1h1v1h-1zm-7 1h1v1h-1zm6 0h1v1h-1zm-5 1h4v1h-4z"/>
<path fill="#ffd000" d="m27 5h1v1h-1zm-2 1h1v1h-1zm4 0h1v1h-1zm-5 1h1v1h-1zm9 1h1v1h-1zm-10 1h1v1h-1zm11 0h1v1h-1zm1 1h1v1h-1zm-13 2h1v1h-1zm0 1h1v1h-1zm15 1h1v1h-1zm1 5h1v1h-1zm-17 1h1v1h-1zm17 0h1v1h-1zm-17 1h1v1h-1zm17 0h1v1h-1zm-17 1h1v1h-1zm17 0h1v1h-1zm0 1h1v1h-1zm-1 5h1v1h-1zm-15 1h1v1h-1zm0 1h1v1h-1zm14 0h1v1h-1zm-13 2h1v1h-1zm12 0h1v1h-1zm-12 1h1v1h-1zm11 0h1v1h-1zm-10 1h1v1h-1zm8 0h1v1h-1zm-8 1h1v1h-1zm6 0h1v1h-1zm-5 1h5v1h-5z"/>
<path fill="#ffbd00" d="m26 6h3v1h-3zm-1 1h1v1h-1zm5 0h1v1h-1zm-6 1h1v1h-1zm7 0h2v1h-2zm-7 1h1v1h-1zm-1 1h1v1h-1zm0 1h1v1h-1zm13 1h1v1h-1zm-14 2h1v1h-1zm0 1h1v1h-1zm15 0h1v1h-1zm-15 1h1v1h-1zm0 1h1v1h-1zm0 8h1v1h-1zm0 1h1v1h-1zm15 0h1v1h-1zm-15 1h1v1h-1zm15 0h1v1h-1zm-15 1h1v1h-1zm14 1h1v1h-1zm-13 2h1v1h-1zm12 0h1v1h-1zm-11 2h1v1h-1zm9 0h1v1h-1zm-2 1h1v1h-1zm-6 1h2v1h-2zm4 0h1v1h-1z"/>
<path fill="#ffab00" d="m26 7h4v1h-4zm-1 1h1v1h-1zm5 0h1v1h-1zm2 1h2v1h-2zm-8 1h1v1h-1zm10 0h1v1h-1zm1 1h1v1h-1zm-12 1h1v1h-1zm0 1h1v1h-1zm13 0h1v1h-1zm1 3h1v1h-1zm0 1h1v1h-1zm-15 1h1v1h-1zm0 1h1v1h-1zm0 1h1v1h-1zm0 1h1v1h-1zm0 1h1v1h-1zm0 1h1v1h-1zm0 1h1v1h-1zm15 1h1v1h-1zm-14 4h1v1h-1zm0 1h1v1h-1zm1 2h1v1h-1zm10 0h1v1h-1zm-9 1h1v1h-1zm6 0h2v1h-2zm-6 1h2v1h-2zm5 0h1v1h-1zm-3 1h2v1h-2z"/>
<path fill="#ff9400" d="m26 8h4v1h-4zm-1 1h1v1h-1zm6 0h1v1h-1zm-6 1h1v1h-1zm8 0h1v1h-1zm-9 1h1v1h-1zm10 0h1v1h-1zm-10 1h1v1h-1zm11 0h1v1h-1zm-12 2h1v1h-1zm13 0h1v1h-1zm-13 1h1v1h-1zm0 1h1v1h-1zm14 2h1v1h-1zm0 1h1v1h-1zm0 1h1v1h-1zm0 1h1v1h-1zm0 1h1v1h-1zm0 1h1v1h-1zm0 1h1v1h-1zm-14 2h1v1h-1zm0 1h1v1h-1zm0 1h1v1h-1zm13 0h1v1h-1zm-12 2h1v1h-1zm11 0h1v1h-1zm-11 1h1v1h-1zm10 0h1v1h-1zm-9 1h1v1h-1zm7 0h2v1h-2zm-6 1h1v1h-1zm4 0h1v1h-1zm-3 1h3v1h-3z"/>
<path fill="#ff8200" d="m26 9h5v1h-5zm5 1h2v1h-2zm-6 1h1v1h-1zm-1 2h1v1h-1zm11 0h1v1h-1zm1 2h1v1h-1zm-13 2h1v1h-1zm0 1h1v1h-1zm0 1h1v1h-1zm0 1h1v1h-1zm0 1h1v1h-1zm0 1h1v1h-1zm0 1h1v1h-1zm0 1h1v1h-1zm0 1h1v1h-1zm13 1h1v1h-1zm0 1h1v1h-1zm-12 1h1v1h-1zm0 1h1v1h-1zm11 0h1v1h-1zm-1 1h1v1h-1zm-9 1h1v1h-1zm8 0h1v1h-1zm-7 1h1v1h-1zm5 0h1v1h-1zm-4 1h3v1h-3z"/>
<path fill="#ff6f00" d="m26 10h2v1h-2zm4 0h1v1h-1zm-4 1h1v1h-1zm7 0h1v1h-1zm-8 1h1v1h-1zm9 0h1v1h-1zm-10 2h1v1h-1zm11 0h1v1h-1zm-11 1h1v1h-1zm0 1h1v1h-1zm12 0h1v1h-1zm0 1h1v1h-1zm0 8h1v1h-1zm-12 1h1v1h-1zm0 1h1v1h-1zm11 1h1v1h-1zm-10 1h1v1h-1zm0 1h1v1h-1zm1 1h1v1h-1zm5 0h2v1h-2zm-4 1h4v1h-4z"/>
<path fill="#ff5900" d="m28 10h2v1h-2zm-1 1h1v1h-1zm4 0h2v1h-2zm-5 1h1v1h-1zm7 0h1v1h-1zm-8 1h1v1h-1zm9 0h1v1h-1zm-9 1h1v1h-1zm10 1h1v1h-1zm-11 2h1v1h-1zm0 1h1v1h-1zm12 0h1v1h-1zm-12 1h1v1h-1zm12 0h1v1h-1zm-12 1h1v1h-1zm12 0h1v1h-1zm-12 1h1v1h-1zm12 0h1v1h-1zm-12 1h1v1h-1zm12 0h1v1h-1zm-12 1h1v1h-1zm12 0h1v1h-1zm-12 1h1v1h-1zm12 0h1v1h-1zm-12 1h1v1h-1zm11 2h1v1h-1zm-10 1h1v1h-1zm9 1h1v1h-1zm-8 1h1v1h-1zm7 0h1v1h-1zm-6 1h2v1h-2zm3 0h1v1h-1z"/>
<path fill="#ff4700" d="m28 11h3v1h-3zm-1 1h1v1h-1zm4 0h2v1h-2zm-5 1h1v1h-1zm8 1h1v1h-1zm-9 1h1v1h-1zm0 1h1v1h-1zm10 0h1v1h-1zm-10 1h1v1h-1zm0 8h1v1h-1zm0 1h1v1h-1zm10 0h1v1h-1zm-10 1h1v1h-1zm1 1h1v1h-1zm8 0h1v1h-1zm-8 1h1v1h-1zm7 0h1v1h-1zm-6 1h1v1h-1zm4 0h2v1h-2zm-2 1h1v1h-1z"/>
<path fill="#ff3400" d="m28 12h3v1h-3zm-1 1h1v1h-1zm5 0h2v1h-2zm-6 1h1v1h-1zm0 1h1v1h-1zm8 0h1v1h-1zm1 2h1v1h-1zm-10 1h1v1h-1zm10 0h1v1h-1zm-10 1h1v1h-1zm0 1h1v1h-1zm0 1h1v1h-1zm0 1h1v1h-1zm0 1h1v1h-1zm0 1h1v1h-1zm10 0h1v1h-1zm0 1h1v1h-1zm-9 2h1v1h-1zm8 0h1v1h-1zm-1 1h1v1h-1zm-6 1h1v1h-1zm4 0h2v1h-2zm-3 1h3v1h-3z"/>
<path fill="#ff1e00" d="m28 13h4v1h-4zm-1 1h1v1h-1zm6 0h1v1h-1zm-6 1h1v1h-1zm-1 1h1v1h-1zm8 0h1v1h-1zm-8 1h1v1h-1zm0 1h1v1h-1zm9 1h1v1h-1zm0 1h1v1h-1zm0 1h1v1h-1zm0 1h1v1h-1zm0 1h1v1h-1zm-9 1h1v1h-1zm0 1h1v1h-1zm0 1h1v1h-1zm8 0h1v1h-1zm-7 1h1v1h-1zm0 1h2v1h-2zm5 0h1v1h-1zm-4 1h3v1h-3z"/>
<path fill="#f60b00" d="m28 14h5v1h-5zm0 1h1v1h-1zm5 0h1v1h-1zm-6 1h1v1h-1zm7 1h1v1h-1zm-8 2h1v1h-1zm0 1h1v1h-1zm0 1h1v1h-1zm0 1h1v1h-1zm0 1h1v1h-1zm1 2h1v1h-1zm7 0h1v1h-1zm-7 1h1v1h-1zm1 1h1v1h-1zm5 0h1v1h-1zm-4 1h3v1h-3z"/>
<path fill="#df0000" d="m29 15h4v1h-4zm-1 1h1v1h-1zm5 0h1v1h-1zm-6 1h1v1h-1zm0 1h1v1h-1zm7 0h1v1h-1zm-7 1h1v1h-1zm7 0h1v1h-1zm-7 1h1v1h-1zm7 0h1v1h-1zm-7 1h1v1h-1zm7 0h1v1h-1zm-7 1h1v1h-1zm7 0h1v1h-1zm-7 1h1v1h-1zm7 0h1v1h-1zm-7 1h1v1h-1zm7 0h1v1h-1zm-6 1h1v1h-1zm5 0h1v1h-1zm-5 1h1v1h-1zm5 0h1v1h-1zm-4 1h4v1h-4z"/>
<path fill="#c40000" d="m29 16h4v1h-4zm-1 1h2v1h-2zm5 0h1v1h-1zm-5 1h1v1h-1zm5 0h1v1h-1zm-5 1h1v1h-1zm0 3h1v1h-1zm0 1h1v1h-1zm0 1h1v1h-1zm5 0h1v1h-1zm-4 1h1v1h-1zm3 0h1v1h-1zm-3 1h4v1h-4z"/>
<path fill="#ad0000" d="m30 17h3v1h-3zm-1 1h2v1h-2zm3 0h1v1h-1zm-3 1h1v1h-1zm4 0h1v1h-1zm-5 1h2v1h-2zm5 0h1v1h-1zm-5 1h2v1h-2zm5 0h1v1h-1zm-4 1h1v1h-1zm4 0h1v1h-1zm-4 1h1v1h-1zm4 0h1v1h-1zm-4 1h4v1h-4zm1 1h2v1h-2z"/>
<path fill="#960000" d="m31 18h1v1h-1zm-1 1h3v1h-3zm0 1h3v1h-3zm0 1h3v1h-3zm0 1h3v1h-3zm0 1h3v1h-3z"/>
</g>
</g></g>
<g opacity="0.59">
<rect x="1207.2" y="29.2" width="314.6" height="359.3" fill="#000"/>
<path fill="#0d0d0d" d="M1363.4 25.1L1528.2 25.1L1528.2 393.2L1363.4 393.2Z"/>
<path fill="#888888" d="M1205 116.7L1235 116.7L1325 27.5L1437.6 27.5L1437.6 39.2L1363.4 39.2L1363.4 116.7L1364.9 125L1344.9 138.3L1328.3 156.6L1316.6 178.3L1311.6 199.9L1313.3 219.9L1320 238.2L1331.6 256.6L1344.9 271.6L1361.6 284.9L1367.4 298.2L1364.3 298.2L1364.3 373L1438.4 373L1438.4 389.8L1328.3 389.8L1235 298L1205 298Z"/>
<path fill="#000000" d="M1205 160L1248.3 160L1250.8 162.5L1250.8 254.9L1248.3 257.6L1205 257.6Z"/>
<path fill="#3c3c3c" d="M1371.6 116.7L1364.9 125L1344.9 138.3L1328.3 156.6L1316.6 178.3L1311.6 199.9L1313.3 219.9L1320 238.2L1331.6 256.6L1344.9 271.6L1361.6 284.9L1367.4 298.2L1376.6 298.2L1388.2 308.2L1404.9 316.5L1421.6 309.9L1427.4 298.2L1432.4 249.9L1435.7 199.9L1436.6 150L1433.2 116.7L1426.6 106.7L1411.6 96.7L1386.6 103.3Z"/>
<path fill="none" stroke="#080808" stroke-width="3.1" d="M1371.6 116.7L1364.9 125L1344.9 138.3L1328.3 156.6L1316.6 178.3L1311.6 199.9L1313.3 219.9L1320 238.2L1331.6 256.6L1344.9 271.6L1361.6 284.9L1367.4 298.2"/>
<path fill="#1e1e1e" d="M1441.6 116.7L1452.4 116.7L1452.4 298.2L1441.6 298.2Z"/>
<path fill="#525252" d="M1452.4 113L1528.2 113L1528.2 117L1452.4 117ZM1452.4 139.6L1528.2 139.6L1528.2 143.6L1452.4 143.6ZM1452.4 190.4L1528.2 190.4L1528.2 194.4L1452.4 194.4ZM1452.4 216.6L1528.2 216.6L1528.2 220.6L1452.4 220.6ZM1452.4 269.6L1528.2 269.6L1528.2 273.6L1452.4 273.6ZM1452.4 296.9L1528.2 296.9L1528.2 300.9L1452.4 300.9ZM1478.2 329.9L1528.2 329.9L1528.2 336.5L1478.2 336.5ZM1480.9 71.7L1528.2 71.7L1528.2 78.3L1480.9 78.3Z"/>
<path fill="#3c3c3c" d="M1469.2 25.1L1480.9 25.1L1480.9 116.7L1469.2 116.7ZM1467.5 298.2L1479.2 298.2L1479.2 393.2L1467.5 393.2Z"/>
<path fill="#2d2d2d" d="M1438.4 25.1L1528.2 25.1L1528.2 34.2L1438.4 34.2Z"/>
<path fill="#3c3c3c" d="M1438.4 373L1528.2 373L1528.2 393.2L1438.4 393.2Z"/>
<ellipse fill="#4e4e4e" cx="1440.9" cy="96.6" rx="16.6" ry="10.3" transform="rotate(15 1440.9 96.6)"/>
<ellipse fill="#f0f0f0" cx="1436.8" cy="95.8" rx="6" ry="2.7" transform="rotate(-10 1436.8 95.8)"/>
<ellipse fill="#4e4e4e" cx="1440.9" cy="327.3" rx="16.6" ry="8.3" transform="rotate(5 1440.9 327.3)"/>
<ellipse fill="#f0f0f0" cx="1434.3" cy="329.8" rx="6.3" ry="3" transform="rotate(20 1434.3 329.8)"/>
<path fill="#f0f0f0" d="M1384.9 186.6L1391.6 183.3L1394.9 189.9L1397.4 193.3L1395.7 201.6L1394.9 216.6L1397.4 223.3L1393.2 228.3L1386.6 226.6L1379.9 223.3L1375.8 214.9L1374.1 204.9L1376.6 194.9Z"/>
<path fill="#464646" d="M1384.1 195.8L1389.9 194.9L1390.7 206.6L1389.6 219.1L1383.3 219.1L1379.1 209.9L1379.9 199.9Z"/>
<path fill="none" stroke="#f0f0f0" stroke-width="4.5" d="M1361.6 168.3L1368.3 156.6L1373.3 150L1381.6 147.5L1386.6 145"/>
<path fill="none" stroke="#f0f0f0" stroke-width="4" d="M1364.9 143.3L1369.1 150L1373.3 150"/>
<path fill="none" stroke="#f0f0f0" stroke-width="4.5" d="M1371.6 256.6L1376.6 264.1L1384.9 266.6L1391.6 271.6"/>
<path fill="none" stroke="#f0f0f0" stroke-width="4" d="M1369.9 271.6L1376.6 276.6L1379.9 278.2"/>
<path fill="none" stroke="#f0f0f0" stroke-width="2.7" d="M1409.1 123.3L1404.1 133.3L1412.4 137.5L1413.6 127.5L1409.1 123.3"/>
<path fill="none" stroke="#f0f0f0" stroke-width="2.7" d="M1407.4 274.9L1403.2 283.2L1409.1 289.1L1413.2 279.9L1407.4 274.9"/>
<path fill="none" stroke="#f0f0f0" stroke-width="2.7" d="M1391.6 268.2L1396.6 273.2L1403.2 272.4"/>
<ellipse fill="#c8c8c8" cx="1416.6" cy="198.3" rx="1.7" ry="3.7" transform="rotate(0 1416.6 198.3)"/>
<ellipse fill="#c8c8c8" cx="1415.7" cy="219.9" rx="2" ry="5" transform="rotate(10 1415.7 219.9)"/>
<ellipse fill="#050505" cx="1401.6" cy="207.4" rx="2.3" ry="3" transform="rotate(0 1401.6 207.4)"/>
</g>
<path fill="none" stroke="#ff2020" stroke-width="1.6" stroke-linejoin="round" d="M1384.9 186.6L1391.6 183.3L1394.9 189.9L1397.4 193.3L1395.7 201.6L1394.9 216.6L1397.4 223.3L1393.2 228.3L1386.6 226.6L1379.9 223.3L1375.8 214.9L1374.1 204.9L1376.6 194.9Z"/>
</g>
<text class="tg" transform="scale(0.9842,1)" x="1251.65" y="369.8" font-size="28.57" fill="#fff">µCT</text>
<rect x="1207.2" y="29.2" width="314.6" height="359.3" fill="none" stroke="#000" stroke-width="1.25"/>
<path d="M1207.2 388.5v3.6M1252.14 388.5v3.6M1297.09 388.5v3.6M1342.03 388.5v3.6M1386.97 388.5v3.6M1431.91 388.5v3.6M1476.86 388.5v3.6M1521.8 388.5v3.6M1207.2 29.2h-3.6M1207.2 74.11h-3.6M1207.2 119.02h-3.6M1207.2 163.94h-3.6M1207.2 208.85h-3.6M1207.2 253.76h-3.6M1207.2 298.68h-3.6M1207.2 343.59h-3.6M1207.2 388.5h-3.6M1565.2 29.2h3.4M1565.2 101.1h3.4M1565.2 173h3.4M1565.2 244.9h3.4M1565.2 316.7h3.4M1565.2 388.5h3.4" stroke="#000" stroke-width="1.1" fill="none"/>
<text class="dv" x="1184.72" y="410.7" font-size="21.3">−15</text>
<text class="dv" x="1229.67" y="410.7" font-size="21.3">−10</text>
<text class="dv" x="1281.39" y="410.7" font-size="21.3">−5</text>
<text class="dv" x="1335.25" y="410.7" font-size="21.3">0</text>
<text class="dv" x="1380.2" y="410.7" font-size="21.3">5</text>
<text class="dv" x="1418.36" y="410.7" font-size="21.3">10</text>
<text class="dv" x="1463.31" y="410.7" font-size="21.3">15</text>
<text class="dv" x="1508.25" y="410.7" font-size="21.3">20</text>
<text class="dv" x="1169.83" y="37.08" font-size="21.3">20</text>
<text class="dv" x="1170.26" y="81.99" font-size="21.3">15</text>
<text class="dv" x="1169.83" y="126.91" font-size="21.3">10</text>
<text class="dv" x="1183.79" y="171.82" font-size="21.3">5</text>
<text class="dv" x="1183.36" y="216.73" font-size="21.3">0</text>
<text class="dv" x="1165.89" y="261.64" font-size="21.3">−5</text>
<text class="dv" x="1151.94" y="306.56" font-size="21.3">−10</text>
<text class="dv" x="1152.37" y="351.47" font-size="21.3">−15</text>
<text class="dv" x="1151.94" y="396.38" font-size="21.3">−20</text>
<text class="dv" x="1206.5" y="21.3" font-size="27.67">Simulated PET Activity</text>
<text class="dv" x="1287.73" y="438" font-size="24.74">Depth [mm]</text>
<text class="dv" transform="translate(1141.7,339.56) rotate(-90)" font-size="24.61">Horizontal Axis [mm]</text>
<rect x="1545.7" y="29.2" width="19.5" height="359.3" fill="url(#jet)" stroke="#1a0a0a" stroke-opacity=".75" stroke-width="1"/>
<text class="dv" x="1571.1" y="37.87" font-size="21.8">1.0</text>
<text class="dv" x="1572.08" y="109.77" font-size="21.8">0.8</text>
<text class="dv" x="1572.08" y="181.67" font-size="21.8">0.6</text>
<text class="dv" x="1572.08" y="253.57" font-size="21.8">0.4</text>
<text class="dv" x="1572.08" y="325.37" font-size="21.8">0.2</text>
<text class="dv" x="1572.08" y="397.17" font-size="21.8">0.0</text>
<text class="dv" transform="translate(1626,351.38) rotate(-90)" font-size="22.3">Normalized Activity [a.u.]</text>
<text class="lb" transform="scale(0.8639,1)" x="1298.31" y="34.2" font-size="38.4">C</text>
</g>
<g id="panelD">
<clipPath id="axD"><rect x="85.5" y="518.7" width="325.2" height="275.6"/></clipPath>
<clipPath id="htD"><rect x="99.2" y="552.1" width="279.2" height="187"/></clipPath>
<g clip-path="url(#axD)">
<g clip-path="url(#htD)">
<g shape-rendering="crispEdges">
<g transform="translate(99.16,552.13) scale(4.6535,4.6740)">
<path fill="#000080" d="m47 0h13v1h-13zm1 1h12v1h-12zm1 1h11v1h-11zm2 1h9v1h-9zm1 1h8v1h-8zm1 1h7v1h-7zm1 1h6v1h-6zm1 1h5v1h-5zm1 1h4v1h-4zm1 1h3v1h-3zm1 1h2v1h-2zm1 1h1v1h-1zm0 9h1v1h-1zm0 1h1v1h-1zm-1 1h2v1h-2zm-1 1h3v1h-3zm-1 1h4v1h-4zm-1 1h5v1h-5zm-2 1h7v1h-7zm0 1h7v1h-7zm-2 1h9v1h-9zm-1 1h10v1h-10zm-1 1h11v1h-11zm-1 1h12v1h-12zm-1 1h13v1h-13zm-1 1h14v1h-14zm-1 1h15v1h-15zm-2 1h17v1h-17zm-1 1h18v1h-18zm-1 1h19v1h-19zm-1 1h20v1h-20zm-1 1h21v1h-21z"/>
<path fill="#000096" d="m43 0h4v1h-4zm1 1h4v1h-4zm1 1h4v1h-4zm1 1h5v1h-5zm0 1h6v1h-6zm1 1h6v1h-6zm1 1h6v1h-6zm0 1h7v1h-7zm1 1h7v1h-7zm1 1h7v1h-7zm1 1h7v1h-7zm1 1h7v1h-7zm0 1h8v1h-8zm1 1h7v1h-7zm0 1h7v1h-7zm0 1h7v1h-7zm0 1h7v1h-7zm0 1h7v1h-7zm0 1h7v1h-7zm-1 1h8v1h-8zm0 1h7v1h-7zm-1 1h8v1h-8zm-1 1h8v1h-8zm-1 1h8v1h-8zm0 1h7v1h-7zm-1 1h7v1h-7zm-1 1h6v1h-6zm0 1h6v1h-6zm-1 1h5v1h-5zm-1 1h5v1h-5zm-1 1h5v1h-5zm-1 1h5v1h-5zm-1 1h5v1h-5zm-1 1h5v1h-5zm0 1h4v1h-4zm-1 1h3v1h-3zm-2 1h4v1h-4zm-2 1h5v1h-5zm-2 1h6v1h-6zm-34 1h11v1h-11zm31 0h8v1h-8z"/>
<path fill="#0000ad" d="m41 0h2v1h-2zm1 1h2v1h-2zm1 1h2v1h-2zm1 1h2v1h-2zm1 1h1v1h-1zm1 1h1v1h-1zm0 1h2v1h-2zm1 1h1v1h-1zm0 1h2v1h-2zm1 1h2v1h-2zm1 1h2v1h-2zm0 1h3v1h-3zm1 1h2v1h-2zm0 1h3v1h-3zm0 1h3v1h-3zm1 1h2v1h-2zm0 1h2v1h-2zm0 1h2v1h-2zm-1 1h3v1h-3zm0 1h2v1h-2zm-1 1h3v1h-3zm0 1h2v1h-2zm-1 1h2v1h-2zm0 1h1v1h-1zm-1 1h2v1h-2zm-1 1h2v1h-2zm0 1h1v1h-1zm-1 1h2v1h-2zm-1 1h2v1h-2zm-1 1h2v1h-2zm0 1h1v1h-1zm-1 1h1v1h-1zm-1 1h1v1h-1zm-1 1h1v1h-1zm-1 1h2v1h-2zm-2 1h3v1h-3zm-2 1h3v1h-3zm-1 1h2v1h-2zm-34 1h11v1h-11zm31 0h3v1h-3zm-20 1h20v1h-20z"/>
<path fill="#0000c8" d="m41 1h1v1h-1zm1 1h1v1h-1zm1 1h1v1h-1zm1 1h1v1h-1zm0 1h2v1h-2zm1 1h1v1h-1zm1 1h1v1h-1zm0 1h1v1h-1zm1 1h1v1h-1zm0 1h2v1h-2zm1 1h1v1h-1zm0 1h2v1h-2zm0 1h2v1h-2zm1 1h1v1h-1zm0 1h2v1h-2zm0 1h2v1h-2zm0 1h2v1h-2zm0 1h1v1h-1zm-1 1h2v1h-2zm0 1h1v1h-1zm-1 1h2v1h-2zm0 1h1v1h-1zm0 1h1v1h-1zm-1 1h1v1h-1zm-1 1h1v1h-1zm0 1h1v1h-1zm-1 1h1v1h-1zm-1 1h1v1h-1zm-1 1h1v1h-1zm0 1h1v1h-1zm-1 1h1v1h-1zm-1 1h1v1h-1zm-1 1h1v1h-1zm-2 1h2v1h-2zm-2 1h2v1h-2zm-1 1h1v1h-1zm-34 1h9v1h-9zm31 0h3v1h-3zm-20 1h20v1h-20z"/>
<path fill="#0000df" d="m40 0h1v1h-1zm1 2h1v1h-1zm1 1h1v1h-1zm1 1h1v1h-1zm1 2h1v1h-1zm1 1h1v1h-1zm1 2h1v1h-1zm1 2h1v1h-1zm0 1h1v1h-1zm1 2h1v1h-1zm0 1h1v1h-1zm0 1h1v1h-1zm0 1h1v1h-1zm0 1h1v1h-1zm-1 1h1v1h-1zm0 1h1v1h-1zm-1 2h1v1h-1zm0 1h1v1h-1zm-1 1h1v1h-1zm-1 2h1v1h-1zm-1 1h1v1h-1zm-1 1h1v1h-1zm-1 2h1v1h-1zm-1 1h1v1h-1zm-1 1h1v1h-1zm-1 1h1v1h-1zm-2 1h1v1h-1zm-2 1h1v1h-1zm-34 1h3v1h-3zm32 0h2v1h-2zm-23 1h22v1h-22z"/>
<path fill="#0000f6" d="m39 0h1v1h-1zm1 1h1v1h-1zm2 3h1v1h-1zm1 1h1v1h-1zm1 2h1v1h-1zm1 1h1v1h-1zm1 2h1v1h-1zm0 1h1v1h-1zm1 2h1v1h-1zm0 1h1v1h-1zm0 1h1v1h-1zm0 1h1v1h-1zm0 1h1v1h-1zm0 1h1v1h-1zm-1 3h1v1h-1zm-1 2h1v1h-1zm-1 2h1v1h-1zm-1 1h1v1h-1zm-1 1h1v1h-1zm-1 2h1v1h-1zm-4 4h1v1h-1zm-2 1h1v1h-1zm-35 1h1v1h-1zm33 0h1v1h-1zm-30 1h11v1h-11zm27 0h2v1h-2z"/>
<path fill="#0000ff" d="m40 2h1v1h-1zm1 1h1v1h-1zm1 2h1v1h-1zm1 1h1v1h-1zm1 2h1v1h-1zm1 1h1v1h-1zm0 1h1v1h-1zm1 2h1v1h-1zm0 1h1v1h-1zm0 5h1v1h-1zm0 1h1v1h-1zm0 1h1v1h-1zm-1 2h1v1h-1zm-1 2h1v1h-1zm-1 1h1v1h-1zm-2 3h1v1h-1zm-1 2h1v1h-1zm-1 1h1v1h-1zm-2 1h2v1h-2zm-1 1h1v1h-1zm-2 1h1v1h-1zm-33 1h5v1h-5zm31 0h1v1h-1zm-18 1h16v1h-16z"/>
<path fill="#0014ff" d="m38 0h1v1h-1zm1 1h1v1h-1zm2 3h1v1h-1zm1 2h1v1h-1zm1 1h1v1h-1zm1 2h1v1h-1zm1 2h1v1h-1zm1 3h1v1h-1zm0 1h1v1h-1zm0 1h1v1h-1zm0 1h1v1h-1zm-1 3h1v1h-1zm0 1h1v1h-1zm-1 2h1v1h-1zm-1 1h1v1h-1zm-1 2h1v1h-1zm-2 3h1v1h-1zm-2 2h1v1h-1zm-2 1h1v1h-1zm-1 1h1v1h-1zm-35 1h2v1h-2zm33 0h1v1h-1zm-27 1h9v1h-9zm24 0h2v1h-2z"/>
<path fill="#0028ff" d="m37 0h1v1h-1zm3 3h1v1h-1zm3 5h1v1h-1zm1 2h1v1h-1zm1 2h1v1h-1zm0 1h1v1h-1zm0 6h1v1h-1zm-1 3h1v1h-1zm-1 1h1v1h-1zm-1 2h1v1h-1zm-1 2h1v1h-1zm-2 3h1v1h-1zm-2 1h1v1h-1zm-3 2h1v1h-1zm-32 1h3v1h-3zm30 0h1v1h-1zm-17 1h15v1h-15z"/>
<path fill="#0040ff" d="m36 0h1v1h-1zm2 1h1v1h-1zm1 1h1v1h-1zm2 3h1v1h-1zm1 2h1v1h-1zm1 2h1v1h-1zm1 2h1v1h-1zm1 3h1v1h-1zm0 1h1v1h-1zm0 1h1v1h-1zm0 1h1v1h-1zm0 1h1v1h-1zm-1 3h1v1h-1zm-2 3h1v1h-1zm-1 2h1v1h-1zm-1 2h1v1h-1zm-1 1h1v1h-1zm-1 1h1v1h-1zm-2 1h1v1h-1zm-1 1h1v1h-1zm-35 1h1v1h-1zm33 0h1v1h-1zm-28 1h6v1h-6zm26 0h1v1h-1z"/>
<path fill="#0054ff" d="m35 0h1v1h-1zm2 1h1v1h-1zm3 3h1v1h-1zm1 2h1v1h-1zm1 2h1v1h-1zm1 2h1v1h-1zm1 2h1v1h-1zm0 7h1v1h-1zm0 1h1v1h-1zm-1 2h1v1h-1zm-3 5h1v1h-1zm-3 3h1v1h-1zm-3 2h1v1h-1zm-33 1h3v1h-3zm10 1h20v1h-20z"/>
<path fill="#0068ff" d="m34 0h1v1h-1zm2 1h1v1h-1zm2 1h1v1h-1zm1 1h1v1h-1zm1 2h1v1h-1zm2 4h1v1h-1zm1 2h1v1h-1zm1 2h1v1h-1zm0 1h1v1h-1zm0 3h1v1h-1zm0 1h1v1h-1zm-1 3h1v1h-1zm-1 2h1v1h-1zm-1 2h1v1h-1zm-2 3h1v1h-1zm-1 1h1v1h-1zm-3 2h1v1h-1zm-35 1h1v1h-1zm4 1h4v1h-4zm27 0h2v1h-2z"/>
<path fill="#0080ff" d="m35 1h1v1h-1zm2 1h1v1h-1zm4 5h1v1h-1zm2 5h1v1h-1zm1 3h1v1h-1zm0 1h1v1h-1zm-1 4h1v1h-1zm-1 2h1v1h-1zm-1 2h1v1h-1zm-1 2h1v1h-1zm-4 4h1v1h-1zm-2 1h1v1h-1zm-33 1h2v1h-2zm32 0h1v1h-1zm-25 1h6v1h-6zm22 0h1v1h-1z"/>
<path fill="#0094ff" d="m0 0h2v1h-2zm33 0h1v1h-1zm3 2h1v1h-1zm2 1h1v1h-1zm1 1h1v1h-1zm2 4h1v1h-1zm1 2h1v1h-1zm1 3h1v1h-1zm0 5h1v1h-1zm0 1h1v1h-1zm-1 2h1v1h-1zm-5 8h1v1h-1zm-34 3h2v1h-2zm29 0h1v1h-1zm-18 1h16v1h-16z"/>
<path fill="#00a8ff" d="m2 0h1v1h-1zm32 1h1v1h-1zm3 2h1v1h-1zm3 3h1v1h-1zm2 5h1v1h-1zm1 3h1v1h-1zm0 1h1v1h-1zm0 1h1v1h-1zm0 1h1v1h-1zm-2 6h1v1h-1zm-1 2h1v1h-1zm-1 2h1v1h-1zm-1 1h1v1h-1zm-2 1h1v1h-1zm-1 1h1v1h-1zm-35 1h2v1h-2zm5 1h3v1h-3z"/>
<path fill="#00c0ff" d="m3 0h3v1h-3zm29 0h1v1h-1zm-32 1h1v1h-1zm35 1h1v1h-1zm3 2h1v1h-1zm1 1h1v1h-1zm2 4h1v1h-1zm1 3h1v1h-1zm0 8h1v1h-1zm-5 8h1v1h-1zm-3 2h1v1h-1zm-32 1h1v1h-1zm31 0h1v1h-1zm-25 1h5v1h-5zm23 0h1v1h-1z"/>
<path fill="#00d4ff" d="m6 0h3v1h-3zm25 0h1v1h-1zm-30 1h1v1h-1zm35 2h1v1h-1zm4 4h1v1h-1zm2 6h1v1h-1zm0 6h1v1h-1zm-1 3h1v1h-1zm-2 4h1v1h-1zm-1 1h1v1h-1zm-3 2h1v1h-1zm-35 1h1v1h-1zm3 1h2v1h-2zm10 1h8v1h-8zm16 0h2v1h-2z"/>
<path fill="#02e8f4" d="m9 0h4v1h-4zm-7 1h2v1h-2zm31 0h1v1h-1zm1 1h1v1h-1zm3 2h1v1h-1zm4 6h1v1h-1zm1 4h1v1h-1zm0 1h1v1h-1zm0 2h1v1h-1zm0 1h1v1h-1zm-1 3h1v1h-1zm-1 3h1v1h-1zm-4 4h1v1h-1zm-35 2h1v1h-1zm4 1h3v1h-3zm27 0h1v1h-1zm-11 1h8v1h-8z"/>
<path fill="#16ffe1" d="m13 0h7v1h-7zm16 0h2v1h-2zm-25 1h2v1h-2zm-4 1h2v1h-2zm35 1h1v1h-1zm3 2h1v1h-1zm1 1h1v1h-1zm1 2h1v1h-1zm1 3h1v1h-1zm1 5h1v1h-1zm-3 9h1v1h-1zm-2 2h1v1h-1zm-3 2h1v1h-1zm-32 1h2v1h-2zm31 0h1v1h-1zm-25 1h4v1h-4zm23 0h1v1h-1z"/>
<path fill="#26ffd1" d="m20 0h9v1h-9zm-14 1h3v1h-3zm26 0h1v1h-1zm-30 1h1v1h-1zm34 2h1v1h-1zm5 16h1v1h-1zm-1 3h1v1h-1zm-2 3h1v1h-1zm-3 2h1v1h-1zm-35 1h2v1h-2zm4 1h2v1h-2zm8 1h5v1h-5zm18 0h1v1h-1z"/>
<path fill="#36ffc1" d="m9 1h3v1h-3zm22 0h1v1h-1zm-28 1h1v1h-1zm30 0h1v1h-1zm-33 1h1v1h-1zm34 0h1v1h-1zm3 2h1v1h-1zm1 1h1v1h-1zm1 1h1v1h-1zm1 2h1v1h-1zm1 3h1v1h-1zm0 7h1v1h-1zm-1 3h1v1h-1zm-4 5h1v1h-1zm-34 2h1v1h-1zm4 1h2v1h-2zm26 0h1v1h-1zm-15 1h13v1h-13z"/>
<path fill="#49ffad" d="m12 1h5v1h-5zm18 0h1v1h-1zm-26 1h2v1h-2zm-3 1h1v1h-1zm34 1h1v1h-1zm1 1h1v1h-1zm4 5h1v1h-1zm1 3h1v1h-1zm0 1h1v1h-1zm0 4h1v1h-1zm-2 6h1v1h-1zm-1 1h1v1h-1zm-1 1h1v1h-1zm-37 2h1v1h-1zm34 0h1v1h-1zm-31 1h1v1h-1zm30 0h1v1h-1zm-25 1h3v1h-3zm23 0h1v1h-1z"/>
<path fill="#5aff9d" d="m17 1h13v1h-13zm-11 1h3v1h-3zm26 0h1v1h-1zm-30 1h2v1h-2zm-2 1h1v1h-1zm37 2h1v1h-1zm2 2h1v1h-1zm2 7h1v1h-1zm0 1h1v1h-1zm0 1h1v1h-1zm-1 4h1v1h-1zm-5 6h1v1h-1zm-34 1h2v1h-2zm3 1h2v1h-2zm7 1h4v1h-4zm19 0h1v1h-1z"/>
<path fill="#6aff8d" d="m9 2h3v1h-3zm22 0h1v1h-1zm-27 1h1v1h-1zm29 0h1v1h-1zm-32 1h1v1h-1zm33 0h1v1h-1zm4 3h1v1h-1zm2 4h1v1h-1zm-1 12h1v1h-1zm-2 2h1v1h-1zm-1 1h1v1h-1zm-36 1h1v1h-1zm3 1h1v1h-1zm3 1h2v1h-2zm26 0h1v1h-1zm-17 1h6v1h-6zm14 0h1v1h-1z"/>
<path fill="#7dff7a" d="m12 2h4v1h-4zm18 0h1v1h-1zm-25 1h2v1h-2zm-3 1h1v1h-1zm-2 1h1v1h-1zm35 0h1v1h-1zm1 1h1v1h-1zm3 3h1v1h-1zm1 3h1v1h-1zm0 8h1v1h-1zm-2 4h1v1h-1zm-38 2h1v1h-1zm1 1h1v1h-1zm33 0h1v1h-1zm-30 1h1v1h-1zm29 0h1v1h-1zm-25 1h3v1h-3zm23 0h1v1h-1zm-10 1h8v1h-8z"/>
<path fill="#8dff6a" d="m16 2h5v1h-5zm13 0h1v1h-1zm-22 1h2v1h-2zm25 0h1v1h-1zm-29 1h1v1h-1zm-2 1h1v1h-1zm-1 1h1v1h-1zm37 1h1v1h-1zm1 1h1v1h-1zm2 5h1v1h-1zm0 6h1v1h-1zm-1 3h1v1h-1zm-3 3h1v1h-1zm-35 1h1v1h-1zm34 0h1v1h-1zm-33 1h2v1h-2zm3 1h2v1h-2zm6 1h4v1h-4z"/>
<path fill="#9dff5a" d="m21 2h8v1h-8zm-12 1h2v1h-2zm22 0h1v1h-1zm-27 1h2v1h-2zm29 0h1v1h-1zm-31 1h1v1h-1zm32 0h1v1h-1zm-33 1h1v1h-1zm34 0h1v1h-1zm4 4h1v1h-1zm1 4h1v1h-1zm0 4h1v1h-1zm-2 5h1v1h-1zm-1 1h1v1h-1zm-37 1h1v1h-1zm2 1h1v1h-1zm2 1h1v1h-1zm3 1h2v1h-2zm25 0h1v1h-1zm-17 1h4v1h-4zm15 0h1v1h-1z"/>
<path fill="#b1ff46" d="m11 3h4v1h-4zm-5 1h2v1h-2zm-3 1h1v1h-1zm-3 2h1v1h-1zm36 0h1v1h-1zm1 1h1v1h-1zm1 1h1v1h-1zm1 2h1v1h-1zm1 4h1v1h-1zm0 1h1v1h-1zm0 1h1v1h-1zm-1 4h1v1h-1zm-39 3h1v1h-1zm36 0h1v1h-1zm-35 1h1v1h-1zm34 0h1v1h-1zm-1 1h1v1h-1zm-29 1h1v1h-1zm28 0h1v1h-1zm-24 1h2v1h-2zm10 1h11v1h-11z"/>
<path fill="#c1ff36" d="m15 3h4v1h-4zm15 0h1v1h-1zm-22 1h2v1h-2zm24 0h1v1h-1zm-28 1h2v1h-2zm-2 1h1v1h-1zm-1 1h1v1h-1zm-1 1h1v1h-1zm39 12h1v1h-1zm-1 2h1v1h-1zm-38 1h1v1h-1zm37 0h1v1h-1zm-36 1h1v1h-1zm1 1h1v1h-1zm1 1h1v1h-1zm3 1h2v1h-2zm5 1h4v1h-4zm20 0h1v1h-1z"/>
<path fill="#d1ff26" d="m19 3h11v1h-11zm-9 1h3v1h-3zm21 0h1v1h-1zm-25 1h1v1h-1zm27 0h1v1h-1zm-30 1h1v1h-1zm31 0h1v1h-1zm-32 1h1v1h-1zm33 0h1v1h-1zm-34 1h1v1h-1zm35 0h1v1h-1zm-36 1h1v1h-1zm37 0h1v1h-1zm1 1h1v1h-1zm1 2h1v1h-1zm0 7h1v1h-1zm-39 3h1v1h-1zm3 3h1v1h-1zm1 1h2v1h-2zm4 1h2v1h-2zm24 0h1v1h-1zm-17 1h3v1h-3zm15 0h1v1h-1z"/>
<path fill="#e4ff13" d="m13 4h3v1h-3zm17 0h1v1h-1zm-23 1h2v1h-2zm-3 1h2v1h-2zm-1 1h1v1h-1zm-1 1h1v1h-1zm-1 1h1v1h-1zm-1 1h1v1h-1zm0 1h1v1h-1zm38 0h1v1h-1zm1 2h1v1h-1zm0 5h1v1h-1zm-39 2h1v1h-1zm0 1h1v1h-1zm38 0h1v1h-1zm-37 1h1v1h-1zm36 0h1v1h-1zm-36 1h1v1h-1zm35 0h1v1h-1zm-34 1h1v1h-1zm33 0h1v1h-1zm-1 1h1v1h-1zm-28 1h2v1h-2zm27 0h1v1h-1zm-23 1h3v1h-3zm21 0h1v1h-1zm-13 1h12v1h-12z"/>
<path fill="#f4f802" d="m16 4h5v1h-5zm13 0h1v1h-1zm-20 1h2v1h-2zm23 0h1v1h-1zm-26 1h1v1h-1zm27 0h1v1h-1zm-29 1h1v1h-1zm30 0h1v1h-1zm1 1h1v1h-1zm-33 1h1v1h-1zm34 0h1v1h-1zm-35 1h1v1h-1zm36 0h1v1h-1zm-37 2h1v1h-1zm0 1h1v1h-1zm39 1h1v1h-1zm0 1h1v1h-1zm0 1h1v1h-1zm0 1h1v1h-1zm-39 1h1v1h-1zm0 1h1v1h-1zm38 1h1v1h-1zm-37 1h1v1h-1zm36 0h1v1h-1zm-1 1h1v1h-1zm-34 1h1v1h-1zm1 1h1v1h-1zm1 1h2v1h-2zm4 1h1v1h-1zm5 1h3v1h-3z"/>
<path fill="#ffe600" d="m21 4h8v1h-8zm-10 1h3v1h-3zm20 0h1v1h-1zm-24 1h2v1h-2zm-2 1h1v1h-1zm-2 1h1v1h-1zm-1 2h1v1h-1zm34 0h1v1h-1zm-35 1h1v1h-1zm36 0h1v1h-1zm-36 1h1v1h-1zm37 0h1v1h-1zm-37 1h1v1h-1zm-1 1h1v1h-1zm0 1h1v1h-1zm0 1h1v1h-1zm0 1h1v1h-1zm1 2h1v1h-1zm37 0h1v1h-1zm-37 1h1v1h-1zm1 1h1v1h-1zm0 1h1v1h-1zm1 1h1v1h-1zm32 0h1v1h-1zm-31 1h1v1h-1zm30 0h1v1h-1zm-28 1h1v1h-1zm27 0h1v1h-1zm-24 1h3v1h-3zm23 0h1v1h-1zm-16 1h4v1h-4zm13 0h2v1h-2z"/>
<path fill="#ffd000" d="m14 5h4v1h-4zm16 0h1v1h-1zm-21 1h2v1h-2zm23 0h1v1h-1zm-26 1h2v1h-2zm27 0h1v1h-1zm-29 1h2v1h-2zm30 0h1v1h-1zm-31 1h1v1h-1zm32 0h1v1h-1zm-32 1h1v1h-1zm-1 1h1v1h-1zm0 1h1v1h-1zm35 0h1v1h-1zm1 1h1v1h-1zm-37 1h1v1h-1zm0 1h1v1h-1zm0 1h1v1h-1zm0 1h1v1h-1zm0 1h1v1h-1zm37 0h1v1h-1zm-36 2h1v1h-1zm35 0h1v1h-1zm-1 1h1v1h-1zm-33 1h1v1h-1zm1 1h1v1h-1zm1 1h2v1h-2zm2 1h2v1h-2zm5 1h2v1h-2zm19 0h1v1h-1zm-11 1h9v1h-9z"/>
<path fill="#ffbd00" d="m18 5h5v1h-5zm10 0h2v1h-2zm-17 1h2v1h-2zm20 0h1v1h-1zm-23 1h1v1h-1zm-2 1h1v1h-1zm-2 1h1v1h-1zm-1 2h1v1h-1zm33 0h1v1h-1zm-34 2h1v1h-1zm35 0h1v1h-1zm-35 1h1v1h-1zm36 0h1v1h-1zm-36 1h1v1h-1zm36 0h1v1h-1zm0 1h1v1h-1zm-36 1h1v1h-1zm36 0h1v1h-1zm-36 1h1v1h-1zm0 1h1v1h-1zm35 0h1v1h-1zm-34 1h1v1h-1zm33 0h1v1h-1zm-33 1h1v1h-1zm1 1h1v1h-1zm31 0h1v1h-1zm-30 1h1v1h-1zm29 0h1v1h-1zm-27 1h1v1h-1zm26 0h1v1h-1zm-24 1h2v1h-2zm23 0h1v1h-1zm-18 1h4v1h-4zm16 0h1v1h-1z"/>
<path fill="#ffab00" d="m23 5h5v1h-5zm-10 1h3v1h-3zm-4 1h2v1h-2zm23 0h1v1h-1zm-25 1h1v1h-1zm26 0h1v1h-1zm-28 1h2v1h-2zm29 0h1v1h-1zm-30 1h1v1h-1zm31 0h1v1h-1zm-31 1h1v1h-1zm-1 1h1v1h-1zm33 0h1v1h-1zm-33 1h1v1h-1zm34 1h1v1h-1zm-35 2h1v1h-1zm35 1h1v1h-1zm-34 1h1v1h-1zm34 0h1v1h-1zm-34 1h1v1h-1zm33 0h1v1h-1zm-32 2h1v1h-1zm31 0h1v1h-1zm-30 1h1v1h-1zm1 1h2v1h-2zm2 1h2v1h-2zm3 1h2v1h-2zm20 0h1v1h-1zm-13 1h5v1h-5zm10 0h2v1h-2z"/>
<path fill="#ff9400" d="m16 6h4v1h-4zm13 0h2v1h-2zm-18 1h2v1h-2zm-3 1h2v1h-2zm-1 1h1v1h-1zm-2 1h2v1h-2zm0 1h1v1h-1zm30 0h1v1h-1zm-31 1h1v1h-1zm32 1h1v1h-1zm-33 1h1v1h-1zm0 1h1v1h-1zm34 0h1v1h-1zm-34 1h1v1h-1zm34 0h1v1h-1zm-34 1h1v1h-1zm33 1h1v1h-1zm-32 1h1v1h-1zm0 1h1v1h-1zm1 1h1v1h-1zm1 1h2v1h-2zm28 0h1v1h-1zm-26 1h1v1h-1zm25 0h1v1h-1zm-23 1h2v1h-2zm22 0h1v1h-1zm-19 1h3v1h-3zm17 0h1v1h-1zm-7 1h5v1h-5z"/>
<path fill="#ff8200" d="m20 6h9v1h-9zm-7 1h3v1h-3zm18 0h1v1h-1zm-21 1h2v1h-2zm-2 1h2v1h-2zm25 0h1v1h-1zm-26 1h1v1h-1zm27 0h1v1h-1zm-28 1h1v1h-1zm-1 1h1v1h-1zm30 0h1v1h-1zm-31 1h2v1h-2zm0 1h1v1h-1zm32 0h1v1h-1zm-32 1h1v1h-1zm32 0h1v1h-1zm-32 1h1v1h-1zm0 1h1v1h-1zm32 0h1v1h-1zm-32 1h1v1h-1zm1 1h1v1h-1zm0 1h2v1h-2zm30 0h1v1h-1zm-29 1h2v1h-2zm28 0h1v1h-1zm-26 1h1v1h-1zm1 1h2v1h-2zm3 1h3v1h-3zm4 1h4v1h-4zm13 0h1v1h-1z"/>
<path fill="#ff6f00" d="m16 7h4v1h-4zm13 0h2v1h-2zm-17 1h3v1h-3zm19 0h2v1h-2zm-21 1h1v1h-1zm-2 1h2v1h-2zm-1 1h1v1h-1zm27 0h1v1h-1zm-28 1h2v1h-2zm0 1h1v1h-1zm29 0h1v1h-1zm-30 1h1v1h-1zm0 1h1v1h-1zm0 1h1v1h-1zm31 0h1v1h-1zm-31 1h1v1h-1zm0 1h2v1h-2zm30 0h1v1h-1zm-29 1h1v1h-1zm29 0h1v1h-1zm-28 1h1v1h-1zm27 0h1v1h-1zm-26 1h1v1h-1zm1 1h2v1h-2zm24 0h1v1h-1zm-22 1h2v1h-2zm21 0h1v1h-1zm-17 1h2v1h-2zm15 0h2v1h-2zm-10 1h9v1h-9z"/>
<path fill="#ff5900" d="m20 7h9v1h-9zm-5 1h3v1h-3zm15 0h1v1h-1zm-19 1h3v1h-3zm21 0h1v1h-1zm-22 1h2v1h-2zm23 0h1v1h-1zm-25 1h2v1h-2zm0 1h1v1h-1zm26 0h1v1h-1zm-27 1h1v1h-1zm-1 1h2v1h-2zm29 0h1v1h-1zm-29 1h1v1h-1zm29 0h1v1h-1zm-29 1h1v1h-1zm29 0h1v1h-1zm-29 1h1v1h-1zm29 0h1v1h-1zm-28 1h1v1h-1zm0 1h2v1h-2zm27 0h1v1h-1zm-26 1h2v1h-2zm1 1h2v1h-2zm24 0h1v1h-1zm-22 1h2v1h-2zm2 1h3v1h-3zm18 0h1v1h-1zm-14 1h5v1h-5zm11 0h2v1h-2z"/>
<path fill="#ff4700" d="m18 8h4v1h-4zm10 0h2v1h-2zm-14 1h2v1h-2zm17 0h1v1h-1zm-19 1h2v1h-2zm20 0h1v1h-1zm-22 1h2v1h-2zm23 0h1v1h-1zm-24 1h2v1h-2zm-1 1h2v1h-2zm26 0h1v1h-1zm-26 1h1v1h-1zm26 0h1v1h-1zm-27 1h2v1h-2zm0 1h1v1h-1zm0 1h2v1h-2zm27 0h1v1h-1zm-26 1h1v1h-1zm26 0h1v1h-1zm-25 1h1v1h-1zm1 1h1v1h-1zm23 0h1v1h-1zm-22 1h2v1h-2zm2 1h2v1h-2zm19 0h1v1h-1zm-16 1h3v1h-3zm14 0h1v1h-1zm-8 1h6v1h-6z"/>
<path fill="#ff3400" d="m22 8h6v1h-6zm-6 1h4v1h-4zm13 0h2v1h-2zm-15 1h2v1h-2zm17 0h1v1h-1zm-19 1h2v1h-2zm20 0h1v1h-1zm-21 1h2v1h-2zm22 0h1v1h-1zm-23 1h1v1h-1zm-1 1h2v1h-2zm0 1h1v1h-1zm25 0h1v1h-1zm-26 1h2v1h-2zm26 0h1v1h-1zm-25 1h1v1h-1zm0 1h2v1h-2zm1 1h2v1h-2zm23 0h1v1h-1zm-22 1h3v1h-3zm2 1h2v1h-2zm19 0h1v1h-1zm-17 1h3v1h-3zm15 0h2v1h-2zm-11 1h4v1h-4zm8 0h3v1h-3z"/>
<path fill="#ff1e00" d="m20 9h9v1h-9zm-4 1h4v1h-4zm14 0h1v1h-1zm-16 1h3v1h-3zm17 0h1v1h-1zm-18 1h2v1h-2zm19 0h1v1h-1zm-21 1h3v1h-3zm22 0h1v1h-1zm-22 1h1v1h-1zm22 0h1v1h-1zm-23 1h2v1h-2zm23 0h1v1h-1zm-23 1h2v1h-2zm23 0h1v1h-1zm-23 1h2v1h-2zm23 0h1v1h-1zm-22 1h2v1h-2zm22 0h1v1h-1zm-21 1h2v1h-2zm20 0h1v1h-1zm-18 1h2v1h-2zm17 0h2v1h-2zm-16 1h3v1h-3zm15 0h2v1h-2zm-12 1h4v1h-4zm10 0h2v1h-2zm-5 1h4v1h-4z"/>
<path fill="#f60b00" d="m20 10h4v1h-4zm5 0h5v1h-5zm-8 1h3v1h-3zm12 0h2v1h-2zm-14 1h3v1h-3zm16 0h1v1h-1zm-17 1h2v1h-2zm17 0h2v1h-2zm-19 1h3v1h-3zm20 0h1v1h-1zm-20 1h2v1h-2zm20 0h1v1h-1zm-20 1h2v1h-2zm0 1h3v1h-3zm20 0h1v1h-1zm-19 1h3v1h-3zm19 0h1v1h-1zm-18 1h3v1h-3zm17 0h1v1h-1zm-15 1h3v1h-3zm14 0h1v1h-1zm-12 1h4v1h-4zm10 0h2v1h-2zm-6 1h6v1h-6z"/>
<path fill="#df0000" d="m24 10h1v1h-1zm-4 1h9v1h-9zm-2 1h3v1h-3zm11 0h2v1h-2zm-13 1h3v1h-3zm14 0h1v1h-1zm-15 1h2v1h-2zm16 0h1v1h-1zm-17 1h3v1h-3zm17 0h1v1h-1zm-17 1h2v1h-2zm17 0h2v1h-2zm-16 1h2v1h-2zm16 0h1v1h-1zm-15 1h2v1h-2zm14 0h2v1h-2zm-13 1h3v1h-3zm12 0h2v1h-2zm-10 1h4v1h-4zm9 0h2v1h-2zm-6 1h6v1h-6z"/>
<path fill="#c40000" d="m21 12h8v1h-8zm-2 1h4v1h-4zm9 0h2v1h-2zm-11 1h4v1h-4zm12 0h2v1h-2zm-12 1h3v1h-3zm13 0h1v1h-1zm-14 1h3v1h-3zm14 0h1v1h-1zm-13 1h3v1h-3zm12 0h2v1h-2zm-11 1h4v1h-4zm10 0h2v1h-2zm-8 1h9v1h-9zm3 1h5v1h-5z"/>
<path fill="#ad0000" d="m23 13h5v1h-5zm-2 1h8v1h-8zm-1 1h4v1h-4zm6 0h4v1h-4zm-7 1h4v1h-4zm8 0h3v1h-3zm-7 1h9v1h-9zm2 1h6v1h-6z"/>
<path fill="#960000" d="m24 15h2v1h-2zm-1 1h4v1h-4z"/>
</g>
</g></g>
<g opacity="0.59">
<rect x="85.5" y="518.7" width="325.2" height="275.6" fill="#000"/>
<g transform="translate(85.5,518.01) scale(2.3229,2.3370)" shape-rendering="crispEdges">
<path fill="#303030" d="m45 0h6v1h-6zm27 0h5v2h-5zm-26 1h5v2h-5zm27 1h4v2h-4zm-26 1h4v3h-4zm27 1h3v1h-3zm0 1h2v1h-2zm-26 1h3v1h-3zm27 0h1v1h-1zm-27 1h2v1h-2zm1 1h1v1h-1zm25 1h4v1h-4zm-1 1h5v3h-5zm1 3h4v4h-4zm-12 1h3v1h-3zm0 1h4v1h-4zm1 1h4v1h-4zm0 1h7v1h-7zm10 0h5v2h-5zm-9 1h7v1h-7zm0 1h13v1h-13zm1 1h12v1h-12zm1 1h10v1h-10zm1 1h9v2h-9zm1 2h9v3h-9zm0 3h10v1h-10zm-1 1h10v2h-10zm1 2h8v2h-8zm0 2h9v4h-9zm0 4h8v2h-8zm0 2h9v1h-9zm18 0h2v1h-2zm-17 1h9v1h-9zm18 0h1v1h-1zm-19 1h10v2h-10zm0 2h11v1h-11zm0 1h12v3h-12zm22 2h1v1h-1zm-21 1h9v1h-9zm20 0h4v1h-4zm-21 1h9v5h-9zm22 0h3v1h-3zm-22 5h8v1h-8zm0 1h7v1h-7zm-1 1h8v1h-8zm0 1h7v1h-7zm-1 1h8v2h-8zm0 2h7v1h-7zm0 1h6v1h-6zm30 0h2v2h-2zm-31 1h7v1h-7zm1 1h5v1h-5zm0 1h4v1h-4zm-1 1h5v1h-5zm-1 1h6v1h-6zm-1 1h7v2h-7zm1 2h3v1h-3zm33 1h1v1h-1zm-34 1h4v1h-4zm34 0h2v1h-2zm-35 1h6v2h-6zm34 0h3v2h-3zm-35 2h7v1h-7zm36 0h2v1h-2zm-34 1h1v1h-1zm-3 2h5v1h-5zm0 1h6v3h-6zm37 0h1v1h-1zm0 1h2v1h-2zm-1 1h4v4h-4zm-35 1h4v1h-4zm-2 3h5v2h-5zm-1 2h6v2h-6zm41 0h1v1h-1zm0 1h2v1h-2zm-40 1h3v1h-3zm39 0h4v1h-4zm-1 1h5v4h-5zm-39 2h4v1h-4zm-1 1h5v3h-5zm41 1h4v10h-4zm-41 2h4v1h-4zm0 4h5v3h-5zm0 3h4v1h-4zm42 1h2v2h-2zm-42 4h3v1h-3zm-1 1h4v2h-4zm1 7h1v1h-1zm-1 1h3v1h-3zm-1 1h4v2h-4zm1 2h3v1h-3z"/>
<path fill="#7d7d7d" d="m0 5h41v4h-41zm0 4h42v6h-42zm0 6h44v3h-44zm0 3h45v3h-45zm10 3h36v1h-36zm2 1h34v1h-34zm1 1h33v1h-33zm1 1h32v1h-32zm1 1h32v1h-32zm1 1h31v1h-31zm1 1h30v2h-30zm1 2h30v3h-30zm1 3h29v5h-29zm0 5h28v2h-28zm1 2h27v1h-27zm-1 1h28v7h-28zm-1 7h29v4h-29zm-1 4h29v3h-29zm-1 3h30v3h-30zm-1 3h31v1h-31zm0 1h30v1h-30zm-1 1h31v2h-31zm-1 2h32v2h-32zm-1 2h33v1h-33zm0 1h32v1h-32zm-1 1h33v2h-33zm-1 2h34v2h-34zm-1 2h34v1h-34zm-9 1h43v3h-43zm0 3h42v6h-42zm0 6h41v1h-41zm0 1h42v1h-42zm0 1h41v9h-41zm0 9h40v3h-40zm0 3h41v1h-41zm0 1h40v1h-40zm0 1h41v9h-41zm0 9h40v2h-40zm0 2h39v1h-39zm0 1h38v1h-38zm0 1h37v1h-37z"/>
<path fill="#bbbbbb" d="m43 0h2v1h-2zm8 0h21v2h-21zm26 0h16v5h-16zm-34 1h3v2h-3zm8 1h22v2h-22zm-8 1h4v3h-4zm8 1h23v2h-23zm25 1h17v2h-17zm-33 1h5v2h-5zm8 0h24v1h-24zm-1 1h43v2h-43zm-5 1h4v1h-4zm0 1h29v1h-29zm33 0h15v10h-15zm-33 1h28v3h-28zm0 3h29v1h-29zm0 1h17v1h-17zm20 0h9v1h-9zm-18 1h15v1h-15zm19 0h8v1h-8zm-19 1h16v2h-16zm20 0h7v1h-7zm3 1h3v1h-3zm-23 1h17v2h-17zm24 0h2v1h-2zm6 1h16v2h-16zm-29 1h17v1h-17zm0 1h18v1h-18zm28 0h17v3h-17zm-28 1h19v2h-19zm0 2h20v2h-20zm29 0h16v3h-16zm-28 2h19v2h-19zm29 1h15v1h-15zm-29 1h18v2h-18zm28 0h17v2h-17zm-28 2h19v1h-19zm27 0h18v2h-18zm-28 1h20v2h-20zm29 1h17v1h-17zm-28 1h19v3h-19zm28 0h18v3h-18zm-29 3h20v3h-20zm28 0h19v2h-19zm1 2h9v1h-9zm11 0h8v2h-8zm-40 1h21v1h-21zm30 0h9v1h-9zm-31 1h21v1h-21zm31 0h18v2h-18zm-30 1h20v3h-20zm31 1h17v1h-17zm1 1h17v2h-17zm-33 1h21v1h-21zm1 1h20v1h-20zm32 0h10v1h-10zm11 0h6v1h-6zm-43 1h21v1h-21zm30 0h11v1h-11zm15 0h4v2h-4zm-45 1h20v1h-20zm29 0h13v1h-13zm-30 1h21v2h-21zm30 0h21v4h-21zm-29 2h20v1h-20zm-1 1h21v1h-21zm-1 1h22v2h-22zm30 0h22v1h-22zm-1 1h24v2h-24zm-28 1h20v2h-20zm27 1h25v2h-25zm-28 1h20v4h-20zm28 1h26v1h-26zm-1 1h27v1h-27zm-1 1h24v2h-24zm26 0h2v2h-2zm-52 1h19v1h-19zm0 1h20v1h-20zm25 0h29v1h-29zm-26 1h21v1h-21zm25 0h30v1h-30zm-24 1h19v1h-19zm24 0h31v4h-31zm-24 1h18v1h-18zm-1 1h18v1h-18zm-1 1h19v1h-19zm1 1h19v1h-19zm22 0h34v1h-34zm-22 1h52v1h-52zm53 0h3v1h-3zm-53 1h18v1h-18zm22 0h30v1h-30zm32 0h2v1h-2zm-55 1h18v1h-18zm24 0h28v2h-28zm31 0h3v3h-3zm-56 1h19v1h-19zm1 1h17v1h-17zm24 0h29v1h-29zm-24 1h19v1h-19zm20 0h38v1h-38zm-21 1h59v1h-59zm-1 1h18v1h-18zm23 0h37v1h-37zm-22 1h17v3h-17zm23 0h31v2h-31zm32 0h4v1h-4zm1 1h3v1h-3zm-33 1h30v1h-30zm34 0h2v1h-2zm-57 1h18v1h-18zm22 0h31v1h-31zm35 0h3v3h-3zm-58 1h54v2h-54zm0 2h17v2h-17zm22 0h39v2h-39zm-23 2h17v1h-17zm23 0h35v2h-35zm36 0h3v1h-3zm-58 1h16v1h-16zm59 0h2v1h-2zm-59 1h17v1h-17zm20 0h36v1h-36zm40 0h1v6h-1zm-60 1h55v2h-55zm-1 2h17v1h-17zm21 0h35v2h-35zm-20 1h15v2h-15zm20 1h36v2h-36zm-21 1h16v2h-16zm61 0h2v9h-2zm-41 1h37v1h-37zm-20 1h57v3h-57zm0 3h16v4h-16zm21 0h36v3h-36zm-1 3h37v1h-37zm-20 1h58v2h-58zm60 0h3v2h-3zm-60 2h63v2h-63zm0 2h16v1h-16zm19 0h44v3h-44zm-19 1h15v2h-15zm0 2h63v5h-63zm0 5h16v1h-16zm17 0h46v1h-46zm-17 1h15v1h-15zm18 0h45v4h-45zm-18 1h14v2h-14zm0 2h15v1h-15z"/>
<path fill="#ebebeb" d="m0 0h43v1h-43zm93 0h11v1h-11z"/>
<path fill="#ffffff" d="m104 0h24v6h-24zm0 6h5v7h-5zm7 0h13v1h-13zm0 1h15v3h-15zm0 3h16v3h-16zm-7 3h23v2h-23zm0 2h5v4h-5zm7 0h16v2h-16zm0 2h11v2h-11zm12 0h4v3h-4zm-19 2h18v1h-18zm0 1h23v1h-23zm0 1h5v8h-5zm7 0h16v3h-16zm0 3h17v2h-17zm0 2h16v3h-16zm-7 3h23v6h-23zm0 6h24v2h-24zm0 2h5v5h-5zm6 0h17v5h-17zm-6 5h23v2h-23zm0 2h5v5h-5zm7 0h16v5h-16zm-7 5h24v1h-24zm0 1h5v5h-5zm6 0h18v5h-18zm-6 5h24v2h-24zm0 2h5v22h-5zm7 0h17v7h-17zm1 7h16v15h-16zm-8 15h24v3h-24zm0 3h5v15h-5zm8 0h16v12h-16zm3 12h4v1h-4zm6 0h7v1h-7zm-5 1h12v2h-12zm-12 2h24v2h-24zm0 2h5v12h-5zm19 0h5v12h-5zm-19 12h24v2h-24zm0 2h5v5h-5zm19 0h5v5h-5z"/>
</g>
</g>
<path fill="none" stroke="#f01818" stroke-width="1.0" stroke-linejoin="round" d="M229 551.2L235.5 551.2L239.6 556.1L247.7 558.5L252.6 564.2L255.9 560.1L257.5 553.6L255.9 545.5L257.5 539L265.6 539L267.3 543.9L265.6 553.6L265.6 563.4L260.8 569.9L264.8 576.4L265.6 584.5L262.4 591L264.8 599.1L262.4 605.6L265.6 610.5L267.3 617L271.4 620.2L270.5 625.1L265.6 626.7L264.8 634.8L262.4 641.3L258.3 646.2L255.9 654.3L252.6 659.2L248.5 665.7L249.3 670.6L246.9 675.4L241.2 676.3L234.7 677.1L232.7 672.2L234.7 667.3L239.6 665.7L237.9 659.2L239.6 652.7L242 646.2L244.5 641.3L243.6 633.2L245.3 626.7L243.6 618.6L245.3 610.5L243.1 602.4L244.5 594.2L242.8 586.1L243.6 578L241.2 571.5L237.9 566.6L233.9 561.8L231.4 556.9Z"/>
<path fill="none" stroke="#f01818" stroke-width="1.0" stroke-linejoin="round" d="M231.4 680.3L239.6 679.5L244.5 685.2L241.2 689.2L233 690.1L228.2 687.6Z"/>
<path fill="none" stroke="#f01818" stroke-width="1.0" stroke-linejoin="round" d="M226.5 694.9L235.5 693.3L239.6 699.8L236.3 704.7L227.3 705.5L224.6 701.4Z"/>
<path fill="none" stroke="#f01818" stroke-width="1.0" stroke-linejoin="round" d="M223.3 711.2L231.4 708.7L235.5 714.4L233 720.1L224.1 720.9L220.8 717.7Z"/>
<path fill="none" stroke="#f01818" stroke-width="1.0" stroke-linejoin="round" d="M220 726.6L228.2 725.8L230.6 732.3L227.3 738L220 738.8L217.6 733.1Z"/>
<path fill="none" stroke="#f01818" stroke-width="1.0" stroke-linejoin="round" d="M219.2 745.3L229 744.5L230.6 749.3L226.5 754.2L219.2 754.2L217.6 750.1Z"/>
<path fill="none" stroke="#f01818" stroke-width="1.0" stroke-linejoin="round" d="M220.8 762.3L224.9 764.8L224.1 771.2L218.4 772.1L216.4 768Z"/>
<path fill="none" stroke="#f01818" stroke-width="1.0" stroke-linejoin="round" d="M219.2 781.8L222.4 785.1L221.6 795.6L215.9 795.6L214.3 789.1Z"/>
<path fill="none" stroke="#f01818" stroke-width="1.0" stroke-linejoin="round" d="M191.5 519.5L202.9 519.5L204.5 532.5L200.4 539L197.2 535.8L194.7 527.7Z"/>
<path fill="none" stroke="#f01818" stroke-width="1.0" stroke-linejoin="round" d="M253.4 519.5L263.2 519.5L263.2 529.3L260.8 534.2L257.5 530.9Z"/>
<path fill="none" stroke="#f01818" stroke-width="1.0" stroke-linejoin="round" d="M288.5 605.9L291.1 608.9L288.5 611.8L285.9 608.9Z"/>
<path fill="none" stroke="#f01818" stroke-width="1.0" stroke-linejoin="round" d="M295 624.3L299.9 625.1L302.3 629.2L299.1 631.6L295 630.3L293.7 627Z"/>
<path fill="none" stroke="#f01818" stroke-width="1.0" stroke-linejoin="round" d="M311.3 654.3L313.7 658.4L311.3 662.8L308.8 658.4Z"/>
<path fill="none" stroke="#f01818" stroke-width="1.0" stroke-linejoin="round" d="M312.9 677.9L316.2 682.8L314.6 688.1L310.5 687.6L309.3 682.8Z"/>
<path fill="none" stroke="#f01818" stroke-width="1.0" stroke-linejoin="round" d="M312.9 696.5L317 699.8L317 709.5L309.7 710.4L308.8 701.4Z"/>
<path fill="none" stroke="#f01818" stroke-width="1.0" stroke-linejoin="round" d="M317 716L321.9 719.3L322.7 740.4L321.1 756.6L317.8 759.9L314.6 755L312.9 740.4L312.1 722.5Z"/>
<path fill="none" stroke="#f01818" stroke-width="1.0" stroke-linejoin="round" d="M209.4 772.1L211.9 774.5L209.4 776.9L207 774.5Z"/>
<path fill="none" stroke="#f01818" stroke-width="1.0" stroke-linejoin="round" d="M214.3 772.1L216.7 774.5L214.3 776.9L211.9 774.5Z"/>
<path fill="none" stroke="#141414" stroke-width="1.5" stroke-linejoin="round" d="M198.8 573.1L203.7 569.1L211.9 571.5L221.6 578L231.4 589.4L237.9 600.7L239.6 610.5L236.3 626.7L231.4 639.7L224.9 652.7L216.7 667.3L210.2 678.7L204.5 684.9L198.8 681.9L193.1 673.8L190.7 667.3L191.5 652.7L193.9 634.8L195.6 617L197.2 597.5L198 582.9Z"/>
<rect x="85.5" y="518.7" width="325.2" height="2.6" fill="#ededed"/>
</g>
<text class="tg" transform="scale(0.9084,1)" x="113.81" y="764.2" font-size="29.86" fill="#fff">SARRP</text>
<rect x="85.5" y="518.7" width="325.2" height="275.6" fill="none" stroke="#000" stroke-width="1.25"/>
<path d="M85.5 794.3v3.6M131.96 794.3v3.6M178.41 794.3v3.6M224.87 794.3v3.6M271.33 794.3v3.6M317.79 794.3v3.6M364.24 794.3v3.6M410.7 794.3v3.6M85.5 532.5h-3.6M85.5 579.24h-3.6M85.5 625.98h-3.6M85.5 672.72h-3.6M85.5 719.46h-3.6M85.5 766.2h-3.6M445.8 507.9h3.4M445.8 545.3h3.4M445.8 582.7h3.4M445.8 620.1h3.4M445.8 657.5h3.4M445.8 694.9h3.4M445.8 732.3h3.4M445.8 769.7h3.4" stroke="#000" stroke-width="1.1" fill="none"/>
<text class="dv" x="61.65" y="817.5" font-size="22.6">−15</text>
<text class="dv" x="108.11" y="817.5" font-size="22.6">−10</text>
<text class="dv" x="161.76" y="817.5" font-size="22.6">−5</text>
<text class="dv" x="217.68" y="817.5" font-size="22.6">0</text>
<text class="dv" x="264.14" y="817.5" font-size="22.6">5</text>
<text class="dv" x="303.41" y="817.5" font-size="22.6">10</text>
<text class="dv" x="349.86" y="817.5" font-size="22.6">15</text>
<text class="dv" x="396.32" y="817.5" font-size="22.6">20</text>
<text class="dv" x="50.27" y="540.86" font-size="22.6">10</text>
<text class="dv" x="65.07" y="587.6" font-size="22.6">5</text>
<text class="dv" x="64.62" y="634.34" font-size="22.6">0</text>
<text class="dv" x="46.09" y="681.08" font-size="22.6">−5</text>
<text class="dv" x="31.28" y="727.82" font-size="22.6">−10</text>
<text class="dv" x="31.73" y="774.56" font-size="22.6">−15</text>
<text class="dv" x="156.81" y="513" font-size="22.9">Simulated Dose</text>
<text class="dv" x="176.49" y="842.2" font-size="23.07">Depth [mm]</text>
<text class="dv" transform="translate(21.7,760.28) rotate(-90)" font-size="22.75">Vertical Axis [mm]</text>
<rect x="430" y="507.7" width="15.8" height="297.8" fill="url(#jet)" stroke="#1a0a0a" stroke-opacity=".75" stroke-width="1"/>
<text class="dv" x="450.94" y="515.23" font-size="18.2">20.0</text>
<text class="dv" x="450.3" y="552.63" font-size="18.2">17.5</text>
<text class="dv" x="450.3" y="590.03" font-size="18.2">15.0</text>
<text class="dv" x="450.3" y="627.43" font-size="18.2">12.5</text>
<text class="dv" x="450.3" y="664.83" font-size="18.2">10.0</text>
<text class="dv" x="450.84" y="702.23" font-size="18.2">7.5</text>
<text class="dv" x="450.94" y="739.63" font-size="18.2">5.0</text>
<text class="dv" x="450.94" y="777.03" font-size="18.2">2.5</text>
<text class="dv" transform="translate(509.3,677.47) rotate(-90)" font-size="17.5">[Gy]</text>
<text class="lb" transform="scale(0.9716,1)" x="-1.01" y="518" font-size="38.4">D</text>
</g>
<g id="panelE">
<clipPath id="axE"><rect x="647.5" y="519.7" width="332.5" height="282"/></clipPath>
<clipPath id="htE"><rect x="656.2" y="553.9" width="285.9" height="191.6"/></clipPath>
<g clip-path="url(#axE)">
<g clip-path="url(#htE)">
<g shape-rendering="crispEdges">
<g transform="translate(656.23,553.91) scale(4.7645,4.7892)">
<path fill="#000080" d="m0 0h4v1h-4zm54 0h6v1h-6zm-54 1h3v1h-3zm54 0h6v1h-6zm-54 1h2v1h-2zm55 0h5v1h-5zm-55 1h1v1h-1zm55 0h5v1h-5zm-55 1h1v1h-1zm55 0h5v1h-5zm0 1h5v1h-5zm0 1h5v1h-5zm1 1h4v1h-4zm0 1h4v1h-4zm1 1h3v1h-3zm0 1h3v1h-3zm0 1h3v1h-3zm0 1h3v1h-3zm1 1h2v1h-2zm-1 1h3v1h-3zm0 1h3v1h-3zm0 1h3v1h-3zm0 1h3v1h-3zm0 1h3v1h-3zm-1 1h4v1h-4zm0 1h4v1h-4zm0 1h4v1h-4zm-1 1h5v1h-5zm-1 1h6v1h-6zm0 1h6v1h-6zm-1 1h7v1h-7zm-1 1h8v1h-8zm-1 1h9v1h-9zm-1 1h10v1h-10zm-1 1h11v1h-11zm0 1h11v1h-11zm-1 1h12v1h-12zm-1 1h13v1h-13zm0 1h13v1h-13zm-1 1h14v1h-14zm0 1h14v1h-14zm-1 1h15v1h-15zm-1 1h16v1h-16zm0 1h16v1h-16zm-1 1h17v1h-17z"/>
<path fill="#000096" d="m4 0h6v1h-6zm46 0h4v1h-4zm-47 1h7v1h-7zm47 0h4v1h-4zm-48 1h7v1h-7zm48 0h5v1h-5zm-49 1h7v1h-7zm49 0h5v1h-5zm-49 1h6v1h-6zm49 0h5v1h-5zm-50 1h7v1h-7zm50 0h5v1h-5zm-50 1h6v1h-6zm50 0h5v1h-5zm-50 1h5v1h-5zm50 0h6v1h-6zm-50 1h5v1h-5zm50 0h6v1h-6zm-50 1h4v1h-4zm51 0h6v1h-6zm-51 1h4v1h-4zm51 0h6v1h-6zm-51 1h3v1h-3zm51 0h6v1h-6zm-51 1h2v1h-2zm51 0h6v1h-6zm-51 1h1v1h-1zm51 0h7v1h-7zm-51 1h1v1h-1zm51 0h6v1h-6zm0 1h6v1h-6zm0 1h6v1h-6zm-1 1h7v1h-7zm0 1h7v1h-7zm0 1h6v1h-6zm-1 1h7v1h-7zm0 1h7v1h-7zm0 1h6v1h-6zm-1 1h6v1h-6zm-48 1h1v1h-1zm47 0h7v1h-7zm-47 1h1v1h-1zm47 0h6v1h-6zm-47 1h1v1h-1zm46 0h6v1h-6zm-46 1h1v1h-1zm46 0h5v1h-5zm-46 1h1v1h-1zm45 0h5v1h-5zm-45 1h1v1h-1zm45 0h4v1h-4zm-45 1h2v1h-2zm44 0h5v1h-5zm-44 1h2v1h-2zm44 0h4v1h-4zm-44 1h2v1h-2zm43 0h4v1h-4zm-43 1h3v1h-3zm43 0h4v1h-4zm-43 1h3v1h-3zm42 0h4v1h-4zm-42 1h3v1h-3zm42 0h4v1h-4zm-42 1h4v1h-4zm41 0h4v1h-4zm-41 1h4v1h-4zm40 0h4v1h-4zm-40 1h4v1h-4zm40 0h4v1h-4zm-40 1h5v1h-5zm40 0h3v1h-3z"/>
<path fill="#0000ad" d="m10 0h4v1h-4zm38 0h2v1h-2zm-38 1h3v1h-3zm38 0h2v1h-2zm-39 1h3v1h-3zm39 0h2v1h-2zm-40 1h4v1h-4zm40 0h2v1h-2zm-41 1h4v1h-4zm42 0h1v1h-1zm-42 1h3v1h-3zm42 0h1v1h-1zm-43 1h3v1h-3zm43 0h1v1h-1zm-44 1h3v1h-3zm44 0h1v1h-1zm-44 1h2v1h-2zm44 0h1v1h-1zm-45 1h3v1h-3zm45 0h2v1h-2zm-45 1h2v1h-2zm45 0h2v1h-2zm-46 1h2v1h-2zm46 0h2v1h-2zm-47 1h3v1h-3zm47 0h2v1h-2zm-48 1h3v1h-3zm48 0h2v1h-2zm-48 1h3v1h-3zm47 0h3v1h-3zm-48 1h4v1h-4zm48 0h3v1h-3zm-48 1h3v1h-3zm48 0h3v1h-3zm-48 1h3v1h-3zm48 0h2v1h-2zm-48 1h3v1h-3zm48 0h2v1h-2zm-48 1h3v1h-3zm47 0h3v1h-3zm-47 1h3v1h-3zm47 0h2v1h-2zm-47 1h3v1h-3zm47 0h2v1h-2zm-47 1h3v1h-3zm46 0h3v1h-3zm-46 1h3v1h-3zm46 0h2v1h-2zm-45 1h2v1h-2zm45 0h1v1h-1zm-45 1h2v1h-2zm44 0h2v1h-2zm-44 1h2v1h-2zm44 0h1v1h-1zm-44 1h3v1h-3zm43 0h2v1h-2zm-43 1h3v1h-3zm43 0h1v1h-1zm-43 1h4v1h-4zm42 0h2v1h-2zm-41 1h3v1h-3zm40 0h2v1h-2zm-40 1h3v1h-3zm40 0h2v1h-2zm-40 1h4v1h-4zm39 0h2v1h-2zm-38 1h3v1h-3zm38 0h2v1h-2zm-38 1h3v1h-3zm38 0h1v1h-1zm-38 1h4v1h-4zm37 0h2v1h-2zm-36 1h3v1h-3zm36 0h1v1h-1zm-36 1h3v1h-3zm35 0h1v1h-1zm-35 1h4v1h-4zm35 0h1v1h-1zm-34 1h3v1h-3zm33 0h2v1h-2z"/>
<path fill="#0000c8" d="m14 0h2v1h-2zm-1 1h2v1h-2zm-1 1h2v1h-2zm0 1h1v1h-1zm-1 1h2v1h-2zm37 0h1v1h-1zm-38 1h2v1h-2zm38 0h1v1h-1zm-39 1h2v1h-2zm39 0h1v1h-1zm-40 1h3v1h-3zm40 0h1v1h-1zm-41 1h3v1h-3zm41 0h1v1h-1zm-41 1h2v1h-2zm41 0h1v1h-1zm-42 1h2v1h-2zm42 0h1v1h-1zm-43 1h2v1h-2zm43 0h1v1h-1zm-43 1h2v1h-2zm43 0h1v1h-1zm-44 1h2v1h-2zm44 0h1v1h-1zm-44 1h2v1h-2zm0 1h1v1h-1zm43 0h1v1h-1zm-44 1h2v1h-2zm44 0h1v1h-1zm-44 1h2v1h-2zm44 0h1v1h-1zm-44 1h2v1h-2zm44 0h1v1h-1zm-44 1h2v1h-2zm43 0h1v1h-1zm-43 1h2v1h-2zm43 0h1v1h-1zm-43 1h2v1h-2zm43 0h1v1h-1zm-43 1h2v1h-2zm42 0h1v1h-1zm-42 1h2v1h-2zm42 0h1v1h-1zm-42 1h2v1h-2zm41 0h2v1h-2zm-41 1h2v1h-2zm41 0h1v1h-1zm-41 1h3v1h-3zm40 0h2v1h-2zm-39 1h2v1h-2zm39 0h1v1h-1zm-39 1h2v1h-2zm38 0h2v1h-2zm-37 1h2v1h-2zm37 0h1v1h-1zm-37 1h2v1h-2zm0 1h2v1h-2zm36 0h1v1h-1zm-35 1h2v1h-2zm0 1h2v1h-2zm34 0h1v1h-1zm-34 1h3v1h-3zm34 0h1v1h-1zm-33 1h2v1h-2zm32 0h1v1h-1zm-32 1h3v1h-3zm32 0h1v1h-1zm-32 1h3v1h-3zm31 0h1v1h-1zm-30 1h3v1h-3zm30 0h1v1h-1zm-30 1h3v1h-3zm29 0h1v1h-1z"/>
<path fill="#0000df" d="m16 0h2v1h-2zm31 0h1v1h-1zm-32 1h2v1h-2zm32 0h1v1h-1zm-33 1h2v1h-2zm33 0h1v1h-1zm-34 1h2v1h-2zm34 0h1v1h-1zm-34 1h1v1h-1zm34 0h1v1h-1zm-35 1h1v1h-1zm35 0h1v1h-1zm-36 1h2v1h-2zm36 0h1v1h-1zm-36 1h1v1h-1zm36 0h1v1h-1zm-37 1h1v1h-1zm37 0h1v1h-1zm-38 1h2v1h-2zm38 0h1v1h-1zm-39 1h2v1h-2zm39 0h1v1h-1zm-40 1h2v1h-2zm40 0h1v1h-1zm-40 1h1v1h-1zm40 0h1v1h-1zm-41 1h2v1h-2zm41 0h1v1h-1zm-41 1h1v1h-1zm41 0h1v1h-1zm-42 1h2v1h-2zm0 1h2v1h-2zm41 0h1v1h-1zm-41 1h1v1h-1zm41 0h1v1h-1zm-41 1h1v1h-1zm41 0h1v1h-1zm-41 1h1v1h-1zm0 1h1v1h-1zm40 0h1v1h-1zm-40 1h1v1h-1zm40 0h1v1h-1zm-40 1h1v1h-1zm39 0h1v1h-1zm-39 1h2v1h-2zm39 0h1v1h-1zm-39 1h2v1h-2zm38 0h1v1h-1zm-38 1h2v1h-2zm38 0h1v1h-1zm-37 1h1v1h-1zm0 1h2v1h-2zm36 0h1v1h-1zm-36 1h2v1h-2zm1 1h1v1h-1zm34 0h1v1h-1zm-34 1h2v1h-2zm34 0h1v1h-1zm-34 1h2v1h-2zm33 0h1v1h-1zm-32 1h2v1h-2zm32 0h1v1h-1zm-32 1h2v1h-2zm1 1h2v1h-2zm30 0h1v1h-1zm-30 1h3v1h-3zm1 1h2v1h-2zm28 0h1v1h-1zm-28 1h3v1h-3zm27 0h1v1h-1zm-26 1h2v1h-2zm26 0h1v1h-1zm-26 1h2v1h-2zm25 0h1v1h-1z"/>
<path fill="#0000f6" d="m18 0h2v1h-2zm28 0h1v1h-1zm-29 1h2v1h-2zm29 0h1v1h-1zm-30 1h2v1h-2zm30 0h1v1h-1zm-31 1h2v1h-2zm31 0h1v1h-1zm-32 1h2v1h-2zm32 0h1v1h-1zm-33 1h2v1h-2zm33 0h1v1h-1zm-33 1h1v1h-1zm33 0h1v1h-1zm-34 1h1v1h-1zm34 0h1v1h-1zm-35 1h1v1h-1zm35 0h1v1h-1zm-35 1h1v1h-1zm35 0h1v1h-1zm-36 1h1v1h-1zm36 0h1v1h-1zm-37 1h1v1h-1zm37 0h1v1h-1zm-38 1h2v1h-2zm38 0h1v1h-1zm-38 1h1v1h-1zm38 0h1v1h-1zm-39 1h2v1h-2zm39 0h1v1h-1zm-39 1h2v1h-2zm39 0h1v1h-1zm-39 1h1v1h-1zm-1 1h2v1h-2zm39 0h1v1h-1zm-39 1h2v1h-2zm39 0h1v1h-1zm-39 1h2v1h-2zm39 0h1v1h-1zm-39 1h2v1h-2zm38 0h1v1h-1zm-38 1h2v1h-2zm38 0h1v1h-1zm-38 1h2v1h-2zm1 1h1v1h-1zm36 0h1v1h-1zm-36 1h1v1h-1zm0 1h1v1h-1zm0 1h2v1h-2zm35 0h1v1h-1zm-34 1h1v1h-1zm0 1h1v1h-1zm33 0h1v1h-1zm-33 1h2v1h-2zm1 1h1v1h-1zm31 0h1v1h-1zm-31 1h2v1h-2zm1 1h2v1h-2zm29 0h1v1h-1zm-29 1h2v1h-2zm29 0h1v1h-1zm-28 1h2v1h-2zm27 0h1v1h-1zm-26 1h1v1h-1zm26 0h1v1h-1zm-26 1h2v1h-2zm25 0h1v1h-1zm-24 1h1v1h-1zm0 1h1v1h-1zm23 0h1v1h-1zm-23 1h2v1h-2zm22 0h1v1h-1z"/>
<path fill="#0000ff" d="m20 0h2v1h-2zm-1 1h2v1h-2zm-1 1h2v1h-2zm-1 1h2v1h-2zm-1 1h1v1h-1zm-1 1h1v1h-1zm-1 1h1v1h-1zm-1 1h1v1h-1zm-1 1h2v1h-2zm0 1h1v1h-1zm-1 1h1v1h-1zm-1 1h1v1h-1zm0 1h1v1h-1zm-1 1h1v1h-1zm0 1h1v1h-1zm0 1h1v1h-1zm36 0h1v1h-1zm-37 1h1v1h-1zm37 0h1v1h-1zm-37 1h1v1h-1zm0 1h1v1h-1zm0 1h1v1h-1zm36 0h1v1h-1zm-36 1h1v1h-1zm0 1h1v1h-1zm0 1h1v1h-1zm35 0h1v1h-1zm-35 1h1v1h-1zm0 1h1v1h-1zm0 1h1v1h-1zm34 0h1v1h-1zm-33 1h1v1h-1zm0 1h1v1h-1zm32 0h1v1h-1zm-32 1h2v1h-2zm1 1h1v1h-1zm30 0h1v1h-1zm-30 1h2v1h-2zm1 1h2v1h-2zm28 0h1v1h-1zm-27 1h1v1h-1zm0 1h2v1h-2zm26 0h1v1h-1zm-25 1h1v1h-1zm0 1h2v1h-2zm24 0h1v1h-1zm-23 1h1v1h-1zm22 0h1v1h-1zm-22 1h1v1h-1zm22 0h1v1h-1zm-22 1h2v1h-2zm21 0h1v1h-1zm-20 1h2v1h-2zm19 0h1v1h-1z"/>
<path fill="#0014ff" d="m22 0h1v1h-1zm23 0h1v1h-1zm-24 1h1v1h-1zm24 0h1v1h-1zm-25 1h1v1h-1zm25 0h1v1h-1zm-26 1h1v1h-1zm26 0h1v1h-1zm-28 1h2v1h-2zm-1 1h2v1h-2zm-1 1h2v1h-2zm-1 1h2v1h-2zm0 1h1v1h-1zm-1 1h1v1h-1zm-1 1h1v1h-1zm-1 1h1v1h-1zm0 1h1v1h-1zm34 0h1v1h-1zm-35 1h1v1h-1zm35 0h1v1h-1zm-35 1h1v1h-1zm35 0h1v1h-1zm-36 2h1v1h-1zm0 1h1v1h-1zm0 1h1v1h-1zm35 0h1v1h-1zm-35 1h1v1h-1zm0 2h1v1h-1zm34 0h1v1h-1zm-34 1h1v1h-1zm0 1h1v1h-1zm0 1h1v1h-1zm33 0h1v1h-1zm-33 1h2v1h-2zm1 1h1v1h-1zm31 0h1v1h-1zm-31 1h1v1h-1zm1 1h1v1h-1zm29 0h1v1h-1zm-29 1h2v1h-2zm1 1h1v1h-1zm27 0h1v1h-1zm-26 1h1v1h-1zm0 1h1v1h-1zm25 0h1v1h-1zm-24 1h1v1h-1zm0 1h1v1h-1zm23 0h1v1h-1zm-22 1h1v1h-1zm21 0h1v1h-1zm-21 1h1v1h-1zm20 0h1v1h-1zm-20 1h2v1h-2zm20 0h1v1h-1zm-19 1h2v1h-2zm18 0h1v1h-1zm-17 1h2v1h-2zm16 0h1v1h-1z"/>
<path fill="#0028ff" d="m44 0h1v1h-1zm-22 1h1v1h-1zm-1 1h1v1h-1zm-1 1h1v1h-1zm-1 1h1v1h-1zm26 0h1v1h-1zm-27 1h1v1h-1zm27 0h1v1h-1zm-28 1h1v1h-1zm28 0h1v1h-1zm-29 1h1v1h-1zm29 0h1v1h-1zm-30 1h1v1h-1zm30 0h1v1h-1zm-31 1h1v1h-1zm31 0h1v1h-1zm-32 1h1v1h-1zm32 0h1v1h-1zm-33 1h1v1h-1zm33 0h1v1h-1zm-33 1h1v1h-1zm-1 1h1v1h-1zm0 1h1v1h-1zm-1 1h1v1h-1zm0 1h1v1h-1zm34 0h1v1h-1zm-34 1h1v1h-1zm34 0h1v1h-1zm-35 3h1v1h-1zm34 0h1v1h-1zm-33 2h1v1h-1zm0 1h1v1h-1zm32 0h1v1h-1zm-32 1h1v1h-1zm1 1h1v1h-1zm0 1h1v1h-1zm0 1h2v1h-2zm1 1h1v1h-1zm1 1h1v1h-1zm0 1h1v1h-1zm1 1h1v1h-1zm24 0h1v1h-1zm-24 1h1v1h-1zm1 1h1v1h-1zm22 0h1v1h-1zm-22 1h1v1h-1zm21 0h1v1h-1zm-20 1h1v1h-1zm19 0h1v1h-1zm-19 1h2v1h-2zm18 0h1v1h-1zm-17 1h2v1h-2zm17 0h1v1h-1zm-16 1h2v1h-2zm14 0h2v1h-2zm-13 1h3v1h-3zm12 0h2v1h-2z"/>
<path fill="#0040ff" d="m23 0h2v1h-2zm21 1h1v1h-1zm0 1h1v1h-1zm-23 1h1v1h-1zm-1 1h1v1h-1zm-1 1h1v1h-1zm-1 1h1v1h-1zm-1 1h1v1h-1zm-1 1h1v1h-1zm-1 1h1v1h-1zm-1 1h1v1h-1zm-1 1h1v1h-1zm-1 2h1v1h-1zm-1 2h1v1h-1zm33 0h1v1h-1zm-33 1h1v1h-1zm-1 2h1v1h-1zm0 1h1v1h-1zm33 0h1v1h-1zm-33 1h1v1h-1zm0 1h1v1h-1zm32 1h1v1h-1zm-31 1h1v1h-1zm0 1h1v1h-1zm1 1h1v1h-1zm29 0h1v1h-1zm-29 1h1v1h-1zm1 1h1v1h-1zm27 0h1v1h-1zm-27 1h1v1h-1zm1 1h1v1h-1zm25 0h1v1h-1zm-25 1h1v1h-1zm24 0h1v1h-1zm-23 1h1v1h-1zm0 1h1v1h-1zm22 0h1v1h-1zm-21 1h1v1h-1zm20 0h1v1h-1zm-20 1h1v1h-1zm19 0h1v1h-1zm-18 1h1v1h-1zm17 0h1v1h-1zm-16 1h2v1h-2zm1 1h2v1h-2zm13 0h2v1h-2zm-12 1h3v1h-3zm11 0h1v1h-1zm-9 1h3v1h-3zm7 0h2v1h-2z"/>
<path fill="#0054ff" d="m25 0h1v1h-1zm18 0h1v1h-1zm-20 1h1v1h-1zm20 0h1v1h-1zm-21 1h1v1h-1zm22 1h1v1h-1zm-23 1h1v1h-1zm23 0h1v1h-1zm-24 1h1v1h-1zm24 0h1v1h-1zm-25 1h1v1h-1zm-1 1h1v1h-1zm-1 1h1v1h-1zm-1 1h1v1h-1zm-1 1h1v1h-1zm-1 1h1v1h-1zm-1 1h1v1h-1zm0 1h1v1h-1zm31 0h1v1h-1zm-32 1h1v1h-1zm32 0h1v1h-1zm-32 1h1v1h-1zm-1 2h1v1h-1zm0 1h1v1h-1zm32 0h1v1h-1zm-32 1h1v1h-1zm0 1h1v1h-1zm0 1h1v1h-1zm0 1h1v1h-1zm1 1h1v1h-1zm0 1h1v1h-1zm29 0h1v1h-1zm-28 1h1v1h-1zm0 1h1v1h-1zm27 0h1v1h-1zm-26 1h1v1h-1zm0 1h1v1h-1zm25 0h1v1h-1zm-24 1h1v1h-1zm0 1h1v1h-1zm22 1h1v1h-1zm-21 1h1v1h-1zm20 0h1v1h-1zm-19 1h1v1h-1zm0 1h2v1h-2zm1 1h2v1h-2zm2 1h2v1h-2zm12 0h2v1h-2zm-11 1h2v1h-2zm10 0h1v1h-1zm-8 1h3v1h-3zm5 0h3v1h-3zm-3 1h4v1h-4z"/>
<path fill="#0068ff" d="m26 0h1v1h-1zm16 0h1v1h-1zm-18 1h2v1h-2zm-1 1h1v1h-1zm20 0h1v1h-1zm-21 1h1v1h-1zm21 0h1v1h-1zm-23 3h1v1h-1zm24 0h1v1h-1zm-25 1h1v1h-1zm25 0h1v1h-1zm-26 1h1v1h-1zm26 0h1v1h-1zm-27 1h1v1h-1zm27 0h1v1h-1zm-28 1h1v1h-1zm28 0h1v1h-1zm-29 1h1v1h-1zm29 0h1v1h-1zm-30 1h1v1h-1zm30 0h1v1h-1zm-31 2h1v1h-1zm-1 2h1v1h-1zm0 1h1v1h-1zm0 1h1v1h-1zm0 1h1v1h-1zm0 1h1v1h-1zm0 1h1v1h-1zm30 0h1v1h-1zm-30 1h1v1h-1zm1 2h1v1h-1zm1 2h1v1h-1zm1 2h1v1h-1zm23 1h1v1h-1zm-22 1h1v1h-1zm0 1h1v1h-1zm1 1h1v1h-1zm1 1h1v1h-1zm17 0h1v1h-1zm-16 1h2v1h-2zm15 0h1v1h-1zm-14 1h2v1h-2zm12 0h2v1h-2zm-10 1h2v1h-2zm9 0h1v1h-1zm-8 1h4v1h-4zm5 0h3v1h-3zm-2 1h2v1h-2z"/>
<path fill="#0080ff" d="m27 0h2v1h-2zm14 0h1v1h-1zm-15 1h1v1h-1zm16 0h1v1h-1zm-18 1h1v1h-1zm18 0h1v1h-1zm-19 1h1v1h-1zm-1 1h1v1h-1zm21 0h1v1h-1zm-22 1h1v1h-1zm-4 5h1v1h-1zm-1 1h1v1h-1zm-1 1h1v1h-1zm-1 1h1v1h-1zm0 1h1v1h-1zm-1 1h1v1h-1zm0 1h1v1h-1zm0 1h1v1h-1zm30 0h1v1h-1zm-1 3h1v1h-1zm-29 1h1v1h-1zm0 1h1v1h-1zm0 1h1v1h-1zm28 0h1v1h-1zm-27 1h1v1h-1zm0 1h1v1h-1zm26 0h1v1h-1zm-25 1h1v1h-1zm0 1h1v1h-1zm24 0h1v1h-1zm-23 2h1v1h-1zm21 1h1v1h-1zm-20 1h1v1h-1zm19 0h1v1h-1zm-18 1h1v1h-1zm17 0h1v1h-1zm-16 1h2v1h-2zm15 0h1v1h-1zm-13 1h1v1h-1zm12 0h1v1h-1zm-11 1h2v1h-2zm9 0h1v1h-1zm-7 1h3v1h-3zm4 0h3v1h-3zm-1 1h1v1h-1z"/>
<path fill="#0094ff" d="m29 0h2v1h-2zm11 0h1v1h-1zm-13 1h2v1h-2zm14 0h1v1h-1zm-16 1h2v1h-2zm-1 1h1v1h-1zm18 0h1v1h-1zm-19 1h1v1h-1zm20 1h1v1h-1zm-22 1h1v1h-1zm22 0h1v1h-1zm-23 1h1v1h-1zm-1 1h1v1h-1zm-1 1h1v1h-1zm-2 3h1v1h-1zm-1 1h1v1h-1zm-1 2h1v1h-1zm29 0h1v1h-1zm-29 1h1v1h-1zm29 0h1v1h-1zm-30 2h1v1h-1zm0 1h1v1h-1zm0 1h1v1h-1zm1 2h1v1h-1zm27 0h1v1h-1zm-27 1h1v1h-1zm1 2h1v1h-1zm24 1h1v1h-1zm-23 2h1v1h-1zm22 0h1v1h-1zm-1 1h1v1h-1zm-20 1h1v1h-1zm19 0h1v1h-1zm-18 1h1v1h-1zm17 0h1v1h-1zm-16 1h2v1h-2zm15 0h1v1h-1zm-13 1h1v1h-1zm12 0h1v1h-1zm-11 1h2v1h-2zm9 0h2v1h-2zm-7 1h3v1h-3zm5 0h2v1h-2zm-2 1h1v1h-1z"/>
<path fill="#00a8ff" d="m31 0h1v1h-1zm8 0h1v1h-1zm-10 1h1v1h-1zm11 0h1v1h-1zm-13 1h1v1h-1zm14 0h1v1h-1zm-16 1h1v1h-1zm17 1h1v1h-1zm-20 1h1v1h-1zm21 2h1v1h-1zm0 1h1v1h-1zm-24 1h1v1h-1zm-1 1h1v1h-1zm-1 1h1v1h-1zm-1 2h1v1h-1zm-1 1h1v1h-1zm28 0h1v1h-1zm-28 1h1v1h-1zm-1 2h1v1h-1zm0 1h1v1h-1zm0 1h1v1h-1zm28 0h1v1h-1zm-28 1h1v1h-1zm0 1h1v1h-1zm1 2h1v1h-1zm0 1h1v1h-1zm25 0h1v1h-1zm-24 2h1v1h-1zm0 1h1v1h-1zm22 0h1v1h-1zm-21 2h1v1h-1zm1 1h1v1h-1zm1 1h2v1h-2zm2 1h1v1h-1zm1 1h2v1h-2zm10 0h1v1h-1zm-8 1h2v1h-2zm6 0h1v1h-1zm-3 1h2v1h-2z"/>
<path fill="#00c0ff" d="m32 0h3v1h-3zm5 0h2v1h-2zm-7 1h2v1h-2zm9 0h1v1h-1zm-11 1h1v1h-1zm12 0h1v1h-1zm-14 1h1v1h-1zm15 0h1v1h-1zm-17 1h1v1h-1zm-1 1h1v1h-1zm19 0h1v1h-1zm-20 1h1v1h-1zm-1 1h1v1h-1zm-1 1h1v1h-1zm23 1h1v1h-1zm0 1h1v1h-1zm-25 1h1v1h-1zm25 0h1v1h-1zm-26 1h1v1h-1zm26 0h1v1h-1zm0 1h1v1h-1zm-27 1h1v1h-1zm-1 2h1v1h-1zm0 1h1v1h-1zm0 1h1v1h-1zm27 0h1v1h-1zm-27 1h1v1h-1zm0 1h1v1h-1zm0 1h1v1h-1zm26 0h1v1h-1zm-26 1h1v1h-1zm25 1h1v1h-1zm-24 1h1v1h-1zm0 1h1v1h-1zm23 0h1v1h-1zm-22 3h1v1h-1zm20 0h1v1h-1zm-19 1h1v1h-1zm18 0h1v1h-1zm-17 1h2v1h-2zm16 0h1v1h-1zm-14 1h1v1h-1zm13 0h1v1h-1zm-12 1h2v1h-2zm11 0h1v1h-1zm-9 1h2v1h-2zm7 0h1v1h-1zm-5 1h4v1h-4z"/>
<path fill="#00d4ff" d="m35 0h2v1h-2zm-3 1h1v1h-1zm6 0h1v1h-1zm-9 1h2v1h-2zm10 0h1v1h-1zm-12 1h1v1h-1zm13 0h1v1h-1zm-15 1h2v1h-2zm16 0h1v1h-1zm-17 1h1v1h-1zm18 1h1v1h-1zm0 1h1v1h-1zm-22 2h1v1h-1zm-1 1h1v1h-1zm-2 3h1v1h-1zm-1 2h1v1h-1zm0 1h1v1h-1zm26 1h1v1h-1zm-26 6h1v1h-1zm1 3h1v1h-1zm21 0h1v1h-1zm-21 1h1v1h-1zm1 1h1v1h-1zm1 1h1v1h-1zm2 1h1v1h-1zm1 1h1v1h-1zm11 0h1v1h-1zm-9 1h1v1h-1zm7 0h2v1h-2zm-5 1h5v1h-5z"/>
<path fill="#02e8f4" d="m33 1h5v1h-5zm-2 1h1v1h-1zm7 0h1v1h-1zm-10 1h2v1h-2zm-1 1h1v1h-1zm-2 1h1v1h-1zm16 0h1v1h-1zm-18 1h1v1h-1zm-1 1h1v1h-1zm-1 1h1v1h-1zm21 0h1v1h-1zm-23 3h1v1h-1zm-1 1h1v1h-1zm-1 2h1v1h-1zm25 2h1v1h-1zm-26 1h1v1h-1zm0 1h1v1h-1zm0 1h1v1h-1zm0 1h1v1h-1zm25 0h1v1h-1zm-25 1h1v1h-1zm0 1h1v1h-1zm24 0h1v1h-1zm-1 2h1v1h-1zm-22 1h1v1h-1zm1 2h1v1h-1zm19 0h1v1h-1zm-18 1h1v1h-1zm17 0h1v1h-1zm-16 1h1v1h-1zm15 0h1v1h-1zm-13 1h1v1h-1zm12 0h1v1h-1zm-11 1h2v1h-2zm9 0h1v1h-1zm-7 1h2v1h-2zm5 0h1v1h-1z"/>
<path fill="#16ffe1" d="m32 2h2v1h-2zm5 0h1v1h-1zm-7 1h1v1h-1zm9 0h1v1h-1zm-11 1h1v1h-1zm12 0h1v1h-1zm-14 1h1v1h-1zm-2 1h1v1h-1zm17 0h1v1h-1zm1 3h1v1h-1zm-22 1h1v1h-1zm-2 3h1v1h-1zm-1 2h1v1h-1zm25 0h1v1h-1zm-25 1h1v1h-1zm24 3h1v1h-1zm-24 5h1v1h-1zm21 1h1v1h-1zm-20 1h1v1h-1zm1 1h1v1h-1zm1 1h1v1h-1zm1 1h1v1h-1zm2 1h1v1h-1zm10 0h1v1h-1zm-8 1h1v1h-1zm6 0h1v1h-1zm-4 1h3v1h-3z"/>
<path fill="#26ffd1" d="m34 2h3v1h-3zm-3 1h2v1h-2zm7 0h1v1h-1zm-9 1h1v1h-1zm10 0h1v1h-1zm-12 1h1v1h-1zm13 0h1v1h-1zm-15 1h1v1h-1zm-2 1h1v1h-1zm18 0h1v1h-1zm-19 1h1v1h-1zm-1 1h1v1h-1zm21 1h1v1h-1zm0 1h1v1h-1zm-23 1h1v1h-1zm23 0h1v1h-1zm0 1h1v1h-1zm-24 1h1v1h-1zm24 0h1v1h-1zm-25 3h1v1h-1zm0 1h1v1h-1zm23 3h1v1h-1zm-23 1h1v1h-1zm0 1h1v1h-1zm22 0h1v1h-1zm-21 2h1v1h-1zm19 1h1v1h-1zm-1 1h1v1h-1zm-15 1h1v1h-1zm14 0h1v1h-1zm-13 1h1v1h-1zm12 0h1v1h-1zm-10 1h1v1h-1zm8 0h1v1h-1zm-6 1h5v1h-5z"/>
<path fill="#36ffc1" d="m33 3h2v1h-2zm3 0h2v1h-2zm-6 1h1v1h-1zm8 0h1v1h-1zm-10 1h1v1h-1zm11 0h1v1h-1zm-13 1h1v1h-1zm14 0h1v1h-1zm-16 1h1v1h-1zm17 1h1v1h-1zm-21 3h1v1h-1zm-2 4h1v1h-1zm23 3h1v1h-1zm-24 1h1v1h-1zm0 1h1v1h-1zm0 1h1v1h-1zm1 3h1v1h-1zm20 0h1v1h-1zm-19 2h1v1h-1zm1 1h1v1h-1zm2 1h1v1h-1zm1 1h1v1h-1zm10 0h1v1h-1zm-8 1h2v1h-2zm6 0h1v1h-1z"/>
<path fill="#49ffad" d="m35 3h1v1h-1zm-4 1h2v1h-2zm6 0h1v1h-1zm-8 1h1v1h-1zm-2 1h1v1h-1zm-2 1h1v1h-1zm15 0h1v1h-1zm-17 1h1v1h-1zm-1 1h1v1h-1zm19 0h1v1h-1zm-20 1h1v1h-1zm-2 3h1v1h-1zm-1 3h1v1h-1zm23 1h1v1h-1zm-1 3h1v1h-1zm-1 2h1v1h-1zm-20 3h1v1h-1zm18 0h1v1h-1zm-17 1h1v1h-1zm16 0h1v1h-1zm-15 1h1v1h-1zm14 0h1v1h-1zm-12 1h1v1h-1zm11 0h1v1h-1zm-10 1h2v1h-2zm8 0h1v1h-1zm-5 1h4v1h-4z"/>
<path fill="#5aff9d" d="m33 4h4v1h-4zm-3 1h1v1h-1zm8 0h1v1h-1zm-10 1h1v1h-1zm11 0h1v1h-1zm-13 1h1v1h-1zm-2 1h1v1h-1zm17 2h1v1h-1zm-21 2h1v1h-1zm-1 2h1v1h-1zm22 2h1v1h-1zm-23 1h1v1h-1zm0 1h1v1h-1zm0 4h1v1h-1zm0 1h1v1h-1zm20 0h1v1h-1zm-19 1h1v1h-1zm1 1h1v1h-1zm1 1h1v1h-1zm1 1h1v1h-1zm2 1h1v1h-1zm9 0h1v1h-1zm-7 1h1v1h-1zm5 0h1v1h-1z"/>
<path fill="#6aff8d" d="m31 5h1v1h-1zm6 0h1v1h-1zm-8 1h1v1h-1zm-2 1h1v1h-1zm12 0h1v1h-1zm-14 1h1v1h-1zm15 0h1v1h-1zm-17 1h1v1h-1zm-1 1h1v1h-1zm-1 1h1v1h-1zm20 0h1v1h-1zm0 1h1v1h-1zm0 1h1v1h-1zm0 1h1v1h-1zm-22 1h1v1h-1zm22 0h1v1h-1zm-23 4h1v1h-1zm22 0h1v1h-1zm-22 1h1v1h-1zm0 1h1v1h-1zm21 0h1v1h-1zm-20 2h1v1h-1zm18 1h1v1h-1zm-15 2h1v1h-1zm1 1h1v1h-1zm11 0h1v1h-1zm-9 1h1v1h-1zm7 0h1v1h-1zm-5 1h4v1h-4z"/>
<path fill="#7dff7a" d="m32 5h2v1h-2zm3 0h2v1h-2zm-5 1h1v1h-1zm8 0h1v1h-1zm-12 2h1v1h-1zm-2 1h1v1h-1zm16 0h1v1h-1zm-20 4h1v1h-1zm-1 3h1v1h-1zm21 2h1v1h-1zm-21 4h1v1h-1zm1 2h1v1h-1zm1 1h1v1h-1zm15 0h1v1h-1zm-1 1h1v1h-1zm-11 1h1v1h-1zm2 1h1v1h-1z"/>
<path fill="#8dff6a" d="m34 5h1v1h-1zm-3 1h1v1h-1zm6 0h1v1h-1zm-9 1h1v1h-1zm10 0h1v1h-1zm1 1h1v1h-1zm-14 1h1v1h-1zm-2 1h1v1h-1zm17 0h1v1h-1zm-18 1h1v1h-1zm-1 1h1v1h-1zm-1 2h1v1h-1zm-1 3h1v1h-1zm21 0h1v1h-1zm-1 3h1v1h-1zm-20 1h1v1h-1zm19 1h1v1h-1zm-18 1h1v1h-1zm1 1h1v1h-1zm1 1h1v1h-1zm1 1h1v1h-1zm11 0h1v1h-1zm-9 1h1v1h-1zm8 0h1v1h-1zm-6 1h2v1h-2zm3 0h2v1h-2z"/>
<path fill="#9dff5a" d="m32 6h1v1h-1zm4 0h1v1h-1zm-7 1h1v1h-1zm-2 1h1v1h-1zm-3 2h1v1h-1zm16 1h1v1h-1zm0 1h1v1h-1zm-19 1h1v1h-1zm19 3h1v1h-1zm-21 2h1v1h-1zm0 1h1v1h-1zm0 1h1v1h-1zm18 3h1v1h-1zm-1 1h1v1h-1zm-1 1h1v1h-1zm-11 1h1v1h-1zm2 1h1v1h-1zm6 0h1v1h-1zm-3 1h1v1h-1z"/>
<path fill="#b1ff46" d="m33 6h3v1h-3zm-3 1h1v1h-1zm7 0h1v1h-1zm-9 1h1v1h-1zm10 0h1v1h-1zm-12 1h1v1h-1zm13 0h1v1h-1zm-16 2h1v1h-1zm-1 1h1v1h-1zm18 1h1v1h-1zm0 1h1v1h-1zm-20 1h1v1h-1zm20 0h1v1h-1zm-20 1h1v1h-1zm19 3h1v1h-1zm-19 2h1v1h-1zm18 0h1v1h-1zm-18 1h1v1h-1zm1 1h1v1h-1zm1 1h1v1h-1zm1 1h1v1h-1zm2 1h1v1h-1zm8 0h1v1h-1zm-6 1h2v1h-2zm4 0h1v1h-1z"/>
<path fill="#c1ff36" d="m31 7h1v1h-1zm5 0h1v1h-1zm-7 1h1v1h-1zm-2 1h1v1h-1zm-2 1h1v1h-1zm14 0h1v1h-1zm-15 1h1v1h-1zm-3 3h1v1h-1zm-1 3h1v1h-1zm0 1h1v1h-1zm19 0h1v1h-1zm-19 1h1v1h-1zm0 1h1v1h-1zm1 2h1v1h-1zm16 0h1v1h-1zm-15 1h1v1h-1zm1 1h1v1h-1zm1 1h1v1h-1zm10 0h1v1h-1zm-8 1h1v1h-1zm3 1h2v1h-2z"/>
<path fill="#d1ff26" d="m32 7h4v1h-4zm-2 1h1v1h-1zm7 0h1v1h-1zm1 1h1v1h-1zm-12 1h1v1h-1zm13 1h1v1h-1zm-16 1h1v1h-1zm-1 1h1v1h-1zm-1 2h1v1h-1zm18 2h1v1h-1zm-1 3h1v1h-1zm-17 1h1v1h-1zm15 2h1v1h-1zm-1 1h1v1h-1zm-10 1h1v1h-1zm2 1h1v1h-1zm5 0h1v1h-1z"/>
<path fill="#e4ff13" d="m31 8h1v1h-1zm5 0h1v1h-1zm-8 1h1v1h-1zm10 1h1v1h-1zm-13 1h1v1h-1zm-1 1h1v1h-1zm15 0h1v1h-1zm-16 1h1v1h-1zm-1 1h1v1h-1zm-1 2h1v1h-1zm18 0h1v1h-1zm-18 1h1v1h-1zm0 3h1v1h-1zm16 1h1v1h-1zm-15 1h1v1h-1zm1 1h1v1h-1zm1 1h1v1h-1zm2 1h1v1h-1zm7 0h1v1h-1zm-5 1h4v1h-4z"/>
<path fill="#f4f802" d="m32 8h1v1h-1zm3 0h1v1h-1zm-6 1h1v1h-1zm8 0h1v1h-1zm-10 1h1v1h-1zm12 3h1v1h-1zm0 1h1v1h-1zm-17 1h1v1h-1zm17 0h1v1h-1zm-18 3h1v1h-1zm0 1h1v1h-1zm17 0h1v1h-1zm-16 2h1v1h-1zm1 1h1v1h-1zm13 0h1v1h-1zm-1 1h1v1h-1zm-10 1h1v1h-1zm9 0h1v1h-1zm-7 1h1v1h-1zm5 0h1v1h-1z"/>
<path fill="#ffe600" d="m33 8h2v1h-2zm-3 1h1v1h-1zm6 0h1v1h-1zm-8 1h1v1h-1zm-2 1h1v1h-1zm12 0h1v1h-1zm-13 1h1v1h-1zm-1 1h1v1h-1zm-1 1h1v1h-1zm-1 2h1v1h-1zm0 1h1v1h-1zm16 1h1v1h-1zm-16 1h1v1h-1zm0 1h1v1h-1zm15 0h1v1h-1zm-13 3h1v1h-1zm2 1h1v1h-1zm2 1h1v1h-1zm3 0h1v1h-1z"/>
<path fill="#ffd000" d="m31 9h1v1h-1zm6 1h1v1h-1zm-10 1h1v1h-1zm11 1h1v1h-1zm-15 3h1v1h-1zm15 2h1v1h-1zm-16 1h1v1h-1zm1 3h1v1h-1zm1 1h1v1h-1zm1 1h1v1h-1zm8 1h1v1h-1zm-4 1h2v1h-2z"/>
<path fill="#ffbd00" d="m32 9h4v1h-4zm-3 1h1v1h-1zm7 0h1v1h-1zm1 1h1v1h-1zm-11 1h1v1h-1zm-1 1h1v1h-1zm13 0h1v1h-1zm-14 1h1v1h-1zm14 1h1v1h-1zm-15 1h1v1h-1zm15 0h1v1h-1zm-15 1h1v1h-1zm0 1h1v1h-1zm0 1h1v1h-1zm14 0h1v1h-1zm-14 1h1v1h-1zm13 1h1v1h-1zm-1 1h1v1h-1zm-9 1h1v1h-1zm8 0h1v1h-1zm-7 1h1v1h-1zm5 0h1v1h-1z"/>
<path fill="#ffab00" d="m30 10h1v1h-1zm-2 1h1v1h-1zm-1 1h1v1h-1zm11 2h1v1h-1zm-14 1h1v1h-1zm0 6h1v1h-1zm1 1h1v1h-1zm8 1h1v1h-1zm-5 1h2v1h-2zm3 0h1v1h-1z"/>
<path fill="#ff9400" d="m31 10h1v1h-1zm4 0h1v1h-1zm-6 1h1v1h-1zm7 0h1v1h-1zm1 1h1v1h-1zm-11 1h1v1h-1zm-1 1h1v1h-1zm-1 2h1v1h-1zm0 1h1v1h-1zm0 1h1v1h-1zm13 0h1v1h-1zm-13 1h1v1h-1zm0 1h1v1h-1zm12 0h1v1h-1zm-11 1h1v1h-1zm10 0h1v1h-1zm-9 1h1v1h-1zm8 0h1v1h-1zm-7 1h1v1h-1zm3 1h1v1h-1z"/>
<path fill="#ff8200" d="m32 10h3v1h-3zm-2 1h1v1h-1zm-2 1h1v1h-1zm-1 1h1v1h-1zm10 0h1v1h-1zm-11 1h1v1h-1zm11 0h1v1h-1zm-12 1h1v1h-1zm12 1h1v1h-1zm0 1h1v1h-1zm-1 2h1v1h-1zm-11 1h1v1h-1zm3 3h1v1h-1zm4 0h1v1h-1z"/>
<path fill="#ff6f00" d="m35 11h1v1h-1zm1 1h1v1h-1zm1 3h1v1h-1zm-12 1h1v1h-1zm0 1h1v1h-1zm0 1h1v1h-1zm0 1h1v1h-1zm10 1h1v1h-1zm-9 1h1v1h-1zm1 1h1v1h-1zm6 0h1v1h-1zm-4 1h3v1h-3z"/>
<path fill="#ff5900" d="m31 11h2v1h-2zm3 0h1v1h-1zm-5 1h1v1h-1zm-1 1h1v1h-1zm8 0h1v1h-1zm-9 1h1v1h-1zm-1 1h1v1h-1zm10 3h1v1h-1zm-10 2h1v1h-1zm1 1h1v1h-1zm7 0h1v1h-1zm-6 1h1v1h-1z"/>
<path fill="#ff4700" d="m33 11h1v1h-1zm-3 1h1v1h-1zm5 0h1v1h-1zm1 2h1v1h-1zm-9 1h1v1h-1zm-1 1h1v1h-1zm10 0h1v1h-1zm-10 1h1v1h-1zm10 0h1v1h-1zm-10 1h1v1h-1zm0 1h1v1h-1zm9 0h1v1h-1zm-6 3h1v1h-1zm2 0h2v1h-2z"/>
<path fill="#ff3400" d="m31 12h1v1h-1zm3 0h1v1h-1zm-5 1h1v1h-1zm6 0h1v1h-1zm-7 1h1v1h-1zm8 1h1v1h-1zm-9 1h1v1h-1zm8 2h1v1h-1zm-8 2h1v1h-1zm7 0h1v1h-1zm-6 1h1v1h-1zm5 0h1v1h-1zm-3 1h1v1h-1z"/>
<path fill="#ff1e00" d="m32 12h2v1h-2zm-2 1h1v1h-1zm-1 1h1v1h-1zm6 0h1v1h-1zm-7 1h1v1h-1zm-1 2h1v1h-1zm8 0h1v1h-1zm-8 1h1v1h-1zm0 1h1v1h-1zm7 0h1v1h-1zm-6 1h1v1h-1zm1 1h1v1h-1zm3 0h1v1h-1z"/>
<path fill="#f60b00" d="m31 13h1v1h-1zm3 0h1v1h-1zm1 2h1v1h-1zm-7 1h1v1h-1zm7 0h1v1h-1zm-7 1h1v1h-1zm0 1h1v1h-1zm0 1h1v1h-1zm1 1h1v1h-1zm4 0h1v1h-1zm-3 1h2v1h-2z"/>
<path fill="#df0000" d="m32 13h2v1h-2zm-2 1h1v1h-1zm4 0h1v1h-1zm-5 1h1v1h-1zm0 1h1v1h-1zm5 1h1v1h-1zm0 1h1v1h-1zm-5 1h1v1h-1zm4 0h1v1h-1zm-3 1h1v1h-1zm2 0h1v1h-1z"/>
<path fill="#c40000" d="m31 14h3v1h-3zm-1 1h1v1h-1zm4 0h1v1h-1zm0 1h1v1h-1zm-5 1h1v1h-1zm0 1h1v1h-1zm4 0h1v1h-1zm-3 1h1v1h-1zm2 0h1v1h-1zm-1 1h1v1h-1z"/>
<path fill="#ad0000" d="m31 15h1v1h-1zm2 0h1v1h-1zm-3 1h1v1h-1zm3 0h1v1h-1zm-3 1h1v1h-1zm3 0h1v1h-1zm-3 1h1v1h-1zm2 0h1v1h-1zm-1 1h1v1h-1z"/>
<path fill="#960000" d="m32 15h1v1h-1zm-1 1h2v1h-2zm0 1h2v1h-2zm0 1h1v1h-1z"/>
</g>
</g></g>
<g opacity="0.59">
<rect x="647.5" y="519.7" width="332.5" height="282" fill="#000"/>
<g transform="translate(647.5,518.44) scale(2.3736,2.3970)" shape-rendering="crispEdges">
<path fill="#303030" d="m45 0h6v1h-6zm27 0h5v2h-5zm-26 1h5v2h-5zm27 1h4v2h-4zm-26 1h4v3h-4zm27 1h3v1h-3zm0 1h2v1h-2zm-26 1h3v1h-3zm27 0h1v1h-1zm-27 1h2v1h-2zm1 1h1v1h-1zm25 1h4v1h-4zm-1 1h5v3h-5zm1 3h4v4h-4zm-12 1h3v1h-3zm0 1h4v1h-4zm1 1h4v1h-4zm0 1h7v1h-7zm10 0h5v2h-5zm-9 1h7v1h-7zm0 1h13v1h-13zm1 1h12v1h-12zm1 1h10v1h-10zm1 1h9v2h-9zm1 2h9v3h-9zm0 3h10v1h-10zm-1 1h10v2h-10zm1 2h8v2h-8zm0 2h9v4h-9zm0 4h8v2h-8zm0 2h9v1h-9zm18 0h2v1h-2zm-17 1h9v1h-9zm18 0h1v1h-1zm-19 1h10v2h-10zm0 2h11v1h-11zm0 1h12v3h-12zm22 2h1v1h-1zm-21 1h9v1h-9zm20 0h4v1h-4zm-21 1h9v5h-9zm22 0h3v1h-3zm-22 5h8v1h-8zm0 1h7v1h-7zm-1 1h8v1h-8zm0 1h7v1h-7zm-1 1h8v2h-8zm0 2h7v1h-7zm0 1h6v1h-6zm30 0h2v2h-2zm-31 1h7v1h-7zm1 1h5v1h-5zm0 1h4v1h-4zm-1 1h5v1h-5zm-1 1h6v1h-6zm-1 1h7v2h-7zm1 2h3v1h-3zm33 1h1v1h-1zm-34 1h4v1h-4zm34 0h2v1h-2zm-35 1h6v2h-6zm34 0h3v2h-3zm-35 2h7v1h-7zm36 0h2v1h-2zm-34 1h1v1h-1zm-3 2h5v1h-5zm0 1h6v3h-6zm37 0h1v1h-1zm0 1h2v1h-2zm-1 1h4v4h-4zm-35 1h4v1h-4zm-2 3h5v2h-5zm-1 2h6v2h-6zm41 0h1v1h-1zm0 1h2v1h-2zm-40 1h3v1h-3zm39 0h4v1h-4zm-1 1h5v4h-5zm-39 2h4v1h-4zm-1 1h5v3h-5zm41 1h4v10h-4zm-41 2h4v1h-4zm0 4h5v3h-5zm0 3h4v1h-4zm42 1h2v2h-2zm-42 4h3v1h-3zm-1 1h4v2h-4zm1 7h1v1h-1zm-1 1h3v1h-3zm-1 1h4v2h-4zm1 2h3v1h-3z"/>
<path fill="#7d7d7d" d="m0 5h41v4h-41zm0 4h42v6h-42zm0 6h44v3h-44zm0 3h45v3h-45zm10 3h36v1h-36zm2 1h34v1h-34zm1 1h33v1h-33zm1 1h32v1h-32zm1 1h32v1h-32zm1 1h31v1h-31zm1 1h30v2h-30zm1 2h30v3h-30zm1 3h29v5h-29zm0 5h28v2h-28zm1 2h27v1h-27zm-1 1h28v7h-28zm-1 7h29v4h-29zm-1 4h29v3h-29zm-1 3h30v3h-30zm-1 3h31v1h-31zm0 1h30v1h-30zm-1 1h31v2h-31zm-1 2h32v2h-32zm-1 2h33v1h-33zm0 1h32v1h-32zm-1 1h33v2h-33zm-1 2h34v2h-34zm-1 2h34v1h-34zm-9 1h43v3h-43zm0 3h42v6h-42zm0 6h41v1h-41zm0 1h42v1h-42zm0 1h41v9h-41zm0 9h40v3h-40zm0 3h41v1h-41zm0 1h40v1h-40zm0 1h41v9h-41zm0 9h40v2h-40zm0 2h39v1h-39zm0 1h38v1h-38zm0 1h37v1h-37z"/>
<path fill="#bbbbbb" d="m43 0h2v1h-2zm8 0h21v2h-21zm26 0h16v5h-16zm-34 1h3v2h-3zm8 1h22v2h-22zm-8 1h4v3h-4zm8 1h23v2h-23zm25 1h17v2h-17zm-33 1h5v2h-5zm8 0h24v1h-24zm-1 1h43v2h-43zm-5 1h4v1h-4zm0 1h29v1h-29zm33 0h15v10h-15zm-33 1h28v3h-28zm0 3h29v1h-29zm0 1h17v1h-17zm20 0h9v1h-9zm-18 1h15v1h-15zm19 0h8v1h-8zm-19 1h16v2h-16zm20 0h7v1h-7zm3 1h3v1h-3zm-23 1h17v2h-17zm24 0h2v1h-2zm6 1h16v2h-16zm-29 1h17v1h-17zm0 1h18v1h-18zm28 0h17v3h-17zm-28 1h19v2h-19zm0 2h20v2h-20zm29 0h16v3h-16zm-28 2h19v2h-19zm29 1h15v1h-15zm-29 1h18v2h-18zm28 0h17v2h-17zm-28 2h19v1h-19zm27 0h18v2h-18zm-28 1h20v2h-20zm29 1h17v1h-17zm-28 1h19v3h-19zm28 0h18v3h-18zm-29 3h20v3h-20zm28 0h19v2h-19zm1 2h9v1h-9zm11 0h8v2h-8zm-40 1h21v1h-21zm30 0h9v1h-9zm-31 1h21v1h-21zm31 0h18v2h-18zm-30 1h20v3h-20zm31 1h17v1h-17zm1 1h17v2h-17zm-33 1h21v1h-21zm1 1h20v1h-20zm32 0h10v1h-10zm11 0h6v1h-6zm-43 1h21v1h-21zm30 0h11v1h-11zm15 0h4v2h-4zm-45 1h20v1h-20zm29 0h13v1h-13zm-30 1h21v2h-21zm30 0h21v4h-21zm-29 2h20v1h-20zm-1 1h21v1h-21zm-1 1h22v2h-22zm30 0h22v1h-22zm-1 1h24v2h-24zm-28 1h20v2h-20zm27 1h25v2h-25zm-28 1h20v4h-20zm28 1h26v1h-26zm-1 1h27v1h-27zm-1 1h24v2h-24zm26 0h2v2h-2zm-52 1h19v1h-19zm0 1h20v1h-20zm25 0h29v1h-29zm-26 1h21v1h-21zm25 0h30v1h-30zm-24 1h19v1h-19zm24 0h31v4h-31zm-24 1h18v1h-18zm-1 1h18v1h-18zm-1 1h19v1h-19zm1 1h19v1h-19zm22 0h34v1h-34zm-22 1h52v1h-52zm53 0h3v1h-3zm-53 1h18v1h-18zm22 0h30v1h-30zm32 0h2v1h-2zm-55 1h18v1h-18zm24 0h28v2h-28zm31 0h3v3h-3zm-56 1h19v1h-19zm1 1h17v1h-17zm24 0h29v1h-29zm-24 1h19v1h-19zm20 0h38v1h-38zm-21 1h59v1h-59zm-1 1h18v1h-18zm23 0h37v1h-37zm-22 1h17v3h-17zm23 0h31v2h-31zm32 0h4v1h-4zm1 1h3v1h-3zm-33 1h30v1h-30zm34 0h2v1h-2zm-57 1h18v1h-18zm22 0h31v1h-31zm35 0h3v3h-3zm-58 1h54v2h-54zm0 2h17v2h-17zm22 0h39v2h-39zm-23 2h17v1h-17zm23 0h35v2h-35zm36 0h3v1h-3zm-58 1h16v1h-16zm59 0h2v1h-2zm-59 1h17v1h-17zm20 0h36v1h-36zm40 0h1v6h-1zm-60 1h55v2h-55zm-1 2h17v1h-17zm21 0h35v2h-35zm-20 1h15v2h-15zm20 1h36v2h-36zm-21 1h16v2h-16zm61 0h2v9h-2zm-41 1h37v1h-37zm-20 1h57v3h-57zm0 3h16v4h-16zm21 0h36v3h-36zm-1 3h37v1h-37zm-20 1h58v2h-58zm60 0h3v2h-3zm-60 2h63v2h-63zm0 2h16v1h-16zm19 0h44v3h-44zm-19 1h15v2h-15zm0 2h63v5h-63zm0 5h16v1h-16zm17 0h46v1h-46zm-17 1h15v1h-15zm18 0h45v4h-45zm-18 1h14v2h-14zm0 2h15v1h-15z"/>
<path fill="#ebebeb" d="m0 0h43v1h-43zm93 0h11v1h-11z"/>
<path fill="#ffffff" d="m104 0h24v6h-24zm0 6h5v7h-5zm7 0h13v1h-13zm0 1h15v3h-15zm0 3h16v3h-16zm-7 3h23v2h-23zm0 2h5v4h-5zm7 0h16v2h-16zm0 2h11v2h-11zm12 0h4v3h-4zm-19 2h18v1h-18zm0 1h23v1h-23zm0 1h5v8h-5zm7 0h16v3h-16zm0 3h17v2h-17zm0 2h16v3h-16zm-7 3h23v6h-23zm0 6h24v2h-24zm0 2h5v5h-5zm6 0h17v5h-17zm-6 5h23v2h-23zm0 2h5v5h-5zm7 0h16v5h-16zm-7 5h24v1h-24zm0 1h5v5h-5zm6 0h18v5h-18zm-6 5h24v2h-24zm0 2h5v22h-5zm7 0h17v7h-17zm1 7h16v15h-16zm-8 15h24v3h-24zm0 3h5v15h-5zm8 0h16v12h-16zm3 12h4v1h-4zm6 0h7v1h-7zm-5 1h12v2h-12zm-12 2h24v2h-24zm0 2h5v12h-5zm19 0h5v12h-5zm-19 12h24v2h-24zm0 2h5v5h-5zm19 0h5v5h-5z"/>
</g>
</g>
<path fill="none" stroke="#f01818" stroke-width="1.0" stroke-linejoin="round" d="M794.1 552.5L800.8 552.5L804.9 557.5L813.3 560L818.3 565.8L821.6 561.7L823.2 555L821.6 546.7L823.2 540L831.6 540L833.2 545L831.6 555L831.6 565L826.6 571.6L830.7 578.3L831.6 586.6L828.3 593.3L830.7 601.6L828.3 608.3L831.6 613.3L833.2 619.9L837.4 623.3L836.6 628.3L831.6 629.9L830.7 638.3L828.3 644.9L824.1 649.9L821.6 658.3L818.3 663.3L814.1 669.9L814.9 674.9L812.4 679.9L806.6 680.7L799.9 681.6L797.9 676.6L799.9 671.6L804.9 669.9L803.3 663.3L804.9 656.6L807.4 649.9L809.9 644.9L809.1 636.6L810.8 629.9L809.1 621.6L810.8 613.3L808.6 605L809.9 596.6L808.3 588.3L809.1 580L806.6 573.3L803.3 568.3L799.1 563.3L796.6 558.3Z"/>
<path fill="none" stroke="#f01818" stroke-width="1.0" stroke-linejoin="round" d="M796.6 684.9L804.9 684.1L809.9 689.9L806.6 694.1L798.3 694.9L793.3 692.4Z"/>
<path fill="none" stroke="#f01818" stroke-width="1.0" stroke-linejoin="round" d="M791.6 699.9L800.8 698.2L804.9 704.9L801.6 709.9L792.4 710.7L789.6 706.6Z"/>
<path fill="none" stroke="#f01818" stroke-width="1.0" stroke-linejoin="round" d="M788.3 716.6L796.6 714.1L800.8 719.9L798.3 725.7L789.1 726.5L785.8 723.2Z"/>
<path fill="none" stroke="#f01818" stroke-width="1.0" stroke-linejoin="round" d="M784.9 732.4L793.3 731.5L795.8 738.2L792.4 744L784.9 744.9L782.4 739Z"/>
<path fill="none" stroke="#f01818" stroke-width="1.0" stroke-linejoin="round" d="M784.1 751.5L794.1 750.7L795.8 755.7L791.6 760.7L784.1 760.7L782.4 756.5Z"/>
<path fill="none" stroke="#f01818" stroke-width="1.0" stroke-linejoin="round" d="M785.8 769L789.9 771.5L789.1 778.2L783.3 779L781.3 774.9Z"/>
<path fill="none" stroke="#f01818" stroke-width="1.0" stroke-linejoin="round" d="M784.1 789L787.4 792.3L786.6 803.2L780.8 803.2L779.1 796.5Z"/>
<path fill="none" stroke="#f01818" stroke-width="1.0" stroke-linejoin="round" d="M755.8 520L767.5 520L769.1 533.3L765 540L761.6 536.7L759.1 528.3Z"/>
<path fill="none" stroke="#f01818" stroke-width="1.0" stroke-linejoin="round" d="M819.1 520L829.1 520L829.1 530L826.6 535L823.2 531.7Z"/>
<path fill="none" stroke="#f01818" stroke-width="1.0" stroke-linejoin="round" d="M854.9 608.6L857.6 611.6L854.9 614.6L852.2 611.6Z"/>
<path fill="none" stroke="#f01818" stroke-width="1.0" stroke-linejoin="round" d="M861.6 627.4L866.6 628.3L869.1 632.4L865.7 634.9L861.6 633.6L860.2 630.3Z"/>
<path fill="none" stroke="#f01818" stroke-width="1.0" stroke-linejoin="round" d="M878.2 658.3L880.7 662.4L878.2 666.9L875.7 662.4Z"/>
<path fill="none" stroke="#f01818" stroke-width="1.0" stroke-linejoin="round" d="M879.9 682.4L883.2 687.4L881.6 692.9L877.4 692.4L876.2 687.4Z"/>
<path fill="none" stroke="#f01818" stroke-width="1.0" stroke-linejoin="round" d="M879.9 701.6L884.1 704.9L884.1 714.9L876.5 715.7L875.7 706.6Z"/>
<path fill="none" stroke="#f01818" stroke-width="1.0" stroke-linejoin="round" d="M884.1 721.6L889 724.9L889.9 746.5L888.2 763.2L884.9 766.5L881.6 761.5L879.9 746.5L879 728.2Z"/>
<path fill="none" stroke="#f01818" stroke-width="1.0" stroke-linejoin="round" d="M774.1 779L776.6 781.5L774.1 784L771.6 781.5Z"/>
<path fill="none" stroke="#f01818" stroke-width="1.0" stroke-linejoin="round" d="M779.1 779L781.6 781.5L779.1 784L776.6 781.5Z"/>
<path fill="none" stroke="#141414" stroke-width="1.5" stroke-linejoin="round" d="M763.3 575L768.3 570.8L776.6 573.3L786.6 580L796.6 591.6L803.3 603.3L804.9 613.3L801.6 629.9L796.6 643.3L789.9 656.6L781.6 671.6L775 683.2L769.1 689.6L763.3 686.6L757.5 678.2L755 671.6L755.8 656.6L758.3 638.3L760 619.9L761.6 600L762.5 585Z"/>
<rect x="647.5" y="519.7" width="332.5" height="2.6" fill="#ededed"/>
</g>
<text class="tg" transform="scale(0.8742,1)" x="759.39" y="770.8" font-size="30.86" fill="#fff">SARRP</text>
<rect x="647.5" y="519.7" width="332.5" height="282" fill="none" stroke="#000" stroke-width="1.25"/>
<path d="M647.5 801.7v3.6M694.97 801.7v3.6M742.44 801.7v3.6M789.91 801.7v3.6M837.39 801.7v3.6M884.86 801.7v3.6M932.33 801.7v3.6M979.8 801.7v3.6M647.5 533.3h-3.6M647.5 581.24h-3.6M647.5 629.18h-3.6M647.5 677.12h-3.6M647.5 725.06h-3.6M647.5 773h-3.6M1016.2 507.9h3.4M1016.2 569.4h3.4M1016.2 630.9h3.4M1016.2 692.4h3.4M1016.2 753.9h3.4" stroke="#000" stroke-width="1.1" fill="none"/>
<text class="dv" x="623.23" y="825" font-size="23">−15</text>
<text class="dv" x="670.7" y="825" font-size="23">−10</text>
<text class="dv" x="725.49" y="825" font-size="23">−5</text>
<text class="dv" x="782.6" y="825" font-size="23">0</text>
<text class="dv" x="830.07" y="825" font-size="23">5</text>
<text class="dv" x="870.22" y="825" font-size="23">10</text>
<text class="dv" x="917.69" y="825" font-size="23">15</text>
<text class="dv" x="965.17" y="825" font-size="23">20</text>
<text class="dv" x="609.78" y="541.81" font-size="23">10</text>
<text class="dv" x="624.85" y="589.75" font-size="23">5</text>
<text class="dv" x="624.39" y="637.69" font-size="23">0</text>
<text class="dv" x="605.53" y="685.63" font-size="23">−5</text>
<text class="dv" x="590.47" y="733.57" font-size="23">−10</text>
<text class="dv" x="590.92" y="781.51" font-size="23">−15</text>
<text class="dv" x="680.48" y="513.7" font-size="23.33">Simulated PET Activity</text>
<text class="dv" x="740.94" y="850.8" font-size="23.62">Depth [mm]</text>
<text class="dv" transform="translate(582.5,770.64) rotate(-90)" font-size="23.71">Vertical Axis [mm]</text>
<rect x="1000.3" y="507.7" width="15.9" height="305.6" fill="url(#jet)" stroke="#1a0a0a" stroke-opacity=".75" stroke-width="1"/>
<text class="dv" x="1021.69" y="515.27" font-size="18.3">1.0</text>
<text class="dv" x="1022.51" y="576.77" font-size="18.3">0.8</text>
<text class="dv" x="1022.51" y="638.27" font-size="18.3">0.6</text>
<text class="dv" x="1022.51" y="699.77" font-size="18.3">0.4</text>
<text class="dv" x="1022.51" y="761.27" font-size="18.3">0.2</text>
<text class="dv" transform="translate(1068.7,780.62) rotate(-90)" font-size="18.8">Normalized Activity [a.u.]</text>
<text class="lb" transform="scale(0.7550,1)" x="745.3" y="519.5" font-size="38.4">E</text>
</g>
<g id="panelF">
<clipPath id="axF"><rect x="1195.5" y="512.5" width="342.7" height="288"/></clipPath>
<clipPath id="htF"><rect x="1210.5" y="547.9" width="293.8" height="195.4"/></clipPath>
<g clip-path="url(#axF)">
<g clip-path="url(#htF)">
<rect x="1201.5" y="538.9" width="311.8" height="213.4" fill="#0000f1"/>
<g filter="url(#bl)">
<g transform="translate(1210.48,547.87) scale(4.8973,4.8853)">
<path fill="#0000ad" d="m0 0h1v1h-1zm54 0h6v1h-6zm0 1h6v1h-6zm1 1h5v1h-5zm0 1h5v1h-5zm1 1h4v1h-4zm0 1h4v1h-4zm1 1h3v1h-3zm0 1h3v1h-3zm1 1h2v1h-2zm0 1h2v1h-2zm0 1h2v1h-2zm0 1h2v1h-2zm1 1h1v1h-1zm0 1h1v1h-1zm0 1h1v1h-1zm0 1h1v1h-1zm0 1h1v1h-1zm0 1h1v1h-1zm0 1h1v1h-1zm0 1h1v1h-1zm0 1h1v1h-1zm0 1h1v1h-1zm0 1h1v1h-1zm0 1h1v1h-1zm0 1h1v1h-1zm-1 1h2v1h-2zm0 1h2v1h-2zm0 1h2v1h-2zm-1 1h3v1h-3zm0 1h3v1h-3zm0 1h3v1h-3zm-1 1h4v1h-4zm0 1h4v1h-4zm-1 1h5v1h-5zm0 1h5v1h-5zm-1 1h6v1h-6zm-54 1h1v1h-1zm53 0h7v1h-7zm-53 1h2v1h-2zm53 0h7v1h-7zm-53 1h3v1h-3zm52 0h8v1h-8zm-52 1h4v1h-4zm51 0h9v1h-9z"/>
<path fill="#0000c8" d="m1 0h6v1h-6zm47 0h6v1h-6zm-48 1h6v1h-6zm49 0h5v1h-5zm-49 1h5v1h-5zm50 0h5v1h-5zm-50 1h4v1h-4zm51 0h4v1h-4zm-51 1h3v1h-3zm51 0h5v1h-5zm-51 1h3v1h-3zm52 0h4v1h-4zm-52 1h2v1h-2zm52 0h5v1h-5zm-52 1h2v1h-2zm53 0h4v1h-4zm-53 1h1v1h-1zm53 0h5v1h-5zm-53 1h1v1h-1zm54 0h4v1h-4zm0 1h4v1h-4zm0 1h4v1h-4zm0 1h5v1h-5zm1 1h4v1h-4zm0 1h4v1h-4zm0 1h4v1h-4zm0 1h4v1h-4zm0 1h4v1h-4zm0 1h4v1h-4zm0 1h4v1h-4zm0 1h4v1h-4zm0 1h4v1h-4zm0 1h4v1h-4zm-1 1h5v1h-5zm0 1h5v1h-5zm0 1h4v1h-4zm-54 1h1v1h-1zm54 0h4v1h-4zm-54 1h1v1h-1zm53 0h5v1h-5zm-53 1h1v1h-1zm53 0h4v1h-4zm-53 1h2v1h-2zm53 0h4v1h-4zm-53 1h2v1h-2zm52 0h5v1h-5zm-52 1h3v1h-3zm52 0h4v1h-4zm-52 1h4v1h-4zm51 0h5v1h-5zm-51 1h4v1h-4zm50 0h5v1h-5zm-50 1h5v1h-5zm50 0h5v1h-5zm-50 1h6v1h-6zm49 0h5v1h-5zm-48 1h6v1h-6zm47 0h5v1h-5zm-46 1h6v1h-6zm45 0h6v1h-6zm-44 1h6v1h-6zm43 0h6v1h-6zm-42 1h7v1h-7zm41 0h6v1h-6z"/>
<path fill="#0000df" d="m7 0h3v1h-3zm38 0h3v1h-3zm-39 1h3v1h-3zm40 0h3v1h-3zm-41 1h3v1h-3zm42 0h3v1h-3zm-43 1h3v1h-3zm44 0h3v1h-3zm-45 1h3v1h-3zm46 0h2v1h-2zm-46 1h2v1h-2zm46 0h3v1h-3zm-47 1h3v1h-3zm48 0h2v1h-2zm-48 1h2v1h-2zm49 0h2v1h-2zm-50 1h3v1h-3zm50 0h2v1h-2zm-50 1h2v1h-2zm50 0h3v1h-3zm-51 1h3v1h-3zm52 0h2v1h-2zm-52 1h2v1h-2zm52 0h2v1h-2zm-52 1h2v1h-2zm52 0h2v1h-2zm-52 1h2v1h-2zm53 0h2v1h-2zm-53 1h2v1h-2zm53 0h2v1h-2zm-53 1h1v1h-1zm53 0h2v1h-2zm-53 1h1v1h-1zm53 0h2v1h-2zm-53 1h1v1h-1zm53 0h2v1h-2zm-53 1h1v1h-1zm53 0h2v1h-2zm-53 1h1v1h-1zm53 0h2v1h-2zm-53 1h1v1h-1zm53 0h2v1h-2zm-53 1h2v1h-2zm53 0h2v1h-2zm-53 1h2v1h-2zm53 0h2v1h-2zm-53 1h2v1h-2zm52 0h2v1h-2zm-52 1h2v1h-2zm52 0h2v1h-2zm-52 1h3v1h-3zm52 0h2v1h-2zm-51 1h2v1h-2zm51 0h2v1h-2zm-51 1h2v1h-2zm50 0h2v1h-2zm-50 1h3v1h-3zm50 0h2v1h-2zm-49 1h2v1h-2zm48 0h3v1h-3zm-48 1h3v1h-3zm48 0h2v1h-2zm-47 1h3v1h-3zm46 0h3v1h-3zm-45 1h2v1h-2zm45 0h2v1h-2zm-45 1h3v1h-3zm44 0h2v1h-2zm-43 1h3v1h-3zm42 0h3v1h-3zm-41 1h3v1h-3zm40 0h3v1h-3zm-39 1h3v1h-3zm38 0h3v1h-3zm-37 1h3v1h-3zm36 0h3v1h-3zm-35 1h4v1h-4zm34 0h3v1h-3zm-32 1h3v1h-3zm30 0h4v1h-4z"/>
<path fill="#0000f6" d="m10 0h2v1h-2zm33 0h2v1h-2zm-34 1h2v1h-2zm36 0h1v1h-1zm-37 1h2v1h-2zm38 0h1v1h-1zm-39 1h2v1h-2zm39 0h2v1h-2zm-40 1h2v1h-2zm41 0h2v1h-2zm-42 1h2v1h-2zm43 0h1v1h-1zm-43 1h1v1h-1zm44 0h1v1h-1zm-45 1h2v1h-2zm45 0h2v1h-2zm-45 1h1v1h-1zm46 0h1v1h-1zm-47 1h2v1h-2zm47 0h1v1h-1zm-47 1h1v1h-1zm47 0h2v1h-2zm-48 1h2v1h-2zm49 0h1v1h-1zm-49 1h2v1h-2zm49 0h1v1h-1zm-49 1h1v1h-1zm49 0h2v1h-2zm-49 1h1v1h-1zm49 0h2v1h-2zm-50 1h2v1h-2zm50 0h2v1h-2zm-50 1h2v1h-2zm51 0h1v1h-1zm-51 1h2v1h-2zm51 0h1v1h-1zm-51 1h2v1h-2zm51 0h1v1h-1zm-51 1h2v1h-2zm51 0h1v1h-1zm-51 1h2v1h-2zm51 0h1v1h-1zm-50 1h1v1h-1zm49 0h2v1h-2zm-49 1h1v1h-1zm49 0h2v1h-2zm-49 1h2v1h-2zm49 0h1v1h-1zm-49 1h2v1h-2zm49 0h1v1h-1zm-48 1h1v1h-1zm47 0h2v1h-2zm-47 1h2v1h-2zm47 0h2v1h-2zm-47 1h2v1h-2zm47 0h1v1h-1zm-46 1h2v1h-2zm45 0h2v1h-2zm-45 1h2v1h-2zm45 0h1v1h-1zm-44 1h2v1h-2zm43 0h2v1h-2zm-42 1h1v1h-1zm42 0h1v1h-1zm-42 1h2v1h-2zm41 0h2v1h-2zm-40 1h2v1h-2zm39 0h2v1h-2zm-38 1h2v1h-2zm37 0h2v1h-2zm-36 1h2v1h-2zm35 0h2v1h-2zm-34 1h2v1h-2zm33 0h2v1h-2zm-32 1h3v1h-3zm31 0h2v1h-2zm-29 1h3v1h-3zm27 0h3v1h-3zm-26 1h4v1h-4zm24 0h3v1h-3z"/>
<path fill="#0000ff" d="m12 0h2v1h-2zm30 0h1v1h-1zm-31 1h2v1h-2zm32 0h2v1h-2zm-33 1h1v1h-1zm34 0h2v1h-2zm-35 1h1v1h-1zm36 0h1v1h-1zm-37 1h1v1h-1zm38 0h1v1h-1zm-39 1h2v1h-2zm40 0h1v1h-1zm-41 1h2v1h-2zm41 0h2v1h-2zm-41 1h1v1h-1zm42 0h1v1h-1zm-43 1h2v1h-2zm43 0h2v1h-2zm-43 1h1v1h-1zm44 0h1v1h-1zm-45 1h2v1h-2zm45 0h1v1h-1zm-45 1h1v1h-1zm46 0h1v1h-1zm-46 1h1v1h-1zm46 0h1v1h-1zm-47 1h2v1h-2zm47 0h1v1h-1zm-47 1h1v1h-1zm47 0h1v1h-1zm-47 1h1v1h-1zm47 0h1v1h-1zm-47 1h1v1h-1zm48 0h1v1h-1zm-48 1h1v1h-1zm48 0h1v1h-1zm-48 1h1v1h-1zm48 0h1v1h-1zm-48 1h1v1h-1zm48 0h1v1h-1zm-48 1h1v1h-1zm47 0h2v1h-2zm-47 1h1v1h-1zm47 0h1v1h-1zm-47 1h2v1h-2zm47 0h1v1h-1zm-46 1h1v1h-1zm46 0h1v1h-1zm-46 1h1v1h-1zm46 0h1v1h-1zm-46 1h1v1h-1zm45 0h1v1h-1zm-44 1h1v1h-1zm44 0h1v1h-1zm-44 1h1v1h-1zm44 0h1v1h-1zm-43 1h1v1h-1zm42 0h1v1h-1zm-42 1h1v1h-1zm42 0h1v1h-1zm-41 1h1v1h-1zm40 0h1v1h-1zm-40 1h2v1h-2zm39 0h2v1h-2zm-38 1h2v1h-2zm38 0h1v1h-1zm-37 1h2v1h-2zm36 0h1v1h-1zm-35 1h2v1h-2zm34 0h1v1h-1zm-33 1h2v1h-2zm32 0h1v1h-1zm-31 1h3v1h-3zm29 0h2v1h-2zm-27 1h2v1h-2zm26 0h2v1h-2zm-24 1h2v1h-2zm22 0h2v1h-2zm-20 1h3v1h-3zm18 0h2v1h-2z"/>
<path fill="#0014ff" d="m14 0h2v1h-2zm26 0h2v1h-2zm-27 1h1v1h-1zm29 0h1v1h-1zm-31 1h2v1h-2zm32 0h1v1h-1zm-33 1h2v1h-2zm34 0h1v1h-1zm-35 1h2v1h-2zm36 0h1v1h-1zm-36 1h1v1h-1zm36 0h2v1h-2zm-37 1h1v1h-1zm38 0h1v1h-1zm-39 1h1v1h-1zm40 0h1v1h-1zm-40 1h1v1h-1zm40 0h1v1h-1zm-41 1h1v1h-1zm42 0h1v1h-1zm-42 1h1v1h-1zm42 0h1v1h-1zm-43 1h1v1h-1zm44 0h1v1h-1zm-44 1h1v1h-1zm44 0h1v1h-1zm-44 1h1v1h-1zm44 0h1v1h-1zm-45 1h1v1h-1zm45 0h1v1h-1zm-45 1h1v1h-1zm0 1h1v1h-1zm46 0h1v1h-1zm-46 1h1v1h-1zm46 0h1v1h-1zm-46 1h1v1h-1zm46 0h1v1h-1zm-46 1h1v1h-1zm46 0h1v1h-1zm-46 1h1v1h-1zm0 1h1v1h-1zm45 0h1v1h-1zm-44 1h1v1h-1zm44 0h1v1h-1zm-44 1h1v1h-1zm44 0h1v1h-1zm-44 1h1v1h-1zm44 0h1v1h-1zm-44 1h2v1h-2zm43 0h1v1h-1zm-42 1h1v1h-1zm42 0h1v1h-1zm-42 1h1v1h-1zm42 0h1v1h-1zm-41 1h1v1h-1zm40 0h1v1h-1zm-40 1h2v1h-2zm39 0h2v1h-2zm-38 1h1v1h-1zm38 0h1v1h-1zm-37 1h1v1h-1zm36 0h1v1h-1zm-35 1h1v1h-1zm34 0h2v1h-2zm-33 1h1v1h-1zm32 0h2v1h-2zm-31 1h1v1h-1zm30 0h2v1h-2zm-29 1h2v1h-2zm28 0h2v1h-2zm-26 1h1v1h-1zm25 0h1v1h-1zm-24 1h2v1h-2zm22 0h2v1h-2zm-20 1h3v1h-3zm18 0h2v1h-2zm-15 1h4v1h-4zm11 0h4v1h-4z"/>
<path fill="#0028ff" d="m16 0h2v1h-2zm23 0h1v1h-1zm-25 1h2v1h-2zm26 0h2v1h-2zm-27 1h1v1h-1zm29 0h1v1h-1zm-30 1h1v1h-1zm31 0h1v1h-1zm-32 1h1v1h-1zm33 0h1v1h-1zm-34 1h1v1h-1zm34 0h1v1h-1zm-35 1h1v1h-1zm36 0h1v1h-1zm-37 1h1v1h-1zm38 0h1v1h-1zm-38 1h1v1h-1zm38 0h1v1h-1zm-39 1h1v1h-1zm40 0h1v1h-1zm-40 1h1v1h-1zm40 0h1v1h-1zm-41 1h1v1h-1zm42 0h1v1h-1zm-42 1h1v1h-1zm42 0h1v1h-1zm-42 1h1v1h-1zm42 0h1v1h-1zm-43 1h1v1h-1zm0 1h1v1h-1zm44 0h1v1h-1zm-44 1h1v1h-1zm44 0h1v1h-1zm-44 1h1v1h-1zm44 0h1v1h-1zm-44 1h1v1h-1zm44 0h1v1h-1zm-44 1h1v1h-1zm44 0h1v1h-1zm-44 1h1v1h-1zm44 0h1v1h-1zm-44 1h1v1h-1zm43 1h1v1h-1zm-42 1h1v1h-1zm42 0h1v1h-1zm-42 1h1v1h-1zm42 0h1v1h-1zm-41 2h1v1h-1zm40 0h1v1h-1zm-40 1h1v1h-1zm40 0h1v1h-1zm-39 1h1v1h-1zm38 0h1v1h-1zm-37 1h1v1h-1zm0 1h1v1h-1zm36 0h1v1h-1zm-35 1h1v1h-1zm34 0h1v1h-1zm-33 1h1v1h-1zm32 0h1v1h-1zm-31 1h1v1h-1zm30 0h1v1h-1zm-29 1h2v1h-2zm28 0h1v1h-1zm-26 1h1v1h-1zm25 0h1v1h-1zm-24 1h2v1h-2zm22 0h2v1h-2zm-20 1h3v1h-3zm18 0h2v1h-2zm-15 1h3v1h-3zm12 0h3v1h-3zm-8 1h7v1h-7z"/>
<path fill="#0040ff" d="m18 0h1v1h-1zm19 0h2v1h-2zm-21 1h1v1h-1zm23 0h1v1h-1zm-25 1h2v1h-2zm26 0h2v1h-2zm-27 1h1v1h-1zm29 0h1v1h-1zm-30 1h1v1h-1zm31 0h1v1h-1zm-32 1h1v1h-1zm-1 1h1v1h-1zm34 0h1v1h-1zm-35 1h1v1h-1zm36 0h1v1h-1zm-36 1h1v1h-1zm-1 1h1v1h-1zm38 0h1v1h-1zm-39 2h1v1h-1zm40 0h1v1h-1zm-40 1h1v1h-1zm40 0h1v1h-1zm-41 2h1v1h-1zm42 0h1v1h-1zm-42 1h1v1h-1zm42 0h1v1h-1zm-42 1h1v1h-1zm42 0h1v1h-1zm-42 1h1v1h-1zm42 0h1v1h-1zm-42 1h1v1h-1zm42 0h1v1h-1zm-42 1h1v1h-1zm42 0h1v1h-1zm-42 1h1v1h-1zm42 0h1v1h-1zm-42 1h1v1h-1zm42 0h1v1h-1zm-42 1h1v1h-1zm1 1h1v1h-1zm40 0h1v1h-1zm-40 1h1v1h-1zm40 0h1v1h-1zm-40 1h1v1h-1zm40 0h1v1h-1zm-39 1h1v1h-1zm38 0h1v1h-1zm-38 1h1v1h-1zm38 0h1v1h-1zm-37 1h1v1h-1zm36 0h1v1h-1zm-35 1h1v1h-1zm35 0h1v1h-1zm-35 1h1v1h-1zm34 0h1v1h-1zm-33 1h1v1h-1zm32 0h1v1h-1zm-31 1h1v1h-1zm30 0h1v1h-1zm-29 1h2v1h-2zm28 0h1v1h-1zm-26 1h1v1h-1zm25 0h1v1h-1zm-24 1h2v1h-2zm22 0h2v1h-2zm-20 1h2v1h-2zm19 0h1v1h-1zm-16 1h2v1h-2zm13 0h2v1h-2zm-10 1h9v1h-9z"/>
<path fill="#0054ff" d="m19 0h2v1h-2zm17 0h1v1h-1zm-19 1h2v1h-2zm21 0h1v1h-1zm-22 1h1v1h-1zm23 0h1v1h-1zm-25 1h1v1h-1zm27 0h1v1h-1zm-28 1h1v1h-1zm29 0h1v1h-1zm-30 1h1v1h-1zm31 0h1v1h-1zm-32 1h1v1h-1zm-1 1h1v1h-1zm34 0h1v1h-1zm1 1h1v1h-1zm-36 1h1v1h-1zm-1 1h1v1h-1zm38 0h1v1h-1zm-38 1h1v1h-1zm38 0h1v1h-1zm-39 2h1v1h-1zm40 0h1v1h-1zm-40 1h1v1h-1zm40 0h1v1h-1zm-40 1h1v1h-1zm40 0h1v1h-1zm-40 1h1v1h-1zm40 0h1v1h-1zm-40 3h1v1h-1zm0 1h1v1h-1zm40 0h1v1h-1zm-40 1h1v1h-1zm40 0h1v1h-1zm-40 1h1v1h-1zm40 0h1v1h-1zm-39 2h1v1h-1zm38 0h1v1h-1zm-38 1h1v1h-1zm38 0h1v1h-1zm-37 1h1v1h-1zm0 1h1v1h-1zm36 0h1v1h-1zm-35 1h1v1h-1zm1 1h1v1h-1zm33 0h1v1h-1zm-33 1h1v1h-1zm32 0h1v1h-1zm-31 1h1v1h-1zm30 0h1v1h-1zm-29 1h1v1h-1zm28 0h1v1h-1zm-26 1h1v1h-1zm25 0h1v1h-1zm-24 1h1v1h-1zm23 0h1v1h-1zm-21 1h1v1h-1zm19 0h1v1h-1zm-17 1h2v1h-2zm15 0h2v1h-2zm-12 1h5v1h-5zm7 0h4v1h-4z"/>
<path fill="#0068ff" d="m21 0h2v1h-2zm13 0h2v1h-2zm-15 1h1v1h-1zm17 0h2v1h-2zm-19 1h1v1h-1zm21 0h1v1h-1zm-23 1h1v1h-1zm25 0h1v1h-1zm-26 1h1v1h-1zm27 0h1v1h-1zm-28 1h1v1h-1zm29 0h1v1h-1zm-30 1h1v1h-1zm31 0h1v1h-1zm-32 1h1v1h-1zm-1 1h1v1h-1zm34 0h1v1h-1zm-34 1h1v1h-1zm35 0h1v1h-1zm-36 1h1v1h-1zm36 0h1v1h-1zm-37 2h1v1h-1zm38 0h1v1h-1zm-38 1h1v1h-1zm38 0h1v1h-1zm-38 1h1v1h-1zm-1 3h1v1h-1zm40 0h1v1h-1zm-40 1h1v1h-1zm40 0h1v1h-1zm0 1h1v1h-1zm-39 3h1v1h-1zm38 0h1v1h-1zm-38 1h1v1h-1zm38 0h1v1h-1zm-37 2h1v1h-1zm36 0h1v1h-1zm0 1h1v1h-1zm-35 1h1v1h-1zm1 1h1v1h-1zm33 0h1v1h-1zm-1 1h1v1h-1zm-31 1h1v1h-1zm30 0h1v1h-1zm-29 1h1v1h-1zm1 1h1v1h-1zm26 0h1v1h-1zm-24 1h1v1h-1zm23 0h1v1h-1zm-22 1h2v1h-2zm21 0h1v1h-1zm-19 1h2v1h-2zm17 0h1v1h-1zm-14 1h2v1h-2zm11 0h2v1h-2zm-5 1h2v1h-2z"/>
<path fill="#0080ff" d="m23 0h3v1h-3zm8 0h3v1h-3zm-11 1h2v1h-2zm15 0h1v1h-1zm-17 1h1v1h-1zm19 0h1v1h-1zm-21 1h1v1h-1zm23 0h1v1h-1zm-24 1h1v1h-1zm25 0h1v1h-1zm-26 1h1v1h-1zm27 0h1v1h-1zm-28 1h1v1h-1zm29 0h1v1h-1zm-30 1h1v1h-1zm31 0h1v1h-1zm-32 1h1v1h-1zm33 1h1v1h-1zm-34 1h1v1h-1zm-1 1h1v1h-1zm36 0h1v1h-1zm-36 1h1v1h-1zm37 2h1v1h-1zm-38 1h1v1h-1zm38 0h1v1h-1zm-38 1h1v1h-1zm38 0h1v1h-1zm-38 1h1v1h-1zm38 0h1v1h-1zm-38 1h1v1h-1zm38 0h1v1h-1zm-38 1h1v1h-1zm38 0h1v1h-1zm-38 1h1v1h-1zm38 0h1v1h-1zm-38 1h1v1h-1zm38 0h1v1h-1zm-37 2h1v1h-1zm0 1h1v1h-1zm36 0h1v1h-1zm-35 2h1v1h-1zm34 0h1v1h-1zm-33 1h1v1h-1zm33 0h1v1h-1zm-1 1h1v1h-1zm-31 1h1v1h-1zm1 1h1v1h-1zm1 1h1v1h-1zm27 0h1v1h-1zm-26 1h1v1h-1zm2 1h1v1h-1zm21 0h1v1h-1zm-19 1h1v1h-1zm18 0h1v1h-1zm-16 1h2v1h-2zm13 0h2v1h-2zm-10 1h9v1h-9z"/>
<path fill="#0094ff" d="m26 0h5v1h-5zm-4 1h1v1h-1zm11 0h2v1h-2zm-14 1h1v1h-1zm17 0h1v1h-1zm-19 1h1v1h-1zm21 0h1v1h-1zm-22 1h1v1h-1zm23 0h1v1h-1zm1 1h1v1h-1zm1 1h1v1h-1zm1 1h1v1h-1zm-30 1h1v1h-1zm31 0h1v1h-1zm-32 1h1v1h-1zm33 1h1v1h-1zm-34 1h1v1h-1zm35 1h1v1h-1zm-36 1h1v1h-1zm36 0h1v1h-1zm-36 1h1v1h-1zm0 1h1v1h-1zm0 6h1v1h-1zm0 1h1v1h-1zm36 0h1v1h-1zm0 1h1v1h-1zm-35 1h1v1h-1zm0 1h1v1h-1zm34 0h1v1h-1zm-33 1h1v1h-1zm32 1h1v1h-1zm-31 1h1v1h-1zm1 1h1v1h-1zm29 0h1v1h-1zm-28 1h1v1h-1zm27 0h1v1h-1zm-26 1h1v1h-1zm25 0h1v1h-1zm-24 1h1v1h-1zm23 0h1v1h-1zm-21 1h1v1h-1zm19 0h1v1h-1zm-17 1h1v1h-1zm15 0h2v1h-2zm-12 1h2v1h-2zm9 0h2v1h-2z"/>
<path fill="#00a8ff" d="m23 1h3v1h-3zm8 0h2v1h-2zm-11 1h2v1h-2zm15 0h1v1h-1zm-17 1h1v1h-1zm19 0h1v1h-1zm-20 1h1v1h-1zm-2 1h1v1h-1zm-1 1h1v1h-1zm-1 1h1v1h-1zm29 1h1v1h-1zm-30 1h1v1h-1zm31 0h1v1h-1zm-32 1h1v1h-1zm33 1h1v1h-1zm-34 1h1v1h-1zm34 0h1v1h-1zm-34 1h1v1h-1zm35 1h1v1h-1zm0 1h1v1h-1zm-36 1h1v1h-1zm36 0h1v1h-1zm-36 1h1v1h-1zm36 0h1v1h-1zm-36 1h1v1h-1zm36 0h1v1h-1zm-36 1h1v1h-1zm36 0h1v1h-1zm-36 1h1v1h-1zm36 0h1v1h-1zm0 1h1v1h-1zm-35 2h1v1h-1zm34 1h1v1h-1zm-33 1h1v1h-1zm32 1h1v1h-1zm-31 1h1v1h-1zm1 1h1v1h-1zm29 0h1v1h-1zm-28 1h1v1h-1zm27 0h1v1h-1zm-26 1h1v1h-1zm25 0h1v1h-1zm-24 1h1v1h-1zm23 0h1v1h-1zm-22 1h1v1h-1zm21 0h1v1h-1zm-19 1h1v1h-1zm17 0h1v1h-1zm-15 1h2v1h-2zm13 0h1v1h-1zm-9 1h7v1h-7z"/>
<path fill="#00c0ff" d="m26 1h5v1h-5zm-4 1h1v1h-1zm11 0h2v1h-2zm-14 1h2v1h-2zm17 0h1v1h-1zm-18 1h1v1h-1zm20 0h1v1h-1zm-22 1h1v1h-1zm23 0h1v1h-1zm-24 1h1v1h-1zm25 0h1v1h-1zm-26 1h1v1h-1zm27 0h1v1h-1zm-28 1h1v1h-1zm30 2h1v1h-1zm-32 1h1v1h-1zm33 2h1v1h-1zm-34 1h1v1h-1zm0 1h1v1h-1zm0 5h1v1h-1zm0 1h1v1h-1zm0 1h1v1h-1zm34 0h1v1h-1zm0 1h1v1h-1zm-33 1h1v1h-1zm32 1h1v1h-1zm-31 1h1v1h-1zm1 1h1v1h-1zm29 0h1v1h-1zm-1 1h1v1h-1zm-24 3h1v1h-1zm21 0h1v1h-1zm-20 1h1v1h-1zm19 0h1v1h-1zm-17 1h1v1h-1zm15 0h1v1h-1zm-12 1h2v1h-2zm9 0h2v1h-2z"/>
<path fill="#00d4ff" d="m23 2h3v1h-3zm9 0h1v1h-1zm-11 1h1v1h-1zm14 0h1v1h-1zm-16 1h1v1h-1zm18 0h1v1h-1zm-20 1h1v1h-1zm21 0h1v1h-1zm-22 1h1v1h-1zm25 2h1v1h-1zm-28 1h1v1h-1zm29 0h1v1h-1zm-30 1h1v1h-1zm31 1h1v1h-1zm-32 1h1v1h-1zm0 1h1v1h-1zm33 1h1v1h-1zm0 1h1v1h-1zm-34 1h1v1h-1zm34 0h1v1h-1zm-34 1h1v1h-1zm0 1h1v1h-1zm0 1h1v1h-1zm34 0h1v1h-1zm0 1h1v1h-1zm0 1h1v1h-1zm-33 1h1v1h-1zm0 1h1v1h-1zm32 1h1v1h-1zm-31 1h1v1h-1zm30 1h1v1h-1zm-28 2h1v1h-1zm1 1h1v1h-1zm25 0h1v1h-1zm-24 1h1v1h-1zm23 0h1v1h-1zm-21 1h1v1h-1zm1 1h1v1h-1zm17 0h1v1h-1zm-15 1h2v1h-2zm13 0h1v1h-1zm-9 1h7v1h-7z"/>
<path fill="#02e8f4" d="m26 2h6v1h-6zm-4 1h1v1h-1zm12 0h1v1h-1zm-14 1h1v1h-1zm16 0h1v1h-1zm-18 1h1v1h-1zm21 1h1v1h-1zm-24 1h1v1h-1zm25 0h1v1h-1zm-26 1h1v1h-1zm-1 2h1v1h-1zm29 0h1v1h-1zm-30 1h1v1h-1zm0 1h1v1h-1zm31 0h1v1h-1zm0 1h1v1h-1zm-32 1h1v1h-1zm0 1h1v1h-1zm33 2h1v1h-1zm0 1h1v1h-1zm-33 2h1v1h-1zm0 1h1v1h-1zm32 1h1v1h-1zm0 1h1v1h-1zm-31 1h1v1h-1zm30 1h1v1h-1zm-29 1h1v1h-1zm1 1h1v1h-1zm27 0h1v1h-1zm-26 1h1v1h-1zm25 0h1v1h-1zm-24 1h1v1h-1zm23 0h1v1h-1zm-22 1h1v1h-1zm21 0h1v1h-1zm-1 1h1v1h-1zm-17 1h1v1h-1zm15 0h1v1h-1zm-12 1h2v1h-2zm9 0h2v1h-2z"/>
<path fill="#16ffe1" d="m23 3h2v1h-2zm9 0h2v1h-2zm-11 1h1v1h-1zm14 0h1v1h-1zm-16 1h1v1h-1zm18 0h1v1h-1zm-20 1h1v1h-1zm21 0h1v1h-1zm-22 1h1v1h-1zm23 0h1v1h-1zm-24 1h1v1h-1zm25 0h1v1h-1zm-26 1h1v1h-1zm27 0h1v1h-1zm-28 2h1v1h-1zm29 0h1v1h-1zm-30 2h1v1h-1zm31 1h1v1h-1zm0 1h1v1h-1zm-32 1h1v1h-1zm0 1h1v1h-1zm0 1h1v1h-1zm0 1h1v1h-1zm32 2h1v1h-1zm-31 1h1v1h-1zm0 1h1v1h-1zm30 1h1v1h-1zm-29 1h1v1h-1zm1 1h1v1h-1zm27 0h1v1h-1zm-23 4h1v1h-1zm1 1h1v1h-1zm17 0h1v1h-1zm-15 1h2v1h-2zm13 0h1v1h-1zm-9 1h3v1h-3zm5 0h2v1h-2z"/>
<path fill="#26ffd1" d="m25 3h3v1h-3zm4 0h3v1h-3zm-7 1h1v1h-1zm12 0h1v1h-1zm2 1h1v1h-1zm-18 1h1v1h-1zm-4 4h1v1h-1zm27 0h1v1h-1zm-28 2h1v1h-1zm29 0h1v1h-1zm-30 2h1v1h-1zm0 1h1v1h-1zm31 1h1v1h-1zm0 1h1v1h-1zm0 1h1v1h-1zm0 1h1v1h-1zm0 1h1v1h-1zm-31 1h1v1h-1zm30 2h1v1h-1zm-29 1h1v1h-1zm28 1h1v1h-1zm-26 2h1v1h-1zm25 0h1v1h-1zm-24 1h1v1h-1zm23 0h1v1h-1zm-22 1h1v1h-1zm21 0h1v1h-1zm-1 1h1v1h-1zm-17 1h1v1h-1zm15 0h1v1h-1zm-12 1h1v1h-1zm10 0h1v1h-1zm-5 1h2v1h-2z"/>
<path fill="#36ffc1" d="m28 3h1v1h-1zm-5 1h1v1h-1zm10 0h1v1h-1zm-13 1h1v1h-1zm15 0h1v1h-1zm2 1h1v1h-1zm-20 1h1v1h-1zm21 0h1v1h-1zm-22 1h1v1h-1zm23 0h1v1h-1zm-24 1h1v1h-1zm25 0h1v1h-1zm-26 2h1v1h-1zm27 0h1v1h-1zm-28 2h1v1h-1zm29 0h1v1h-1zm0 1h1v1h-1zm-30 2h1v1h-1zm0 1h1v1h-1zm0 1h1v1h-1zm0 1h1v1h-1zm0 1h1v1h-1zm30 2h1v1h-1zm-29 1h1v1h-1zm28 1h1v1h-1zm-27 1h1v1h-1zm1 1h1v1h-1zm25 0h1v1h-1zm-22 3h1v1h-1zm1 1h1v1h-1zm17 0h1v1h-1zm-15 1h1v1h-1zm13 0h1v1h-1zm-10 1h2v1h-2zm7 0h2v1h-2z"/>
<path fill="#49ffad" d="m24 4h2v1h-2zm7 0h2v1h-2zm-10 1h1v1h-1zm13 0h1v1h-1zm-15 1h1v1h-1zm17 0h1v1h-1zm-18 1h1v1h-1zm-3 3h1v1h-1zm25 0h1v1h-1zm1 2h1v1h-1zm-28 2h1v1h-1zm29 1h1v1h-1zm0 1h1v1h-1zm0 3h1v1h-1zm0 1h1v1h-1zm-29 1h1v1h-1zm29 0h1v1h-1zm-29 1h1v1h-1zm28 1h1v1h-1zm-27 1h1v1h-1zm26 1h1v1h-1zm-24 2h1v1h-1zm23 0h1v1h-1zm-22 1h1v1h-1zm21 0h1v1h-1zm-1 1h1v1h-1zm-17 1h1v1h-1zm15 0h1v1h-1zm-13 1h2v1h-2zm11 0h1v1h-1zm-7 1h5v1h-5z"/>
<path fill="#5aff9d" d="m26 4h5v1h-5zm-4 1h1v1h-1zm11 0h1v1h-1zm-13 1h1v1h-1zm17 1h1v1h-1zm-20 1h1v1h-1zm21 0h1v1h-1zm-22 1h1v1h-1zm23 0h1v1h-1zm1 2h1v1h-1zm-26 1h1v1h-1zm27 1h1v1h-1zm-28 2h1v1h-1zm0 1h1v1h-1zm0 1h1v1h-1zm29 0h1v1h-1zm-29 1h1v1h-1zm29 0h1v1h-1zm-29 1h1v1h-1zm0 1h1v1h-1zm28 2h1v1h-1zm-27 1h1v1h-1zm1 2h1v1h-1zm1 1h1v1h-1zm23 0h1v1h-1zm-22 1h1v1h-1zm1 1h1v1h-1zm1 1h1v1h-1zm17 0h1v1h-1zm-15 1h1v1h-1zm3 1h1v1h-1zm8 0h1v1h-1z"/>
<path fill="#6aff8d" d="m23 5h2v1h-2zm9 0h1v1h-1zm-11 1h1v1h-1zm14 0h1v1h-1zm-16 1h1v1h-1zm17 0h1v1h-1zm-18 1h1v1h-1zm-1 1h1v1h-1zm-1 1h1v1h-1zm23 0h1v1h-1zm-24 1h1v1h-1zm-1 2h1v1h-1zm0 1h1v1h-1zm27 0h1v1h-1zm0 7h1v1h-1zm-27 1h1v1h-1zm1 2h1v1h-1zm25 0h1v1h-1zm-2 3h1v1h-1zm-1 1h1v1h-1zm-17 1h1v1h-1zm2 1h1v1h-1zm12 0h1v1h-1zm-9 1h2v1h-2zm5 0h2v1h-2z"/>
<path fill="#7dff7a" d="m25 5h2v1h-2zm6 0h1v1h-1zm-9 1h1v1h-1zm12 0h1v1h-1zm-14 1h1v1h-1zm17 1h1v1h-1zm1 1h1v1h-1zm-23 3h1v1h-1zm25 0h1v1h-1zm-26 3h1v1h-1zm27 0h1v1h-1zm-27 1h1v1h-1zm27 0h1v1h-1zm0 1h1v1h-1zm0 1h1v1h-1zm0 1h1v1h-1zm-27 1h1v1h-1zm27 0h1v1h-1zm-27 1h1v1h-1zm1 2h1v1h-1zm25 0h1v1h-1zm-24 2h1v1h-1zm23 0h1v1h-1zm-22 1h1v1h-1zm21 0h1v1h-1zm-20 1h1v1h-1zm1 1h1v1h-1zm17 0h1v1h-1zm-15 1h1v1h-1zm14 0h1v1h-1zm-12 1h1v1h-1zm10 0h1v1h-1zm-6 1h3v1h-3z"/>
<path fill="#8dff6a" d="m27 5h4v1h-4zm-4 1h1v1h-1zm10 0h1v1h-1zm-12 1h1v1h-1zm14 0h1v1h-1zm-16 1h1v1h-1zm-1 1h1v1h-1zm-1 1h1v1h-1zm21 0h1v1h-1zm-22 1h1v1h-1zm23 0h1v1h-1zm-24 2h1v1h-1zm25 0h1v1h-1zm-26 4h1v1h-1zm0 1h1v1h-1zm0 1h1v1h-1zm1 3h1v1h-1zm25 0h1v1h-1zm-24 2h1v1h-1zm23 0h1v1h-1zm-2 3h1v1h-1zm-17 1h1v1h-1zm2 1h1v1h-1zm12 0h1v1h-1zm-10 1h2v1h-2zm7 0h2v1h-2z"/>
<path fill="#9dff5a" d="m24 6h1v1h-1zm8 0h1v1h-1zm2 1h1v1h-1zm-14 1h1v1h-1zm16 0h1v1h-1zm1 1h1v1h-1zm-21 3h1v1h-1zm23 0h1v1h-1zm-24 2h1v1h-1zm25 0h1v1h-1zm-25 1h1v1h-1zm25 0h1v1h-1zm0 5h1v1h-1zm-25 1h1v1h-1zm25 0h1v1h-1zm-24 2h1v1h-1zm23 0h1v1h-1zm-22 2h1v1h-1zm21 0h1v1h-1zm-20 1h1v1h-1zm19 0h1v1h-1zm-18 1h1v1h-1zm17 0h1v1h-1zm-1 1h1v1h-1zm-12 1h1v1h-1zm10 0h1v1h-1zm-7 1h5v1h-5z"/>
<path fill="#b1ff46" d="m25 6h2v1h-2zm5 0h2v1h-2zm-8 1h1v1h-1zm13 1h1v1h-1zm-16 1h1v1h-1zm-1 1h1v1h-1zm-1 1h1v1h-1zm21 0h1v1h-1zm-22 2h1v1h-1zm23 0h1v1h-1zm-24 3h1v1h-1zm25 0h1v1h-1zm-25 1h1v1h-1zm25 0h1v1h-1zm-25 1h1v1h-1zm25 0h1v1h-1zm-25 1h1v1h-1zm25 0h1v1h-1zm-25 1h1v1h-1zm1 2h1v1h-1zm1 2h1v1h-1zm3 3h1v1h-1zm1 1h1v1h-1zm13 0h1v1h-1zm-10 1h1v1h-1zm8 0h1v1h-1z"/>
<path fill="#c1ff36" d="m27 6h3v1h-3zm-4 1h1v1h-1zm10 0h1v1h-1zm-12 1h1v1h-1zm15 1h1v1h-1zm1 1h1v1h-1zm-20 2h1v1h-1zm-1 2h1v1h-1zm23 0h1v1h-1zm-23 7h1v1h-1zm23 0h1v1h-1zm0 1h1v1h-1zm-1 2h1v1h-1zm-20 1h1v1h-1zm19 0h1v1h-1zm-18 1h1v1h-1zm17 0h1v1h-1zm-1 1h1v1h-1zm-13 1h1v1h-1zm3 1h1v1h-1zm6 0h1v1h-1z"/>
<path fill="#d1ff26" d="m24 7h2v1h-2zm8 0h1v1h-1zm-10 1h1v1h-1zm12 0h1v1h-1zm-14 1h1v1h-1zm-1 1h1v1h-1zm-1 1h1v1h-1zm19 0h1v1h-1zm1 1h1v1h-1zm-21 1h1v1h-1zm-1 2h1v1h-1zm23 0h1v1h-1zm-23 1h1v1h-1zm0 3h1v1h-1zm0 1h1v1h-1zm23 0h1v1h-1zm-22 3h1v1h-1zm21 0h1v1h-1zm-20 1h1v1h-1zm2 2h1v1h-1zm1 1h1v1h-1zm2 1h1v1h-1zm10 0h1v1h-1zm-7 1h5v1h-5z"/>
<path fill="#e4ff13" d="m26 7h2v1h-2zm3 0h3v1h-3zm-6 1h1v1h-1zm10 0h1v1h-1zm-12 1h1v1h-1zm14 0h1v1h-1zm1 1h1v1h-1zm-18 2h1v1h-1zm20 1h1v1h-1zm1 3h1v1h-1zm-23 1h1v1h-1zm23 0h1v1h-1zm-23 1h1v1h-1zm23 0h1v1h-1zm0 1h1v1h-1zm-22 3h1v1h-1zm21 0h1v1h-1zm-1 2h1v1h-1zm-18 1h1v1h-1zm17 0h1v1h-1zm-1 1h1v1h-1zm-13 1h1v1h-1zm12 0h1v1h-1zm-10 1h1v1h-1zm8 0h1v1h-1z"/>
<path fill="#f4f802" d="m28 7h1v1h-1zm-4 1h1v1h-1zm8 0h1v1h-1zm2 1h1v1h-1zm-14 1h1v1h-1zm-1 1h1v1h-1zm18 1h1v1h-1zm-20 2h1v1h-1zm21 0h1v1h-1zm-21 1h1v1h-1zm0 5h1v1h-1zm0 1h1v1h-1zm21 0h1v1h-1zm-20 2h1v1h-1zm19 0h1v1h-1zm-18 1h1v1h-1zm1 1h1v1h-1zm1 1h1v1h-1zm2 1h1v1h-1zm10 0h1v1h-1zm-8 1h2v1h-2zm5 0h2v1h-2z"/>
<path fill="#ffe600" d="m25 8h1v1h-1zm6 0h1v1h-1zm-9 1h1v1h-1zm-1 1h1v1h-1zm14 0h1v1h-1zm1 1h1v1h-1zm-17 1h1v1h-1zm-1 1h1v1h-1zm19 0h1v1h-1zm1 2h1v1h-1zm-21 1h1v1h-1zm21 0h1v1h-1zm-21 1h1v1h-1zm0 1h1v1h-1zm0 1h1v1h-1zm21 0h1v1h-1zm0 1h1v1h-1zm-20 2h1v1h-1zm18 2h1v1h-1zm-1 1h1v1h-1zm-13 1h1v1h-1zm12 0h1v1h-1zm-10 1h1v1h-1zm8 0h1v1h-1zm-5 1h3v1h-3z"/>
<path fill="#ffd000" d="m26 8h5v1h-5zm-3 1h1v1h-1zm10 0h1v1h-1zm1 1h1v1h-1zm-14 1h1v1h-1zm16 1h1v1h-1zm-18 2h1v1h-1zm20 3h1v1h-1zm0 1h1v1h-1zm-20 3h1v1h-1zm19 1h1v1h-1zm-18 1h1v1h-1zm1 1h1v1h-1zm1 1h1v1h-1zm4 2h1v1h-1zm6 0h1v1h-1z"/>
<path fill="#ffbd00" d="m24 9h1v1h-1zm8 0h1v1h-1zm-10 1h1v1h-1zm-1 1h1v1h-1zm14 0h1v1h-1zm-15 1h1v1h-1zm-1 1h1v1h-1zm18 1h1v1h-1zm-19 1h1v1h-1zm19 0h1v1h-1zm-19 1h1v1h-1zm0 3h1v1h-1zm0 1h1v1h-1zm19 1h1v1h-1zm-18 1h1v1h-1zm17 1h1v1h-1zm-1 1h1v1h-1zm-1 1h1v1h-1zm-11 1h1v1h-1zm10 0h1v1h-1zm-7 1h5v1h-5z"/>
<path fill="#ffab00" d="m25 9h2v1h-2zm6 0h1v1h-1zm-8 1h1v1h-1zm10 0h1v1h-1zm2 2h1v1h-1zm1 1h1v1h-1zm-17 1h1v1h-1zm18 2h1v1h-1zm-19 1h1v1h-1zm19 0h1v1h-1zm-19 1h1v1h-1zm19 0h1v1h-1zm0 1h1v1h-1zm0 1h1v1h-1zm-18 1h1v1h-1zm17 1h1v1h-1zm-16 1h1v1h-1zm1 1h1v1h-1zm1 1h1v1h-1zm2 1h1v1h-1zm8 0h1v1h-1z"/>
<path fill="#ff9400" d="m27 9h4v1h-4zm-3 1h1v1h-1zm8 0h1v1h-1zm-10 1h1v1h-1zm12 0h1v1h-1zm-13 1h1v1h-1zm-1 1h1v1h-1zm16 1h1v1h-1zm-17 1h1v1h-1zm0 5h1v1h-1zm17 1h1v1h-1zm-16 1h1v1h-1zm15 1h1v1h-1zm-1 1h1v1h-1zm-11 1h1v1h-1zm10 0h1v1h-1zm-8 1h2v1h-2zm5 0h2v1h-2z"/>
<path fill="#ff8200" d="m25 10h1v1h-1zm6 0h1v1h-1zm-8 1h1v1h-1zm10 0h1v1h-1zm1 1h1v1h-1zm1 1h1v1h-1zm-15 1h1v1h-1zm16 1h1v1h-1zm-17 1h1v1h-1zm0 1h1v1h-1zm0 1h1v1h-1zm0 1h1v1h-1zm17 1h1v1h-1zm-16 1h1v1h-1zm15 1h1v1h-1zm-14 1h1v1h-1zm1 1h1v1h-1zm2 1h1v1h-1zm8 0h1v1h-1zm-5 1h3v1h-3z"/>
<path fill="#ff6f00" d="m26 10h5v1h-5zm6 1h1v1h-1zm-10 1h1v1h-1zm-1 1h1v1h-1zm14 1h1v1h-1zm-15 1h1v1h-1zm16 1h1v1h-1zm0 1h1v1h-1zm0 1h1v1h-1zm0 1h1v1h-1zm-16 1h1v1h-1zm15 1h1v1h-1zm-14 1h1v1h-1zm1 1h1v1h-1zm12 0h1v1h-1zm-11 1h1v1h-1zm10 0h1v1h-1zm-8 1h1v1h-1zm6 0h1v1h-1z"/>
<path fill="#ff5900" d="m24 11h2v1h-2zm-1 1h1v1h-1zm10 0h1v1h-1zm-11 1h1v1h-1zm12 0h1v1h-1zm-13 1h1v1h-1zm14 1h1v1h-1zm-15 1h1v1h-1zm0 1h1v1h-1zm0 1h1v1h-1zm0 1h1v1h-1zm15 1h1v1h-1zm-14 1h1v1h-1zm13 1h1v1h-1zm-10 2h1v1h-1zm8 0h1v1h-1zm-6 1h5v1h-5z"/>
<path fill="#ff4700" d="m26 11h1v1h-1zm4 0h2v1h-2zm-6 1h1v1h-1zm8 0h1v1h-1zm2 2h1v1h-1zm-13 1h1v1h-1zm14 1h1v1h-1zm0 1h1v1h-1zm0 1h1v1h-1zm0 1h1v1h-1zm-14 1h1v1h-1zm1 2h1v1h-1zm1 1h1v1h-1zm10 0h1v1h-1zm-8 1h1v1h-1zm6 0h1v1h-1z"/>
<path fill="#ff3400" d="m27 11h3v1h-3zm-2 1h1v1h-1zm-2 1h1v1h-1zm10 0h1v1h-1zm-11 1h1v1h-1zm12 1h1v1h-1zm-13 1h1v1h-1zm0 1h1v1h-1zm0 1h1v1h-1zm0 1h1v1h-1zm13 1h1v1h-1zm-12 1h1v1h-1zm12 0h1v1h-1zm-11 1h1v1h-1zm10 0h1v1h-1zm-9 1h1v1h-1zm8 0h1v1h-1zm-6 1h5v1h-5z"/>
<path fill="#ff1e00" d="m26 12h1v1h-1zm4 0h2v1h-2zm-6 1h1v1h-1zm8 0h1v1h-1zm-9 1h1v1h-1zm10 0h1v1h-1zm-11 1h1v1h-1zm0 1h1v1h-1zm12 0h1v1h-1zm0 1h1v1h-1zm0 1h1v1h-1zm0 1h1v1h-1zm-12 1h1v1h-1zm1 1h1v1h-1zm10 0h1v1h-1zm-9 1h1v1h-1zm8 0h1v1h-1zm-7 1h1v1h-1zm6 0h1v1h-1z"/>
<path fill="#f60b00" d="m27 12h3v1h-3zm-2 1h1v1h-1zm6 0h1v1h-1zm-7 1h1v1h-1zm8 0h1v1h-1zm-9 1h1v1h-1zm10 0h1v1h-1zm-11 2h1v1h-1zm0 1h1v1h-1zm0 1h1v1h-1zm1 1h1v1h-1zm10 0h1v1h-1zm-8 2h1v1h-1zm1 1h5v1h-5z"/>
<path fill="#df0000" d="m26 13h5v1h-5zm-1 1h1v1h-1zm7 1h1v1h-1zm-9 1h1v1h-1zm10 0h1v1h-1zm-10 1h1v1h-1zm10 0h1v1h-1zm-10 1h1v1h-1zm10 0h1v1h-1zm-10 1h1v1h-1zm10 0h1v1h-1zm-9 2h1v1h-1zm8 0h1v1h-1zm-6 1h1v1h-1zm4 0h2v1h-2z"/>
<path fill="#c40000" d="m26 14h1v1h-1zm4 0h2v1h-2zm-6 1h2v1h-2zm0 1h1v1h-1zm8 0h1v1h-1zm-8 3h1v1h-1zm8 0h1v1h-1zm-8 1h1v1h-1zm8 0h1v1h-1zm-7 1h2v1h-2zm6 0h1v1h-1zm-4 1h3v1h-3z"/>
<path fill="#ad0000" d="m27 14h3v1h-3zm-1 1h1v1h-1zm4 0h2v1h-2zm-5 1h1v1h-1zm6 0h1v1h-1zm-7 1h1v1h-1zm8 0h1v1h-1zm-8 1h1v1h-1zm8 0h1v1h-1zm-7 1h1v1h-1zm6 0h1v1h-1zm-6 1h2v1h-2zm5 0h2v1h-2zm-3 1h4v1h-4z"/>
<path fill="#960000" d="m27 15h3v1h-3zm-1 1h5v1h-5zm-1 1h2v1h-2zm5 0h2v1h-2zm-5 1h2v1h-2zm5 0h2v1h-2zm-4 1h5v1h-5zm1 1h3v1h-3z"/>
<path fill="#800000" d="m27 17h3v1h-3zm0 1h3v1h-3z"/>
</g>
</g></g>
<g opacity="0.59">
<rect x="1195.5" y="512.5" width="342.7" height="288" fill="#000"/>
<path fill="#0d0d0d" d="M1460.9 510L1544.8 510L1544.8 803.2L1460.9 803.2Z"/>
<path fill="#888888" d="M1193.4 523.3L1295.8 523.3L1295.8 536.7L1296.6 547.5L1301.6 563.3L1310 580L1311.6 596.6L1309.1 613.3L1306.6 629.9L1303.3 654.9L1298.3 679.9L1295 696.6L1293.3 713.2L1290 743.2L1285.8 782.3L1193.4 782.3Z"/>
<path fill="#000000" d="M1195.5 560.8L1223.3 560.8L1231.7 566.6L1238.3 576.6L1241.7 590L1243 603.3L1241.7 619.9L1238.3 636.6L1233.3 653.3L1226.7 669.9L1218.4 681.6L1211.7 684.9L1195.5 684.1Z"/>
<path fill="#464646" d="M1295.8 510L1295.8 523.3L1295.8 536.7L1296.6 547.5L1301.6 563.3L1310 580L1311.6 596.6L1309.1 613.3L1306.6 629.9L1303.3 654.9L1298.3 679.9L1295 696.6L1293.3 713.2L1290 743.2L1285.8 782.3L1284.1 803.2L1449.2 803.2L1449.2 510Z"/>
<path fill="none" stroke="#282828" stroke-width="3.4" d="M1296.6 547.5L1301.6 563.3L1310 580L1311.6 596.6L1309.1 613.3L1306.6 629.9L1303.3 654.9L1298.3 679.9L1295 696.6L1293.3 713.2L1290 743.2L1285.8 782.3"/>
<path fill="#5c5c5c" d="M1331.6 510L1371.6 510L1361.6 547.5L1331.6 547.5Z"/>
<path fill="#585858" d="M1300 743.2L1394.9 743.2L1378.2 803.2L1285 803.2Z"/>
<path fill="#343434" d="M1404.9 510L1428.2 510L1433.2 580L1449.2 646.6L1449.2 743.2L1428.2 743.2L1418.2 629.9Z"/>
<path fill="#6c6c6c" d="M1449.2 510L1460.9 510L1460.9 803.2L1449.2 803.2Z"/>
<path fill="#5f5f5f" d="M1460.9 576.6L1544.8 576.6L1544.8 585L1460.9 585ZM1460.9 653.3L1544.8 653.3L1544.8 656.9L1460.9 656.9ZM1460.9 723.2L1544.8 723.2L1544.8 731.5L1460.9 731.5Z"/>
<path fill="#f0f0f0" d="M1387.3 548.8L1390 572.1L1392.1 596.7L1390.8 619.2L1384.8 641.7L1375 661.1L1365.8 677.7L1357.4 694.3L1348.9 709.5L1341.2 728L1335.5 741L1326 758.1L1321.6 778.9L1317.9 802.4L1328.1 804L1331.6 780.8L1335.5 761.6L1344.4 745.4L1350.3 731.8L1357.6 713.6L1365.8 698.8L1374.1 682.1L1383.2 665.4L1393.4 644.9L1399.7 620.7L1401 596.6L1398.8 571.2L1395.9 547.8ZM1388.8 557L1396.6 548.3L1401 548.3L1400.5 542.3L1393.2 543.3L1384.4 553ZM1360.3 563.1L1366.7 574.3L1372.4 587.3L1375.8 586L1371.5 572.3L1366.2 560.2ZM1309.3 511L1316.1 525.9L1323.1 542.9L1333.8 552.6L1344.4 556.9L1354.9 558.9L1355.6 555.4L1345.5 553.1L1336.1 549.1L1326.8 540.4L1320.5 524.1L1313.9 509ZM1343.9 691L1338.7 703.5L1334.5 715.1L1329.4 728.4L1324.4 741.3L1314.5 758.2L1308.9 778.8L1303.4 802.1L1312.5 804.2L1317.7 780.9L1322.7 761.5L1332.1 745.1L1337.2 731.4L1342.1 718L1346.1 706.3L1351 693.8ZM1426.6 618.3L1433 630.9L1436.3 655.4L1443.5 654.4L1440.1 629L1433.2 615ZM1358.9 633.7L1367.2 637.9L1369.3 633.7L1361 629.5ZM1349.4 676L1351.9 681L1356.3 678.8L1353.8 673.8ZM1385.1 510.1L1386.7 533.4L1389.7 533.2L1388.1 509.9Z"/>
<path fill="none" stroke="#6e6e6e" stroke-width="1.2" d="M1396.9 550.6L1387 551.8"/>
<path fill="none" stroke="#6e6e6e" stroke-width="1.2" d="M1397.6 556.5L1387.7 557.7"/>
<path fill="none" stroke="#6e6e6e" stroke-width="1.2" d="M1398.3 562.3L1388.4 563.5"/>
<path fill="none" stroke="#6e6e6e" stroke-width="1.2" d="M1399 568.1L1389.1 569.3"/>
<path fill="none" stroke="#6e6e6e" stroke-width="1.2" d="M1399.8 574.3L1389.6 575.2"/>
<path fill="none" stroke="#6e6e6e" stroke-width="1.2" d="M1400.3 580.6L1390.1 581.5"/>
<path fill="none" stroke="#6e6e6e" stroke-width="1.2" d="M1400.9 586.8L1390.7 587.7"/>
<path fill="none" stroke="#6e6e6e" stroke-width="1.2" d="M1401.4 593.1L1391.2 593.9"/>
<path fill="none" stroke="#6e6e6e" stroke-width="1.2" d="M1401.6 599.8L1391.2 599.2"/>
<path fill="none" stroke="#6e6e6e" stroke-width="1.2" d="M1401.3 605.7L1390.8 605.1"/>
<path fill="none" stroke="#6e6e6e" stroke-width="1.2" d="M1401 611.5L1390.5 610.9"/>
<path fill="none" stroke="#6e6e6e" stroke-width="1.2" d="M1400.6 617.3L1390.2 616.7"/>
<path fill="none" stroke="#6e6e6e" stroke-width="1.2" d="M1399.7 624.2L1389.3 621.5"/>
<path fill="none" stroke="#6e6e6e" stroke-width="1.2" d="M1398.1 630.1L1387.8 627.3"/>
<path fill="none" stroke="#6e6e6e" stroke-width="1.2" d="M1396.6 635.9L1386.2 633.1"/>
<path fill="none" stroke="#6e6e6e" stroke-width="1.2" d="M1395 641.7L1384.7 639"/>
<path fill="none" stroke="#6e6e6e" stroke-width="1.2" d="M1392.7 648.2L1382.9 643.3"/>
<path fill="none" stroke="#6e6e6e" stroke-width="1.2" d="M1390.2 653.2L1380.4 648.3"/>
<path fill="none" stroke="#6e6e6e" stroke-width="1.2" d="M1387.7 658.2L1377.9 653.3"/>
<path fill="none" stroke="#6e6e6e" stroke-width="1.2" d="M1385.2 663.2L1375.4 658.3"/>
<path fill="none" stroke="#6e6e6e" stroke-width="1.2" d="M1382.5 668.7L1372.7 663.3"/>
<path fill="none" stroke="#6e6e6e" stroke-width="1.2" d="M1379.4 674.3L1369.6 668.9"/>
<path fill="none" stroke="#6e6e6e" stroke-width="1.2" d="M1376.3 679.8L1366.5 674.4"/>
<path fill="none" stroke="#6e6e6e" stroke-width="1.2" d="M1373.6 685.2L1363.4 680.1"/>
<path fill="none" stroke="#6e6e6e" stroke-width="1.2" d="M1370.9 690.8L1360.7 685.7"/>
<path fill="none" stroke="#6e6e6e" stroke-width="1.2" d="M1368.1 696.3L1357.9 691.2"/>
<path fill="none" stroke="#6e6e6e" stroke-width="1.2" d="M1365.3 701.9L1355.1 696.2"/>
<path fill="none" stroke="#6e6e6e" stroke-width="1.2" d="M1362.5 706.9L1352.3 701.2"/>
<path fill="none" stroke="#6e6e6e" stroke-width="1.2" d="M1359.8 711.9L1349.6 706.2"/>
<path fill="none" stroke="#6e6e6e" stroke-width="1.2" d="M1357.5 716.9L1346.5 712.4"/>
<path fill="none" stroke="#6e6e6e" stroke-width="1.2" d="M1355 723L1344 718.5"/>
<path fill="none" stroke="#6e6e6e" stroke-width="1.2" d="M1352.5 729.1L1341.5 724.6"/>
<path fill="none" stroke="#6e6e6e" stroke-width="1.2" d="M1349.9 735.6L1338.8 730.8"/>
<path fill="none" stroke="#6e6e6e" stroke-width="1.2" d="M1347 742.3L1335.8 737.4"/>
<path fill="none" stroke="#6e6e6e" stroke-width="1.2" d="M1343.8 749L1333 743"/>
<path fill="none" stroke="#6e6e6e" stroke-width="1.2" d="M1340.8 754.5L1329.9 748.6"/>
<path fill="none" stroke="#6e6e6e" stroke-width="1.2" d="M1337.7 760.1L1326.9 754.1"/>
<path fill="none" stroke="#6e6e6e" stroke-width="1.2" d="M1336.3 764.5L1323.9 761.9"/>
<path fill="none" stroke="#6e6e6e" stroke-width="1.2" d="M1334.9 771.1L1322.5 768.6"/>
<path fill="none" stroke="#6e6e6e" stroke-width="1.2" d="M1333.5 777.8L1321.1 775.2"/>
<path fill="none" stroke="#6e6e6e" stroke-width="1.2" d="M1332.5 783.8L1319.8 781.8"/>
<path fill="none" stroke="#6e6e6e" stroke-width="1.2" d="M1331.6 789.6L1318.9 787.6"/>
<path fill="none" stroke="#6e6e6e" stroke-width="1.2" d="M1330.7 795.4L1318 793.4"/>
<path fill="none" stroke="#6e6e6e" stroke-width="1.2" d="M1329.8 801.2L1317.1 799.3"/>
<path fill="#f0f0f0" d="M1377.2 596.6L1376.8 597.7L1375.8 598.1L1374.7 597.7L1374.3 596.6L1374.7 595.6L1375.8 595.1L1376.8 595.6ZM1378.2 605L1377.9 605.9L1376.9 606.3L1376 605.9L1375.6 605L1376 604L1376.9 603.6L1377.9 604ZM1378.7 613.3L1378.4 614.2L1377.4 614.6L1376.5 614.2L1376.1 613.3L1376.5 612.3L1377.4 611.9L1378.4 612.3ZM1375.6 623.3L1375.1 624.3L1374.1 624.8L1373 624.3L1372.6 623.3L1373 622.2L1374.1 621.8L1375.1 622.2ZM1365.8 649.1L1365.1 650.6L1363.6 651.3L1362.1 650.6L1361.4 649.1L1362.1 647.6L1363.6 646.9L1365.1 647.6ZM1360.4 663.3L1359.8 664.8L1358.3 665.4L1356.7 664.8L1356.1 663.3L1356.7 661.7L1358.3 661.1L1359.8 661.7Z"/>
</g>
<path fill="none" stroke="#f02020" stroke-width="1.0" stroke-linejoin="round" d="M1377.2 596.6L1376.8 597.7L1375.8 598.1L1374.7 597.7L1374.3 596.6L1374.7 595.6L1375.8 595.1L1376.8 595.6Z"/>
<path fill="none" stroke="#f02020" stroke-width="1.0" stroke-linejoin="round" d="M1378.2 605L1377.9 605.9L1376.9 606.3L1376 605.9L1375.6 605L1376 604L1376.9 603.6L1377.9 604Z"/>
<path fill="none" stroke="#f02020" stroke-width="1.0" stroke-linejoin="round" d="M1378.7 613.3L1378.4 614.2L1377.4 614.6L1376.5 614.2L1376.1 613.3L1376.5 612.3L1377.4 611.9L1378.4 612.3Z"/>
<path fill="none" stroke="#f02020" stroke-width="1.0" stroke-linejoin="round" d="M1375.6 623.3L1375.1 624.3L1374.1 624.8L1373 624.3L1372.6 623.3L1373 622.2L1374.1 621.8L1375.1 622.2Z"/>
<path fill="none" stroke="#f02020" stroke-width="1.0" stroke-linejoin="round" d="M1365.8 649.1L1365.1 650.6L1363.6 651.3L1362.1 650.6L1361.4 649.1L1362.1 647.6L1363.6 646.9L1365.1 647.6Z"/>
<path fill="none" stroke="#f02020" stroke-width="1.0" stroke-linejoin="round" d="M1360.4 663.3L1359.8 664.8L1358.3 665.4L1356.7 664.8L1356.1 663.3L1356.7 661.7L1358.3 661.1L1359.8 661.7Z"/>
<path fill="none" stroke="#f02020" stroke-width="1.1" stroke-linejoin="round" d="M1387.3 548.8L1390 572.1L1392.1 596.7L1390.8 619.2L1384.8 641.7L1375 661.1L1365.8 677.7L1357.4 694.3L1348.9 709.5L1341.2 728L1335.5 741L1326 758.1L1321.6 778.9L1317.9 802.4L1328.1 804L1331.6 780.8L1335.5 761.6L1344.4 745.4L1350.3 731.8L1357.6 713.6L1365.8 698.8L1374.1 682.1L1383.2 665.4L1393.4 644.9L1399.7 620.7L1401 596.6L1398.8 571.2L1395.9 547.8Z"/>
<path fill="none" stroke="#f02020" stroke-width="1.1" stroke-linejoin="round" d="M1388.8 557L1396.6 548.3L1401 548.3L1400.5 542.3L1393.2 543.3L1384.4 553Z"/>
<path fill="none" stroke="#f02020" stroke-width="1.1" stroke-linejoin="round" d="M1360.3 563.1L1366.7 574.3L1372.4 587.3L1375.8 586L1371.5 572.3L1366.2 560.2Z"/>
<path fill="none" stroke="#f02020" stroke-width="1.1" stroke-linejoin="round" d="M1309.3 511L1316.1 525.9L1323.1 542.9L1333.8 552.6L1344.4 556.9L1354.9 558.9L1355.6 555.4L1345.5 553.1L1336.1 549.1L1326.8 540.4L1320.5 524.1L1313.9 509Z"/>
<path fill="none" stroke="#f02020" stroke-width="1.1" stroke-linejoin="round" d="M1343.9 691L1338.7 703.5L1334.5 715.1L1329.4 728.4L1324.4 741.3L1314.5 758.2L1308.9 778.8L1303.4 802.1L1312.5 804.2L1317.7 780.9L1322.7 761.5L1332.1 745.1L1337.2 731.4L1342.1 718L1346.1 706.3L1351 693.8Z"/>
<path fill="none" stroke="#f02020" stroke-width="1.1" stroke-linejoin="round" d="M1426.6 618.3L1433 630.9L1436.3 655.4L1443.5 654.4L1440.1 629L1433.2 615Z"/>
<path fill="none" stroke="#f02020" stroke-width="1.1" stroke-linejoin="round" d="M1358.9 633.7L1367.2 637.9L1369.3 633.7L1361 629.5Z"/>
<path fill="none" stroke="#f02020" stroke-width="1.1" stroke-linejoin="round" d="M1349.4 676L1351.9 681L1356.3 678.8L1353.8 673.8Z"/>
<path fill="none" stroke="#f02020" stroke-width="1.1" stroke-linejoin="round" d="M1385.1 510.1L1386.7 533.4L1389.7 533.2L1388.1 509.9Z"/>
<path fill="none" stroke="#f02020" stroke-width="1.0" stroke-linejoin="round" d="M1435.7 654.9L1444 654.9L1444.9 696.6L1444 746.5L1439.9 766.5L1434.9 746.5L1433.2 696.6Z"/>
<path fill="none" stroke="#f02020" stroke-width="1.0" stroke-linejoin="round" d="M1426.6 609.9L1428.9 612.4L1426.6 615.3L1424.2 612.4Z"/>
<path fill="none" stroke="#f02020" stroke-width="1.0" stroke-linejoin="round" d="M1424.1 601.3L1425.2 602.5L1424.1 603.6L1422.9 602.5Z"/>
</g>
<text class="tg" transform="scale(0.9241,1)" x="1333.01" y="763" font-size="30.43" fill="#fff">µCT</text>
<rect x="1195.5" y="512.5" width="342.7" height="288" fill="none" stroke="#000" stroke-width="1.25"/>
<path d="M1195.5 800.5v3.6M1244.46 800.5v3.6M1293.41 800.5v3.6M1342.37 800.5v3.6M1391.33 800.5v3.6M1440.29 800.5v3.6M1489.24 800.5v3.6M1538.2 800.5v3.6M1195.5 526.7h-3.6M1195.5 575.48h-3.6M1195.5 624.26h-3.6M1195.5 673.04h-3.6M1195.5 721.82h-3.6M1195.5 770.6h-3.6M1574.3 500.2h3.4M1574.3 563.9h3.4M1574.3 627.6h3.4M1574.3 691.3h3.4M1574.3 755h3.4" stroke="#000" stroke-width="1.1" fill="none"/>
<text class="dv" x="1175.13" y="820" font-size="19.3">−15</text>
<text class="dv" x="1224.09" y="820" font-size="19.3">−10</text>
<text class="dv" x="1279.19" y="820" font-size="19.3">−5</text>
<text class="dv" x="1336.23" y="820" font-size="19.3">0</text>
<text class="dv" x="1385.19" y="820" font-size="19.3">5</text>
<text class="dv" x="1428.01" y="820" font-size="19.3">10</text>
<text class="dv" x="1476.96" y="820" font-size="19.3">15</text>
<text class="dv" x="1525.92" y="820" font-size="19.3">20</text>
<text class="dv" x="1163.04" y="533.84" font-size="19.3">10</text>
<text class="dv" x="1175.68" y="582.62" font-size="19.3">5</text>
<text class="dv" x="1175.3" y="631.4" font-size="19.3">0</text>
<text class="dv" x="1159.47" y="680.18" font-size="19.3">−5</text>
<text class="dv" x="1146.83" y="728.96" font-size="19.3">−10</text>
<text class="dv" x="1147.22" y="777.74" font-size="19.3">−15</text>
<text class="dv" x="1229.74" y="505.8" font-size="23.97">Simulated PET Activity</text>
<text class="dv" x="1300.87" y="843.3" font-size="21.34">Depth [mm]</text>
<text class="dv" transform="translate(1138.3,754.42) rotate(-90)" font-size="21.57">Vertical Axis [mm]</text>
<rect x="1558.5" y="500" width="15.8" height="311.7" fill="url(#jet)" stroke="#1a0a0a" stroke-opacity=".75" stroke-width="1"/>
<text class="dv" x="1580.62" y="507.79" font-size="18.9">1.0</text>
<text class="dv" x="1581.47" y="571.49" font-size="18.9">0.8</text>
<text class="dv" x="1581.47" y="635.19" font-size="18.9">0.6</text>
<text class="dv" x="1581.47" y="698.89" font-size="18.9">0.4</text>
<text class="dv" x="1581.47" y="762.59" font-size="18.9">0.2</text>
<text class="dv" transform="translate(1627.7,779.48) rotate(-90)" font-size="19.25">Normalized Activity [a.u.]</text>
<text class="lb" transform="scale(0.7547,1)" x="1477.69" y="519.2" font-size="38.4">F</text>
</g>
<g id="panelG"><clipPath id="cg"><rect x="187.5" y="904.5" width="936.0" height="356.0"/></clipPath>
<g clip-path="url(#cg)">
<rect x="184.7" y="904.5" width="35.4" height="356.0" fill="#ccccff"/>
<rect x="220.1" y="904.5" width="241.5" height="356.0" fill="#ffffb2"/>
<rect x="486.7" y="904.5" width="87.6" height="356.0" fill="#ffe6ea"/>
<rect x="612.3" y="904.5" width="90.8" height="356.0" fill="#ffcccc"/>
<path d="M284.5 904.5v356.0M445.5 904.5v356.0M606.5 904.5v356.0M767.5 904.5v356.0M928.5 904.5v356.0M1089.5 904.5v356.0M187.5 919.5h936.0M187.5 984.5h936.0M187.5 1049.5h936.0M187.5 1114.5h936.0M187.5 1244.5h936.0" stroke="#b0b0b0" stroke-width="1.1" fill="none"/>
<path d="M187.5 1179.5h936.0" stroke="#fff" stroke-opacity="0.55" stroke-width="1.1" fill="none"/>
<path d="M187.6 1022.9C189.7 1022.4 194.9 1021.8 200.1 1019.5C205.4 1017.2 212.9 1013.4 219.1 1009.2C225.4 1005 231.5 998.8 237.5 994.5C243.4 990.1 247 986.7 254.9 983.1C262.7 979.4 273.7 976.3 284.5 972.5C295.3 968.6 309 964.1 319.9 960C330.8 956 340.7 951.6 349.9 948.3C359 945 364.5 942.8 375 940.5C385.4 938.2 400.9 935.5 412.7 934.4C424.4 933.3 438.4 933.9 445.5 933.7C452.6 933.5 450.2 934.2 455.2 933.2C460.1 932.2 468.5 929.6 475.1 927.8C481.8 926 489.7 923.6 495.1 922.5C500.5 921.3 504.1 921.2 507.6 920.8C511.2 920.4 508.2 920.4 516.7 920.2C525.1 919.9 545.6 919.6 558.2 919.5C570.8 919.4 583 918.9 592 919.7C601 920.4 605.6 922 612.3 924.1C619 926.3 625.6 930.1 632.3 932.7C638.9 935.4 642.2 938.1 652.2 940.2C662.3 942.3 682.8 943 692.5 945.3C702.1 947.7 703.5 949.2 710.2 954.3C716.9 959.3 723.2 963.6 732.7 975.4C742.3 987.3 755.8 1007.2 767.5 1025.6C779.2 1044 792.8 1067.4 802.9 1085.8C813 1104.2 820.5 1121.7 828 1136C835.5 1150.2 841.3 1161.6 848 1171.2C854.7 1180.9 861.6 1188 868.3 1193.9C875 1199.8 881.4 1203.2 888.2 1206.5C895.1 1209.8 902.6 1210.9 909.5 1213.6C916.4 1216.3 920.3 1218.8 929.5 1222.5C938.6 1226.3 953.5 1233 964.2 1235.9C975 1238.9 983.4 1239.2 994.2 1240.4C1005 1241.6 1007.2 1242.3 1029 1242.9C1050.8 1243.5 1108.9 1243.7 1124.9 1243.9" stroke="#000" stroke-width="1.75" fill="none"/>
<path d="M184.7 1241.4C185.3 1241.4 182.7 1241.8 188.5 1241.2C194.3 1240.7 208.7 1239.6 219.5 1238.4C230.2 1237.2 242.5 1235.9 253.3 1233.9C264.1 1231.9 274.4 1229.5 284.2 1226.3C294 1223.1 304.2 1218.7 312.2 1214.5C320.1 1210.3 324.8 1206 331.8 1201C338.9 1195.9 346.9 1190.1 354.4 1184C361.9 1178 369.9 1170.7 376.9 1164.4C383.9 1158.1 389.5 1152.1 396.6 1146C403.6 1139.9 410.9 1133.9 419.1 1127.8C427.3 1121.8 438.8 1114.1 445.8 1109.6C452.9 1105.2 454.5 1104.9 461.3 1101.2C468.1 1097.4 479.2 1091.6 486.7 1087.2C494.2 1082.8 499.3 1079.5 506.4 1074.5C513.4 1069.6 521.4 1063.5 528.9 1057.6C536.4 1051.7 542.9 1046.6 551.4 1039.1C560 1031.6 570.9 1021.7 580.1 1012.5C589.3 1003.2 597.9 992.1 606.8 983.5C615.7 974.9 624.8 967.5 633.5 960.8C642.3 954.1 650.1 948.4 659.3 943.2C668.5 938 680.3 933.1 688.9 929.6C697.6 926.1 704.4 923.8 711.1 922.1C717.9 920.4 723.7 919.2 729.5 919.5C735.4 919.8 739.6 920.8 746.2 924C752.8 927.3 762 932.9 769.1 939C776.2 945.1 782.1 951 788.8 960.8C795.4 970.5 801.7 983.1 809 997.5C816.4 1011.9 825.5 1030.4 832.9 1047.2C840.2 1064 845.6 1081 853.2 1098.2C860.7 1115.5 870.5 1136 878.3 1150.9C886 1165.8 892.6 1177.4 899.5 1187.6C906.4 1197.8 912.3 1205.6 919.8 1212C927.3 1218.4 934.7 1222.2 944.6 1226C954.5 1229.7 967 1232.1 979.4 1234.4C991.7 1236.7 1003.5 1238.3 1018.7 1239.6C1033.8 1241 1052.5 1241.9 1070.2 1242.5C1087.9 1243.2 1115.8 1243.4 1124.9 1243.5" stroke="#000" stroke-width="1.75" stroke-dasharray="6.4 2.8" fill="none"/>
</g>
<rect x="187.5" y="904.5" width="936.0" height="356.0" fill="none" stroke="#000" stroke-width="1.3"/>
<path d="M284.5 1260.5v4.6M445.5 1260.5v4.6M606.5 1260.5v4.6M767.5 1260.5v4.6M928.5 1260.5v4.6M1089.5 1260.5v4.6M187.5 1250.3h-4.6M187.5 1167h-4.6M187.5 1085h-4.6M187.5 1003.2h-4.6M187.5 919.3h-4.6" stroke="#000" stroke-width="1.1" fill="none"/>
<path d="M1123.5 1244.5h4.6M1123.5 1179.5h4.6M1123.5 1114.5h4.6M1123.5 1049.5h4.6M1123.5 984.5h4.6M1123.5 919.5h4.6" stroke="#000" stroke-width="1.1" fill="none"/>
<text class="dv" x="262.87" y="1284.9" font-size="20.5">−10</text>
<text class="dv" x="430.39" y="1284.9" font-size="20.5">−5</text>
<text class="dv" x="599.98" y="1284.9" font-size="20.5">0</text>
<text class="dv" x="760.98" y="1284.9" font-size="20.5">5</text>
<text class="dv" x="915.46" y="1284.9" font-size="20.5">10</text>
<text class="dv" x="1076.46" y="1284.9" font-size="20.5">15</text>
<text class="dv" x="164.62" y="1257.88" font-size="20.5">0</text>
<text class="dv" x="165.03" y="1174.59" font-size="20.5">5</text>
<text class="dv" x="151.6" y="1092.59" font-size="20.5">10</text>
<text class="dv" x="152.01" y="1010.79" font-size="20.5">15</text>
<text class="dv" x="151.6" y="926.88" font-size="20.5">20</text>
<text class="dv" x="1131.3" y="1252.45" font-size="21.5" fill="#de0d0d">0.0</text>
<text class="dv" x="1131.3" y="1187.45" font-size="21.5" fill="#de0d0d">0.2</text>
<text class="dv" x="1131.3" y="1122.45" font-size="21.5" fill="#de0d0d">0.4</text>
<text class="dv" x="1131.3" y="1057.45" font-size="21.5" fill="#de0d0d">0.6</text>
<text class="dv" x="1131.3" y="992.46" font-size="21.5" fill="#de0d0d">0.8</text>
<text class="dv" x="1130.34" y="927.46" font-size="21.5" fill="#de0d0d">1.0</text>
<text class="dv" x="587.39" y="1310.8" font-size="22.1">Depth [mm]</text>
<text class="dv" transform="translate(141.2,1135.5) rotate(-90)" font-size="21">Dose [Gy]</text>
<text class="dv" transform="translate(1187.2,1224.25) rotate(-90)" font-size="22.2" fill="#de0d0d">Normalized Activity [a.u.]</text>
<text class="lb" transform="scale(0.9065,1)" x="117.22" y="940.7" font-size="38.4">G</text>
<rect x="1225.8" y="912.4" width="336" height="165.7" rx="3.5" fill="#fff" stroke="#ccc" stroke-width="1.2"/>
<path d="M1232.2 927.3H1270.6" stroke="#000" stroke-width="1.75"/>
<text class="dv" x="1282.82" y="933.73" font-size="18.2">Simulated Dose SARRP</text>
<rect x="1232.2" y="947.4" width="38.4" height="13" fill="#ccccff"/>
<text class="dv" x="1282.18" y="960.33" font-size="18.2">Dimple</text>
<rect x="1232.2" y="974" width="38.4" height="13" fill="#ffffb2"/>
<text class="dv" x="1283" y="986.93" font-size="18.2">Collar</text>
<rect x="1232.2" y="1000.6" width="38.4" height="13" fill="#ffe6ea"/>
<text class="dv" x="1283" y="1013.53" font-size="18.2">CTV</text>
<rect x="1232.2" y="1027.2" width="38.4" height="13" fill="#ffcccc"/>
<text class="dv" x="1282.82" y="1040.13" font-size="18.2">SARRP Spine</text>
<path d="M1232.2 1060.3H1268.6" stroke="#000" stroke-width="1.75" stroke-dasharray="6.6 3.3"/>
<text class="dv" x="1282.82" y="1066.73" font-size="18.2">Simulated PET Activity SARRP</text></g>
</svg></body></html>
